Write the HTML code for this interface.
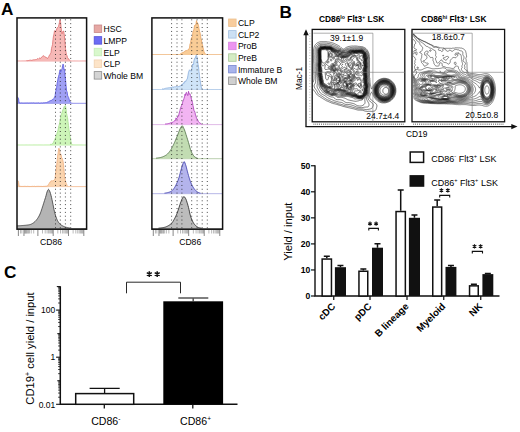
<!DOCTYPE html>
<html><head><meta charset="utf-8"><style>
html,body{margin:0;padding:0;background:#fff;width:520px;height:432px;overflow:hidden}
svg{display:block}
text{font-family:"Liberation Sans", sans-serif;fill:#000}
</style></head><body>
<svg width="520" height="432" viewBox="0 0 520 432">
<rect width="520" height="432" fill="#fff"/>
<defs><clipPath id="cb1"><rect x="312.9" y="30.1" width="91.3" height="91.1"/></clipPath></defs>
<path d="M324.3 63.0l-.8 .1 -.5-.2 -.4-.4 -.3-.5 -.3-.4 -.2-.5 -.2-.6 -.2-.5 -.1-.8 -.1-.5 0-.7 0-.8 0-.7 0-.8 -.1-.7 0-.8 0-.7 0-.8 0-.7 0-.8 .2-.5 .2-.5 .5-.5 .5 0 .8 0 .7 0 .8-.1 .7 .1 .5 .2 .5 .2 .5 .2 .4 .4 .3 .5 .1 .5 .1 .8 0 .7 .1 .8 0 .7 0 .8 -.1 .7 .1 .8 0 .7 0 .5 0 .5 -.2 .5 -.3 .5 -.3 .5 -.4 .5 -.3 .4 -.3 .4 -.4 .4 -.4 .3 -.4 .3 -.5 .4 -.2 .1z M361.0 73.6l.3-.1 -.3 .1z M385.8 94.2l-.5 0 -.6-.2 -.4-.3 -.5-.4 -.3-.3 -.3-.5 -.2-.5 -.2-.8 0-.7 .2-.8 .2-.5 .3-.5 .3-.4 .4-.3 .5-.3 .6-.2 .7 0 .8 .2 .5 .3 .3 .2 .4 .5 .3 .5 .2 .5 .1 .5 0 .8 0 .7 -.2 .5 -.2 .5 -.4 .5 -.3 .3 -.5 .4 -.5 .2 -.7 .1z M323.3 66.0l-.5 0 -.5-.4 -.3-.4 -.2-.6 -.1-.6 0-.8 0-.7 -.2-.7 -.2-.6 -.1-.5 -.2-.7 -.1-.5 -.1-.8 0-.7 0-.5 0-.8 0-.7 -.1-.8 0-.7 0-.8 0-.7 0-.8 .1-.7 0-.5 .2-.7 .3-.5 .3-.3 .7-.2 .5-.1 .5 0 .5 0 .7-.1 .8-.1 .5 .2 .7 .3 .5 .2 .5 .3 .5 .2 .3 0 .5-.2 .6-.3 .6 0 .5 .2 .3 .6 -.3 .7 -.5 .2 -.7 0 -.5 .2 -.3 .6 0 .5 0 .8 0 .7 0 .8 0 .7 0 .8 0 .7 .1 .5 .1 .8 -.2 .5 -.2 .6 -.3 .4 -.2 .5 -.3 .5 -.4 .5 -.3 .5 -.3 .3 -.3 .4 -.4 .5 -.3 .3 -.5 .5 -.2 .2 -.5 .5 -.3 .5 -.2 .3 -.5 .5z M362.3 60.8l-.8 0 -.1-.6 0-.7 -.4-.5 -.5-.1 -.7-.1 -.5-.3 -.1-.5 .3-.4 .5-.4 .3-.2 .5-.5 .3-.3 .3-.5 .3-.5 .2-.5 .4 .1 .1 .7 0 .7 0 .8 .1 .7 .1 .5 .3 .5 .2 .5 -.1 .8 -.2 .4 -.4 .3 -.1 .1z M331.5 60.8l-.7 0 -.5-.3 -.2-.5 .2-.7 .5-.1 .5 .2 .4 .3 .3 .5 0 .3 -.5 .3z M363.0 66.1l-.6-.1 0-.8 .4-.4 .3 .4 0 .8 -.1 .1z M361.8 75.8l-.5-.2 -.5-.2 -.5-.2 -.8-.1 -.7 .1 -.8 0 -.7-.1 -.8-.1 -.2-.3 .2-.5 .4-.2 .6-.1 .8-.1 .5-.1 .5-.3 .3-.4 .4-.4 .4-.4 .4-.2 .7-.3 .7 .3 .3 .4 .2 .6 0 .7 -.2 .8 -.1 .5 -.2 .5 -.4 .3z M338.0 81.2l-.2-.5 .2-.6 .4 .4 -.1 .7 -.3 0z M329.5 85.0l-.5-.2 -.3-.3 -.4-.5 -.3-.5 .3-.5 .7 0 .4 .2 .4 .5 .1 .5 -.1 .7 -.3 .1z M385.5 95.2l-.7 .1 -.8-.1 -.5 0 -.6-.2 -.5-.3 -.4-.2 -.5-.4 -.4-.4 -.3-.4 -.3-.4 -.2-.6 -.2-.6 -.1-.5 -.1-.7 .1-.8 .1-.5 .2-.5 .2-.6 .3-.4 .4-.5 .3-.3 .5-.4 .5-.3 .5-.2 .5-.2 .8 0 .7 0 .8 .2 .5 .2 .5 .2 .4 .3 .4 .3 .4 .4 .3 .3 .3 .5 .3 .5 .2 .5 .2 .8 0 .5 0 .7 -.1 .5 -.2 .8 -.2 .5 -.3 .5 -.2 .3 -.4 .4 -.4 .3 -.5 .3 -.5 .2 -.7 .2 -.3 0z M356.5 87.0l-.2-.3 .2 .2 0 .1z M362.8 90.7l-.6-.2 -.3-.5 .1-.7 .5-.2 .5 .4 .1 .5 -.1 .5 -.2 .2z M360.8 95.3l-.8 .1 -.7 0 -.8-.2 -.2-.3 -.3-.4 -.2-.8 .2-.7 .4-.3 .6-.1 .8 .1 .5 .1 .7 .1 .8 0 .4 .3 .2 .5 -.1 .8 -.3 .2 -.5 .4 -.6 .1 -.1 .1z M329.5 86.5l-.6 0 -.6-.3 -.4-.2 -.4-.3 -.4-.5 -.3-.2 -.5-.4 -.5-.2 -.5-.3 -.5-.2 -.5-.4 -.3-.3 -.4-.5 -.1-.5 -.2-.7 0-.5 -.1-.8 -.2-.5 -.2-.7 -.1-.5 0-.8 -.2-.7 .1-.8 -.2-.5 -.3-.5 0-.7 -.1-.6 -.2-.7 .1-.7 .1-.8 0-.6 0-.5 -.1-.6 -.1-.8 0-.7 -.1-.5 -.2-.7 -.2-.6 -.2-.5 -.1-.5 -.1-.7 -.1-.8 0-.7 .2-.8 .1-.5 -.1-.6 -.1-.6 -.1-.8 -.1-.5 -.1-.7 -.1-.5 0-.8 0-.7 0-.8 -.1-.7 0-.8 0-.7 0-.8 0-.7 .1-.8 0-.7 .1-.5 .2-.5 .3-.5 .4-.4 .5-.1 .8-.2 .7 .1 .8-.1 .5-.2 .7 .1 .5 .2 .5 .1 .6 .2 .6 .3 .5 0 .6-.3 .6 0 .6 0 .5 .2 .5 .3 .2 .5 .2 .5 0 .8 -.1 .7 -.3 .3 -.7 .2 -.5 .1 -.5 .2 -.3 .7 0 .5 0 .8 -.1 .7 .1 .8 .1 .5 .4 .4 .8-.2 .5 0 .5 .1 .5 .4 .2 .5 .3 .4 .5 .4 .5 .1 .7 0 .4-.4 0-.7 0-.8 .3-.5 .6-.2 .7 .1 .5 .2 .7 .2 .6 0 .7 .1 .5 .4 .1 .5 -.5 .2 -.6 .2 -.5 .2 -.5 .1 -.7 .3 -.5 .1 -.5 .3 -.1 .6 0 .7 -.1 .8 -.3 .5 -.3 .5 -.2 .3 -.4 .4 -.6 .2 -.5 .1 -.8 .1 -.5 .2 -.3 .4 -.2 .7 -.2 .6 -.3 .4 -.4 .3 -.6 .1 -.6-.1 -.6-.2 -.4-.3 -.4-.3 -.3-.4 -.4-.5 -.5-.1 -.5 .3 -.3 .3 -.2 .5 -.2 .7 -.1 .7 -.1 .6 -.1 .5 0 .7 .2 .5 .5 .3 .5 0 .5 0 .8-.2 .5-.1 .7-.1 .8 .1 .5 .2 .4 .3 .3 .4 .3 .6 0 .3 -.4 .5 -.4 .2 -.7 .2 -.6-.2 -.7-.1 -.7 .1 -.5 .2 -.5 .2 -.5 .2 -.5 .4 -.1 .5 .1 .6 0 .7 .1 .7 .1 .8 0 .5 .1 .7 0 .8 .2 .7 .2 .5 .3 .3 .5 .4 .7 0 .4-.4 .3-.5 .1-.5 .1-.8 .1-.7 .3-.3 .7-.2 .5-.2 .5-.2 .4 .4 .1 .7 .1 .5 .2 .7 .2 .6 0 .7 -.2 .8 -.2 .5 -.2 .5 -.2 .5 -.1 .7 .2 .6 .2 .7 .2 .5 0 .7 -.2 .5 -.5 .5 -.5 .2 -.5 .1z M362.5 80.4l-.7-.1 -.5-.3 -.5-.3 -.3-.3 -.2-.7 -.1-.5 -.2-.7 -.2-.3 -.8-.1 -.7 .1 -.5 .1 -.6 .2 -.7 .1 -.5-.3 -.3-.3 -.4-.5 -.3-.3 -.3-.5 -.1-.7 .2-.5 .4-.5 .3-.4 .5-.4 .5-.2 .5-.1 .8-.1 .5-.1 .5-.5 .1-.5 -.4-.4 -.3-.3 -.4-.5 -.2-.5 -.1-.5 -.7-.2 -.8 0 -.5-.1 -.5-.5 -.3-.2 -.7-.2 -.6-.1 -.4-.5 .1-.7 .2-.5 .1-.8 .1-.7 .3-.4 .5 .1 .3 .5 .2 .5 .5 .5 .7-.2 .5-.2 .5-.1 .5 0 .6 .3 .3 .5 -.1 .7 -.2 .5 -.2 .5 .1 .7 .5 .2 .8 .1 .5 .1 .5 .2 .5 0 .3-.5 .2-.5 .1-.8 0-.7 -.2-.5 -.1-.8 0-.7 0-.8 0-.7 -.1-.5 -.3-.5 -.4-.5 -.3-.3 -.5-.3 -.4-.4 -.3-.3 -.3-.5 -.3-.5 -.2-.5 -.2-.7 0-.5 0-.5 .5-.5 .5-.2 .5-.2 .5-.4 .2-.4 0-.3 -.4-.5 -.6-.2 -.5 .2 -.5 .5 -.3 .2 -.6 .3 -.3-.1 -.6-.2 -.5-.2 -.5-.3 -.5-.2 -.4-.3 -.5-.5 .2-.5 .5-.4 .8 0 .7 .1 .5 .1 .5 .2 .7 .3 .6 .1 .7-.1 .5-.2 .5-.2 .7-.1 .4 0 .7 0 .7 .2 .4 .3 .3 .5 .1 .5 -.1 .5 0 .7 0 .8 .1 .6 .2 .6 .3 .5 .1 .5 0 .8 -.1 .5 -.3 .6 -.2 .4 -.3 .7 0 .4 .2 .6 .2 .5 .3 .5 .2 .5 .1 .8 0 .5 -.1 .5 -.2 .5 -.3 .5 -.2 .5 -.2 .5 -.2 .7 -.1 .5 -.1 .8 .2 .5 .2 .5 .3 .7 .1 .5 .1 .8 -.1 .7 0 .8 .1 .7 .1 .5 0 .8 -.1 .6 -.2 .6 -.1 .5 -.2 .8 -.1 .5 -.4 .4z M341.8 59.3l-.5-.2 0-.5 .7 0 0 .6 -.2 .1z M328.2 63.0l.5-.3 .3-.4 0-.6 -.2-.5 -.5 0 -.3 .3 -.3 .5 -.2 .5 0 .6 .7-.1z M335.0 74.0l-.5-.3 .1-.2 .4 0 0 .5z M338.5 82.3l-.7 .1 -.8-.1 -.5-.2 -.1-.6 .1-.6 .2-.7 .1-.5 .2-.7 .1-.5 .3-.5 .6-.1 .5 .1 .5 .3 .3 .4 .1 .8 0 .7 -.1 .8 -.1 .5 -.2 .5 -.5 .3z M360.0 96.0l-.7 0 -.5-.1 -.6-.2 -.4-.4 -.3-.3 -.4-.5 -.3-.3 -.5-.3 -.5-.4 -.5-.3 -.3-.2 -.5-.5 -.2-.3 -.2-.7 .4-.4 .6-.1 .7-.1 .7 0 .8-.1 .5-.2 .5-.2 0-.4 -.3-.5 -.5-.4 -.5-.3 -.5-.1 -.6 0 -.6 .2 -.8 0 -.4-.4 -.3-.5 0-.5 0-.5 .2-.5 .3-.5 .3-.5 .3-.5 .4-.3 .7 0 .5 .1 .5 .3 .4 .4 .4 .5 .2 .2 .5 .4 .5 .4 .4 .2 .4 .5 .2 .3 .5 .4 .7-.2 .3-.2 .3-.5 .1-.8 -.1-.5 -.1-.7 -.2-.5 -.2-.8 -.2-.5 .1-.7 .3-.3 .5-.4 .5-.3 .4 0 .4 .2 .4 .5 .3 .5 0 .5 0 .5 -.2 .7 -.3 .5 -.2 .5 -.2 .6 .2 .5 .2 .6 .2 .6 .1 .5 .2 .8 .1 .5 -.1 .6 -.2 .6 -.2 .5 -.2 .5 -.1 .8 0 .5 -.2 .7 -.2 .5 -.4 .4 -.4 .4 -.6 .2 -.5 .1 -.7 .1 -.3 .1z M334.8 84.3l-.8 0 -.2-.3 0-.5 .3-.5 .3-.5 .4-.3 .5 .2 .1 .6 -.1 .7 -.3 .3 -.2 .3z M345.5 86.1l-.7-.1 -.4-.3 -.4-.4 -.2-.3 -.3-.5 -.1-.8 .3-.5 .5-.2 .6-.1 .5 .1 .4 .5 .2 .5 .2 .5 .1 .7 -.2 .5 -.5 .4z M385.3 96.5l-.8 .1 -.7-.1 -.5-.1 -.8-.2 -.5-.2 -.5-.3 -.4-.2 -.3-.3 -.5-.5 -.3-.3 -.3-.4 -.3-.5 -.2-.5 -.2-.5 -.2-.8 -.1-.5 0-.7 0-.8 .1-.5 .2-.7 .2-.5 .3-.5 .3-.5 .2-.4 .4-.4 .4-.4 .4-.3 .4-.3 .5-.2 .6-.3 .6-.1 .5-.1 .7-.1 .5 .1 .8 .1 .5 .2 .5 .2 .5 .3 .5 .3 .4 .4 .3 .3 .4 .4 .3 .5 .3 .5 .2 .5 .2 .5 .1 .8 .1 .5 0 .7 0 .8 -.1 .5 -.2 .6 -.3 .6 -.2 .5 -.3 .4 -.3 .4 -.4 .5 -.3 .2 -.5 .4 -.5 .3 -.5 .2 -.5 .2 -.6 .2 -.1 0z M344.5 89.3l-.6-.1 -.5-.2 .4-.3 .7 0 .3 .3 -.3 .3z M360.9 91.7l.2-.5 -.3-.5 -.3-.3 -.5-.2 -.7 0 -.5 .1 0 .4 .3 .5 .4 .3 .5 .3 .8 0 .1-.1z M359.5 96.5l-.5-.1 -.7-.1 -.4-.3 -.4-.3 -.5-.5 -.3-.2 -.5-.3 -.5-.2 -.4-.3 -.5-.2 -.5-.3 -.5-.3 -.5-.3 -.5-.3 -.5-.3 -.5-.3 -.5-.2 -.5-.2 -.5-.3 -.3-.3 .3-.3 .5-.2 .5-.2 .5-.3 .4-.5 .2-.5 -.2-.5 -.3-.5 -.2-.5 .2-.5 .4-.4 .4-.3 .3-.4 .3-.5 .1-.6 .1-.8 -.1-.7 -.3-.5 -.6-.3 -.7 .1 -.8-.1 -.5-.2 -.2-.5 .5-.5 .5-.1 .6 .1 .6 .2 .5 .1 .5-.1 .5-.3 .5-.4 .3-.4 .2-.4 .2-.7 -.1-.8 -.1-.5 -.2-.7 -.3-.5 -.2-.4 -.3-.4 -.2-.5 -.3-.6 -.1-.6 .1-.5 .3-.5 .3-.5 -.1-.5 -.2-.5 -.3-.5 -.3-.5 -.4-.5 -.3-.3 -.2-.5 -.2-.7 -.1-.5 -.2-.7 -.2-.6 .2-.5 .3-.5 .2-.5 .1-.7 -.1-.8 .2-.7 .5-.1 .8 0 .7 .1 .5 .1 .5 .4 .3 .3 .5 .4 .5 .1 .7 .1 .5 .1 .8 .2 .5 .1 .5-.1 .3-.5 .1-.7 -.2-.7 -.2-.4 -.5-.4 -.5-.3 -.4-.2 -.4-.3 -.4-.5 -.3-.4 -.3-.4 -.2-.7 -.1-.5 -.2-.7 -.2-.5 -.3-.4 -.2-.4 -.3-.5 -.5-.5 -.3-.2 -.7-.2 -.7 0 -.5 .3 -.5 .3 -.5 .3 -.5 .3 -.3 .3 -.2 .4 -.3 .7 -.1 .6 -.1 .5 -.3 .6 -.2 .4 -.5 .4 -.5 .1 -.5-.1 -.4-.4 -.3-.5 -.3-.5 -.4-.3 -.6-.1 -.5 .2 -.5 .4 -.3 .4 -.3 .4 -.4 .3 -.6 .2 -.7 .2 -.5 .2 -.5 .2 -.5 .1 -.5 0 -.5-.4 -.2-.5 -.3-.5 -.3-.3 -.7-.2 -.6 .2 -.4 .3 -.5 .4 -.5 .3 -.3 .2 -.3 .5 -.2 .5 -.1 .8 -.1 .5 -.2 .7 -.3 .4 -.4 .4 -.6 0 -.5-.1 -.7-.1 -.5 .2 -.5 .4 -.3 .3 -.4 .5 -.3 .5 -.3 .3 -.3 .5 -.2 .5 .1 .5 .3 .5 .3 .5 .3 .4 .4 .3 .4 .4 .5 .3 .5 .3 .5 .2 .5 .2 .7 0 .5-.3 .3-.3 .4-.5 .3-.4 .5-.4 .5-.1 .8-.1 .7 .1 .5 .3 .3 .5 .2 .6 .3 .4 .4 .3 .3 .3 .5 .3 .4 .4 0 .8 -.4 .3 -.7 .1 -.5-.2 -.5-.4 -.5-.3 -.5-.2 -.7 .2 -.3 .3 -.3 .4 -.4 .5 -.3 .5 -.2 .5 .2 .7 .3 .3 .4 .4 .5 .2 .5 .2 .5 .2 .5 .3 .5 .5 .2 .5 .1 .5 -.1 .5 -.2 .5 -.1 .7 -.1 .8 -.1 .5 -.2 .5 -.5 .4 -.6 .1 -.6 .1 -.7 .1 -.5 .3 -.3 .4 -.3 .4 -.3 .4 -.4 .4 -.5 .3 -.5 .2 -.3 .4 .3 .5 .5 .2 .5 .1 .7 .1 .5 .1 .8 .1 .5 .1 .7 .1 .5-.2 .5-.3 .4-.3 .3-.5 -.3-.5 -.2-.5 0-.8 .3-.5 .4-.2 .6-.2 .5-.2 .5-.2 .5-.3 .4-.4 .6-.2 .8 0 .5 0 .7-.1 .5 .1 .5 .5 .1 .5 0 .7 .2 .8 0 .5 0 .5 -.3 .7 -.2 .5 -.2 .5 .1 .8 .3 .5 .3 .4 .2 .4 .3 .4 .5 .5 .2 .3 .3 .3 -.8-.1 -.5 0 -.7-.1 -.8-.1 -.5-.1 -.7-.1 -.8-.1 -.5-.1 -.7-.1 -.5-.3 -.5-.2 -.3-.3 -.5-.3 -.5-.2 -.5-.2 -.7-.2 -.8 0 -.7 0 -.5 .2 -.5 .3 -.5 .2 -.8 .2 -.5 .1 -.5-.1 -.5-.4 -.4-.3 -.3-.3 -.5-.3 -.5-.3 -.5-.2 -.8-.2 -.7 .1 -.8 0 -.5-.1 -.5-.2 -.5-.3 -.5-.3 -.5-.3 -.5-.3 -.4-.3 -.4-.3 -.4-.2 -.5-.4 -.5-.4 -.3-.3 -.3-.4 -.3-.5 -.1-.5 -.2-.8 -.1-.5 -.1-.7 -.2-.5 -.2-.8 -.1-.5 0-.7 -.2-.5 0-.8 -.2-.7 -.2-.5 0-.8 0-.7 -.1-.5 0-.8 0-.7 .1-.5 0-.8 -.1-.5 -.1-.7 -.1-.5 -.1-.8 -.1-.6 -.2-.6 -.1-.5 -.1-.8 0-.7 -.1-.8 .1-.7 .1-.7 .2-.6 -.1-.7 0-.8 -.1-.5 -.1-.7 -.1-.8 -.1-.5 0-.7 0-.8 0-.7 0-.8 0-.7 -.1-.8 0-.7 .1-.8 0-.7 0-.8 .2-.5 .1-.5 .4-.5 .4-.3 .5-.2 .7-.1 .8-.1 .7 0 .5-.2 .8 0 .5 .2 .7 .2 .5 .1 .8 .2 .5 0 .5-.2 .7 0 .8 .2 .5 .1 .4 .4 .3 .4 .3 .3 .2 .8 .3 .5 .2 .4 .4 .3 .4 .3 .5 .3 .4 .4 .2 .5 .2 .5 .3 .5 .4 .3 .5 .3 .5 .2 .5 .3 .7 .2 .5 0 .5 0 .6 0 .4 .2 .5 .5 .4 .3 .5 .2 .6 .2 .5 .1 .8 .1 .6 .1 .6 .2 .8 0 .7 0 .8 0 .5-.2 .5-.3 .5-.4 .3-.3 .4-.4 .5-.3 .3-.3 .5-.4 .3-.3 .4-.4 .5-.2 .5-.2 .5-.3 .5-.2 .5-.5 .5-.1 .5-.3 .8-.1 .7 .1 .8 0 .7 .1 .8 0 .7-.2 .5-.1 .8 0 .7 0 .7 .1 .6 .2 .5 .2 .5 .1 .5 .5 .2 .3 .2 .7 0 .8 0 .7 0 .8 .1 .5 .2 .6 .3 .6 .1 .5 0 .8 -.1 .6 -.2 .6 -.2 .5 -.1 .8 .1 .7 .2 .5 .2 .6 .1 .7 .1 .7 0 .5 0 .5 -.2 .7 -.2 .6 -.2 .5 -.1 .7 -.1 .5 -.1 .8 .1 .7 .1 .5 .2 .8 0 .6 0 .6 0 .5 0 .7 .1 .6 .2 .6 .1 .6 -.1 .8 -.1 .5 -.2 .5 -.1 .7 .1 .8 0 .7 0 .5 .2 .8 .2 .5 .2 .5 .1 .7 0 .8 -.1 .7 0 .8 .2 .6 0 .6 -.1 .5 -.2 .8 .1 .7 .1 .8 -.1 .7 -.2 .5 -.1 .6 -.2 .7 -.1 .5 -.2 .7 -.2 .5 -.2 .5 -.3 .5 -.3 .3 -.5 .4 -.5 .2 -.7 .1 -.6 .2 -.7 .1 -.3 0z M332.5 55.7l.5-.2 .1-.8 -.4-.2 -.7-.1 -.7 .1 -.4 .2 .1 .7 .5 .3 .5 .1 .5-.1z M350.0 66.0l-.5-.2 -.3-.3 -.3-.5 -.1-.8 .1-.7 .3-.5 .5-.3 .6-.1 .6 .1 .4 .3 0 .7 -.3 .5 -.2 .5 -.1 .5 -.2 .5 -.5 .3z M345.0 73.1l-.7 0 -.4-.4 0-.7 .4-.5 .5-.3 .3 0 .3 .5 0 .8 -.3 .5 -.1 .1z M351.3 72.7l-.5 0 -.4-.5 .1-.7 .5-.3 .5 .5 .1 .5 -.3 .5z M343.5 78.0l-.5-.3 -.1-.5 .1-.5 .4-.5 .4-.2 .7-.3 .5-.1 .8-.1 .5-.2 .4-.3 .5-.3 .6 0 .4 .3 .3 .5 .2 .5 -.1 .7 -.3 .5 -.5 .3 -.5 .1 -.8 0 -.5-.1 -.7 0 -.5 .1 -.5 .2 -.7 .2 -.1 0z M335.5 80.0l.3-.3 .2-.7 -.2-.7 -.5-.3 -.5-.2 -.5-.2 -.5-.3 -.3-.3 -.5-.5 -.3 0 -.3 .5 0 .7 .2 .5 .2 .5 .2 .6 .5 .4 .5 .2 .5 .1 .8 .1 .2-.1z M357.8 80.2l.7-.2 .2-.5 -.3-.5 -.4 0 -.5 .2 -.5 .5 0 .4 .5 .2 .3-.1z M332.4 83.0l.3-.5 -.4-.3 -.3 .3 .1 .5 .3 0z M360.0 86.2l.3-.2 .2-.8 -.2-.7 -.3-.4 -.3-.4 -.4-.3 -.7 .1 -.2 .5 -.1 .7 .2 .7 .3 .3 .5 .4 .5 .1 .2 0z M384.8 97.5l-.8 0 -.5-.1 -.7-.1 -.5-.2 -.5-.2 -.5-.2 -.5-.4 -.5-.3 -.3-.3 -.5-.5 -.2-.3 -.3-.4 -.3-.5 -.3-.5 -.2-.5 -.2-.8 -.1-.5 -.1-.7 0-.8 .1-.7 .1-.7 .2-.6 .2-.5 .2-.5 .3-.5 .3-.5 .3-.4 .3-.3 .5-.4 .4-.4 .4-.2 .4-.3 .5-.2 .8-.3 .5-.1 .7-.1 .8 0 .7 .1 .5 .1 .8 .3 .5 .2 .4 .3 .4 .2 .4 .4 .5 .4 .3 .3 .3 .4 .3 .5 .3 .5 .2 .5 .2 .5 .2 .6 .1 .7 .1 .7 0 .8 -.1 .7 -.1 .5 -.2 .8 -.2 .5 -.3 .5 -.3 .5 -.3 .4 -.3 .3 -.4 .5 -.3 .3 -.5 .3 -.5 .4 -.5 .2 -.5 .2 -.5 .2 -.7 .1 -.5 .1z M343.3 87.0l.1-.8 -.3-.5 -.3-.4 -.5-.3 -.4 0 -.5 .2 -.4 .3 -.3 .5 .3 .3 .5 .4 .5 .3 .5 .1 .8-.1z M361.0 96.7l-.7 .1 -.8 .1 -.7-.2 -.5 0 -.5-.3 -.5-.3 -.4-.4 -.4-.2 -.5-.3 -.6-.2 -.6-.2 -.5-.3 -.5-.1 -.6-.2 -.4-.3 -.5-.4 -.5-.2 -.5-.3 -.5-.1 -.7-.2 -.6-.1 -.7-.1 -.5-.2 -.6-.1 -.7-.2 -.5-.3 -.5-.2 -.5-.2 -.5-.1 -.6-.2 -.6 0 -.8-.2 -.5-.1 -.5-.2 -.6-.3 -.4-.2 -.5-.3 -.6-.2 -.6-.2 -.8 0 -.7 0 -.8 .2 -.5 .1 -.5 .2 -.5 .2 -.7 .1 -.5 .2 -.7-.1 -.5-.2 -.4-.3 -.4-.5 -.3-.2 -.5-.5 -.5-.2 -.5-.2 -.5-.1 -.7-.1 -.8 0 -.5-.2 -.5-.2 -.5-.3 -.5-.3 -.5-.4 -.5-.2 -.4-.3 -.4-.3 -.5-.2 -.4-.5 -.4-.3 -.4-.5 -.2-.3 -.3-.4 -.3-.5 -.1-.8 -.1-.7 -.2-.5 0-.6 -.2-.7 -.2-.5 0-.7 -.1-.8 -.1-.5 -.1-.7 -.2-.5 -.1-.8 0-.7 0-.7 -.2-.6 .1-.7 0-.8 .1-.5 0-.5 -.3-.7 0-.5 -.1-.8 -.1-.7 -.1-.5 -.1-.8 -.1-.7 0-.5 -.1-.8 0-.7 .1-.8 .2-.5 .1-.5 0-.6 0-.6 0-.3 -.1-.7 -.1-.8 -.1-.6 0-.6 0-.8 0-.7 -.1-.8 0-.7 0-.8 0-.7 0-.8 0-.7 0-.8 0-.7 .2-.5 .2-.5 .3-.5 .4-.4 .5-.1 .8-.2 .6-.1 .6 0 .3 0 .7-.2 .8 0 .6 .2 .6 .1 .8 .2 .5 0 .7 0 .5-.1 .5 .1 .8 0 .5 .2 .5 .4 .4 .4 .3 .3 .3 .5 .2 .5 .4 .4 .4 .4 .5 .2 .5 .2 .5 .4 .3 .3 .3 .5 .3 .5 .3 .5 .5 .3 .4 .2 .5 .3 .6 .1 .8 0 .7-.1 .5 .3 .4 .4 .4 .5 .3 .3 .4 .3 .8 .1 .7 .1 .5 0 .8 .1 .7-.1 .3 0 .5 0 .7-.2 .5-.2 .5-.3 .4-.3 .4-.3 .5-.4 .3-.3 .4-.5 .3-.3 .5-.4 .5-.1 .5-.2 .5-.4 .5-.2 .5-.4 .7 0 .5-.2 .8 0 .7 0 .8 0 .7 0 .8-.1 .5-.1 .7-.1 .8 0 .7 .1 .8 0 .5 .3 .5 .2 .5 .2 .5 .3 .4 .4 .3 .5 .1 .5 0 .7 0 .8 0 .7 .1 .8 .2 .5 .3 .5 .1 .5 0 .7 0 .5 -.1 .8 -.2 .6 -.1 .6 .1 .8 .1 .5 .1 .7 .1 .5 .1 .8 .1 .7 0 .8 -.2 .6 -.2 .6 -.2 .5 -.1 .8 -.1 .5 0 .7 .1 .7 .1 .6 .1 .7 0 .5 0 .8 0 .5 .1 .5 .1 .7 .2 .5 .1 .8 -.2 .7 -.2 .5 -.1 .5 .1 .5 0 .8 0 .7 .1 .8 .1 .5 .2 .7 .1 .5 .2 .8 0 .5 .1 .7 0 .8 .2 .5 -.1 .7 -.1 .5 -.2 .5 -.1 .8 0 .7 .1 .8 -.2 .6 -.1 .6 -.2 .5 -.2 .8 -.1 .5 -.1 .5 -.3 .5 -.3 .5 -.4 .5 -.3 .3 -.5 .4 -.5 .2 -.5 .1 -.5 .2z M348.5 72.7l.3-.2 .2-.6 .2-.7 0-.7 .2-.5 .4-.3 .5-.2 .5-.4 -.1-.4 -.4-.3 -.5-.4 -.3-.4 -.2-.4 -.5-.5 -.3-.2 -.5-.5 -.1-.5 -.1-.7 -.1-.6 -.2-.5 -.4-.5 -.6-.2 -.4 0 -.4 .2 -.3 .5 0 .8 .1 .5 .3 .5 .5 .4 .3 .3 .3 .5 -.1 .8 -.2 .5 -.3 .5 -.5-.4 -.5-.4 -.3-.2 -.5-.3 -.5 0 -.4 .5 -.3 .5 -.4 .3 -.6 .2 -.5 .2 -.5 .3 -.3 .5 .2 .8 .3 .4 .5 .2 .5-.2 .5-.4 .3-.3 .5-.5 .5-.2 .5-.2 .5-.1 .5-.3 .5-.4 .7 .2 .5 .2 .5 .1 .5 .3 .4 .4 -.2 .5 -.4 .5 -.3 .3 -.4 .5 -.3 .4 -.1 .6 .3 .2 .8 .1 .2-.1z M342.8 64.5l-.1-.5 -.4 0 .2 .5 .3 0z M335.1 70.5l.4-.3 .4-.5 .3-.5 .3-.4 .4-.3 .4-.3 .5-.2 .5-.5 0-.5 0-.5 -.2-.8 -.2-.5 -.4-.4 -.5 .3 -.5 .3 -.3 .3 -.4 .4 -.5 .1 -.5-.1 -.5-.2 -.7-.2 -.3 .1 -.5 .2 -.4 .5 -.4 .5 -.2 .5 -.1 .5 .1 .6 .2 .6 .3 .3 .5 .5 .4 .2 .5 .3 .6 .2 .7-.1 .1-.1z M349.2 81.2l.6-.2 .5-.2 .5-.1 .7-.1 .7-.1 .5-.3 .3-.4 .2-.6 .2-.5 .1-.6 0-.4 -.2-.7 -.3-.5 -.2-.4 -.3-.4 -.3-.5 -.2-.5 -.5-.5 -.4-.2 -.6-.2 -.5-.1 -.5 0 -.4 .5 .1 .8 .1 .5 .2 .7 -.1 .8 -.3 .5 -.3 .4 -.5 .3 -.5 .3 -.5 .1 -.8 0 -.7-.1 -.8 .1 -.5 .1 -.5 .3 -.3 .5 0 .7 .2 .5 .4 .4 .5 .1 .5 0 .7-.1 .8 0 .5 .2 .7 .2 .8-.1 .4-.2z M341.5 77.2l.2-.7 -.1-.8 -.3-.3 -.5-.4 -.5-.3 -.5-.2 -.5-.2 -.8 .1 -.4 .3 -.2 .5 .1 .5 .5 .4 .5 .3 .5 .2 .5 .2 .5 .3 .5 .3 .5-.2z M341.4 81.7l.3-.5 -.1-.7 -.3-.3 -.5 .2 -.2 .6 .2 .7 .5 .1 .1-.1z M384.8 98.2l-.8 0 -.5 0 -.7-.1 -.5-.2 -.5-.2 -.6-.2 -.4-.3 -.5-.3 -.5-.4 -.3-.3 -.5-.5 -.2-.3 -.4-.4 -.3-.5 -.2-.5 -.2-.5 -.2-.5 -.2-.8 -.1-.5 -.1-.7 0-.8 .1-.7 .1-.6 .1-.7 .2-.5 .2-.5 .2-.5 .3-.5 .4-.5 .3-.4 .3-.3 .5-.5 .3-.3 .4-.3 .5-.3 .5-.2 .5-.2 .7-.2 .6-.2 .7 0 .8 0 .7 0 .6 .2 .7 .2 .5 .2 .5 .2 .5 .3 .4 .3 .3 .3 .5 .5 .3 .3 .3 .4 .4 .5 .3 .5 .2 .5 .2 .5 .2 .5 .1 .7 .1 .6 .1 .7 0 .8 -.1 .7 -.1 .5 -.2 .8 -.2 .5 -.2 .5 -.2 .5 -.4 .5 -.3 .4 -.2 .3 -.5 .5 -.3 .3 -.5 .4 -.5 .3 -.4 .3 -.6 .2 -.5 .2 -.5 .2 -.7 .1 -.5 0z M350.4 89.5l.4-.3 0-.7 0-.5 0-.5 .2-.6 .4-.4 .4-.3 .4-.5 .2-.5 -.1-.7 -.3-.5 -.5-.3 -.5-.1 -.5-.1 -.7-.2 -.5-.1 -.8-.1 -.7 .1 -.3 .3 -.1 .7 0 .8 -.1 .7 -.1 .5 -.1 .8 .1 .7 .3 .5 .3 .3 .5 .4 .5 .3 .5 .2 .5 .1 .6 0z M337.8 85.2l.5-.4 .1-.6 -.4-.2 -.5 .1 -.4 .4 .2 .6 .5 .1z M361.3 97.1l-.8 0 -.7 0 -.8 .1 -.5-.3 -.7 0 -.5-.4 -.5-.3 -.4-.2 -.5-.3 -.6-.2 -.5-.2 -.5-.1 -.8-.1 -.6-.1 -.5-.3 -.4-.3 -.5-.2 -.5-.3 -.5-.2 -.7-.2 -.5-.1 -.8-.1 -.5-.2 -.7-.1 -.5-.1 -.5-.3 -.5-.2 -.5-.4 -.5-.1 -.5-.2 -.7 0 -.3 0 -.8-.1 -.5-.3 -.5-.3 -.5-.3 -.3-.2 -.5-.3 -.7-.2 -.5-.1 -.7 .1 -.5 0 -.8 .2 -.5 .2 -.5 .2 -.5 .2 -.5 .2 -.7 .2 -.5 .3 -.5 0 -.3-.3 -.5-.3 -.3-.4 -.4-.4 -.4-.4 -.4-.3 -.5-.3 -.5-.2 -.7 0 -.7 .1 -.2 .5 -.5 0 -.1-.6 -.3-.4 -.5-.4 -.3-.4 -.4-.2 -.5-.4 -.5-.2 -.5-.3 -.5-.4 -.5-.2 -.3-.3 -.4-.5 -.3-.4 -.3-.4 -.3-.4 -.2-.5 -.3-.5 -.2-.5 .1-.5 -.1-.5 -.1-.8 -.3-.5 -.1-.7 -.1-.5 .1-.8 -.3-.5 0-.7 -.1-.8 -.2-.5 0-.7 0-.8 -.2-.5 0-.7 0-.8 .1-.7 0-.5 -.3-.5 0-.5 0-.8 -.1-.7 -.1-.8 0-.5 -.1-.7 0-.8 0-.7 -.1-.8 .1-.7 .1-.7 .1-.6 0-.7 0-.8 0-.7 -.1-.8 0-.5 -.1-.7 0-.8 0-.7 0-.8 0-.7 -.1-.8 0-.7 0-.8 0-.7 0-.8 0-.7 .2-.5 .2-.7 .3-.4 .3-.4 .6-.3 .6-.1 .7-.1 .5-.1 .8 .1 .7-.3 .8 0 .7 .3 .5 0 .8 .1 .7 0 .8 0 .6 .1 .6 .1 .5 .2 .7 .2 .4 .3 .5 .2 .4 .5 .3 .5 .2 .4 .5 .4 .4 .2 .6 .3 .5 .2 .5 .3 .3 .3 .3 .4 .4 .5 .5 .3 .3-.1 .5 .2 .5 .2 .5 .3 .5 .1 .7 .3 .5 .2 .3 .3 .6 .2 .1 .5 .5 .4 .5 .2 .8 .1 .7 .1 .3 0 .7-.2 .8 0 .5-.2 .5-.2 .5-.3 .5-.4 .2-.3 .5-.4 .3-.5 .3-.3 .4-.3 .5-.2 .7-.2 .6-.3 .3-.2 .6-.3 .3-.2 .7 0 .3-.1 .8 0 .7 0 .8-.1 .7 0 .8 0 .5-.1 .7-.1 .8-.1 .7 .1 .8 0 .7 .1 .5 .3 .5 .2 .5 .3 .5 .2 .3 .3 .4 .5 .3 .5 0 .6 0 .6 0 .5 0 .5 .1 .8 .2 .7 .2 .3 .2 .7 0 .8 0 .7 -.1 .8 -.1 .5 0 .7 0 .8 0 .5 .1 .7 .1 .8 .1 .5 .1 .7 0 .8 -.1 .6 -.3 .6 -.1 .5 -.1 .5 -.1 .8 0 .7 .1 .7 .1 .6 .1 .7 0 .8 0 .7 0 .6 .1 .7 .2 .5 .1 .7 0 .8 -.2 .5 -.2 .5 0 .5 .1 .7 0 .8 .1 .7 .1 .6 .1 .7 .1 .6 .2 .6 .1 .5 .1 .8 0 .7 .2 .5 0 .8 -.1 .5 -.2 .7 -.1 .5 -.1 .8 0 .7 0 .8 -.2 .5 0 .7 -.2 .5 -.2 .5 -.2 .8 -.3 .4 -.2 .4 -.3 .4 -.4 .5 -.3 .4 -.5 .3 -.5 .2 -.5 .3 -.5 .2z M334.8 69.7l.5-.4 .2-.5 0-.6 -.2-.4 -.4-.3 -.4-.4 -.5-.3 -.5-.1 -.5 .3 -.2 .4 -.2 .6 .1 .7 .3 .5 .4 .3 .5 .2 .6 .1 .3-.1z M351.6 79.7l.4-.4 .2-.6 0-.7 -.2-.7 -.2-.4 -.4-.4 -.4-.4 -.4 .4 -.2 .5 -.3 .5 -.3 .4 -.3 .4 -.3 .4 -.1 .8 .4 .3 .8 .2 .7-.1 .6-.2z M385.5 98.8l-.7 0 -.8 0 -.7 0 -.5-.1 -.7-.2 -.6-.2 -.5-.3 -.5-.2 -.4-.3 -.3-.3 -.5-.4 -.4-.3 -.4-.5 -.2-.3 -.4-.5 -.3-.5 -.2-.5 -.2-.5 -.2-.5 -.2-.7 -.1-.5 -.1-.8 -.1-.7 .1-.8 .1-.7 .1-.5 .2-.8 .2-.5 .2-.5 .3-.5 .3-.5 .3-.4 .2-.3 .5-.5 .3-.3 .5-.4 .4-.3 .4-.3 .4-.2 .6-.3 .7-.2 .5-.2 .6-.1 .6 0 .8 0 .6 0 .6 .1 .5 .2 .7 .2 .6 .3 .4 .2 .4 .3 .4 .3 .5 .4 .3 .3 .5 .5 .2 .3 .3 .4 .3 .5 .3 .5 .2 .5 .2 .5 .2 .8 .1 .5 .1 .7 0 .8 0 .7 -.1 .8 -.1 .5 -.2 .7 -.2 .5 -.2 .5 -.2 .5 -.3 .5 -.4 .5 -.2 .3 -.4 .5 -.4 .3 -.5 .4 -.3 .3 -.4 .3 -.5 .2 -.5 .3 -.6 .2 -.7 .2 -.5 .1z M349.6 88.0l.3-.5 .2-.5 .4-.5 .3-.4 .3-.4 .3-.5 -.2-.5 -.4-.3 -.5-.2 -.8-.1 -.7 0 -.5 .2 -.3 .6 -.1 .6 -.1 .7 .1 .8 .2 .5 .4 .3 .5 .3 .6-.1z M359.0 97.5l-.5-.2 -.5-.1 -.5-.2 -.5-.3 -.5-.3 -.7-.1 -.5-.2 -.5-.3 -.6-.1 -.7 0 -.5-.3 -.5-.2 -.7-.2 -.5-.1 -.5-.3 -.5-.3 -.6-.1 -.7-.1 -.5-.2 -.5-.2 -.7 0 -.3-.1 -.7 0 -.5-.3 -.6-.1 -.4-.3 -.7-.2 -.5 0 -.5 .3 -.5 0 -.6 0 -.5-.3 -.2-.5 -.5-.4 -.3-.5 -.5-.3 -.5-.1 -.5-.2 -.7 0 -.5 .2 -.5 .1 -.5 .4 -.5 .3 -.4 .3 -.5 .2 -.6 .3 -.5 0 -.6 .2 -.7 .2 -.7-.1 -.5-.3 -.1-.5 -.2-.6 -.5-.4 -.2-.3 -.5 .2 -.5 .1 -.7 .2 -.6 .1 -.7-.1 -.5-.2 -.3-.3 -.2-.7 -.1-.5 .1-.5 -.4-.3 -.4-.5 -.3-.2 -.4-.3 -.5-.2 -.5-.4 -.4-.4 -.4-.3 -.4-.4 -.3-.5 -.3-.5 -.3-.3 -.3-.5 -.2-.5 -.3-.5 -.1-.7 0-.3 0-.5 -.2-.7 -.3-.5 0-.8 -.2-.5 0-.7 -.2-.5 0-.8 0-.7 -.3-.5 0-.8 0-.7 -.3-.5 0-.8 .1-.7 0-.8 0-.7 -.3-.5 0-.8 0-.7 0-.8 -.1-.7 0-.8 0-.5 -.1-.7 0-.8 0-.7 .1-.8 .1-.5 -.1-.6 0-.6 .1-.5 0-.8 -.1-.7 0-.5 0-.8 0-.7 0-.8 -.1-.7 0-.8 0-.7 0-.8 -.1-.7 0-.8 0-.7 0-.8 .2-.7 .1-.5 .3-.5 .1-.6 .5-.4 .5-.1 .8-.1 .7-.1 .5 0 .7 0 .4 0 .7-.2 .7 0 .5 .3 .8 0 .7 0 .7 .2 .4 0 .7-.1 .5 .1 .7 .1 .5 .2 .5 .3 .5 .4 .5 .2 .4 .3 .4 .5 .3 .2 .4 .4 .5 .2 .5 .2 .5 .3 .5 .2 .5 .2 .5 .4 .5 .4 .3 0 .5 .2 .3 .3 .4 .3 .5 .3 .5 .2 .6 .2 .7 .2 .5 .3 .2 .4 .3 .3 .6 .3 .6 .2 .5 .1 .5-.2 .8 0 .5-.3 .5-.1 .5-.4 .4-.3 .3-.5 .4-.3 .4-.3 .5-.3 .4-.4 .5-.2 .6-.1 .5-.2 .5-.3 .7-.1 .5-.2 .8 0 .5-.2 .7 .1 .5 0 .5-.2 .8 .1 .7 0 .8-.1 .5-.1 .7 0 .8 0 .7 0 .8 0 .5 0 .5 .3 .5 .3 .5 .3 .5 .3 .5 .3 .2 .5 .3 .5 0 .5 .2 .3 -.1 .7 .2 .5 0 .8 .1 .7 .3 .5 .1 .5 0 .8 0 .7 -.1 .8 0 .5 0 .7 0 .8 0 .6 0 .6 0 .8 .1 .7 .1 .8 0 .7 0 .8 -.2 .7 -.2 .5 -.1 .5 -.1 .8 .1 .7 .1 .8 .1 .5 0 .7 .1 .8 0 .7 0 .8 .1 .5 .1 .7 0 .8 0 .7 -.2 .7 0 .3 .1 .8 0 .7 0 .8 .1 .7 .1 .5 .1 .8 .1 .7 0 .5 .2 .8 0 .7 .2 .5 -.1 .8 -.1 .5 0 .7 -.1 .8 -.1 .7 .1 .8 0 .7 -.3 .5 .1 .8 -.3 .5 -.2 .5 -.2 .5 -.3 .5 -.4 .4 -.2 .3 -.5 .5 -.3 .4 -.4 .4 -.3 .3 -.5 .3 -.6 .1 -.7 .2 -.7 0 -.8 .1 -.5 0z M385.8 99.3l-.8 .1 -.7 0 -.8-.1 -.7-.1 -.5-.1 -.5-.2 -.6-.2 -.5-.2 -.4-.3 -.5-.3 -.5-.4 -.4-.3 -.4-.4 -.3-.3 -.4-.5 -.3-.4 -.2-.5 -.3-.4 -.2-.6 -.3-.6 -.1-.5 -.2-.5 -.1-.8 -.1-.7 0-.8 .1-.7 .1-.8 .1-.5 .2-.7 .2-.5 .2-.5 .3-.5 .3-.5 .3-.4 .3-.4 .4-.5 .3-.3 .5-.4 .3-.3 .4-.3 .5-.3 .5-.2 .5-.2 .6-.2 .7-.2 .5-.1 .7-.1 .8 0 .7 .1 .5 .1 .7 .2 .6 .2 .5 .2 .5 .2 .5 .3 .4 .3 .3 .3 .5 .4 .3 .3 .4 .5 .3 .4 .3 .4 .3 .5 .2 .5 .3 .5 .2 .5 .2 .7 .1 .5 .1 .8 .1 .7 -.1 .8 0 .7 -.2 .8 -.1 .5 -.1 .5 -.3 .6 -.2 .6 -.3 .4 -.2 .4 -.3 .5 -.4 .5 -.3 .3 -.4 .4 -.4 .3 -.5 .4 -.5 .3 -.4 .3 -.6 .2 -.5 .2 -.5 .2 -.6 .1 -.1 .1z M362.3 97.7l-.8 .2 -.7 0 -.8 0 -.7 0 -.8-.1 -.5-.1 -.6-.2 -.6-.3 -.5-.2 -.5-.2 -.5-.3 -.5-.1 -.8-.2 -.5-.1 -.7-.1 -.5-.1 -.6-.2 -.6-.2 -.6-.3 -.5-.2 -.5-.1 -.5-.2 -.7-.2 -.5-.1 -.8 0 -.7 0 -.8-.1 -.7 0 -.8 0 -.7-.1 -.8 .2 -.7-.2 -.5-.1 -.5-.4 -.4-.2 -.4-.4 -.2-.4 -.8-.2 -.5 0 -.4 .2 -.3 .4 -.4 .4 -.5 .2 -.4 0 -.7-.1 -.8 0 -.7 0 -.8 .1 -.5 .2 -.7 0 -.8-.1 -.4-.3 -.4-.3 -.4-.4 -.5-.3 -.5-.2 -.5-.2 -.7-.1 -.6-.2 -.5-.1 -.5-.3 -.4-.4 -.2-.5 -.1-.7 -.1-.6 -.4-.5 -.3-.3 -.5-.2 -.5-.4 -.4-.3 -.3-.3 -.5-.5 -.3-.2 -.2-.6 -.4-.4 -.2-.5 -.3-.5 -.2-.5 -.2-.5 -.2-.8 .1-.7 -.2-.5 -.2-.8 0-.5 -.2-.6 0-.6 0-.5 -.2-.5 -.1-.8 0-.5 -.3-.5 0-.7 0-.8 -.2-.5 -.1-.7 0-.8 .1-.7 0-.5 -.1-.5 -.1-.8 0-.7 0-.5 -.1-.8 0-.7 -.1-.8 0-.7 -.1-.8 0-.5 0-.7 .1-.5 .1-.8 .1-.3 0-.7 0-.5 0-.7 0-.8 0-.7 0-.5 -.1-.8 0-.7 0-.8 0-.7 0-.8 -.1-.7 -.1-.8 0-.5 0-.7 0-.8 0-.7 .1-.5 .2-.5 .2-.6 .3-.6 .4-.3 .6-.3 .5-.2 .7 0 .8 0 .5-.1 .7 0 .8-.1 .7 0 .8 .2 .5 0 .7 0 .8 0 .7 0 .8 .1 .7 .1 .5 .2 .5 .3 .5 .3 .5 .2 .3 .3 .5 .4 .3 .3 .4 .3 .5 .3 .5 .2 .5 .3 .8 .2 .4 .2 .6 .2 .5 .2 .7 .1 .5 .2 .4 .3 .4 .4 .5 .4 .5 .1 .5 .3 .5 .1 .5 .3 .5 .3 .4 .4 .6 .2 .7-.2 .6 0 .7-.2 .5-.3 .5-.3 .2-.3 .5-.3 .5-.4 .5-.2 .4-.3 .6-.2 .5-.1 .5-.2 .6-.2 .7-.1 .5-.2 .6 0 .4-.1 .7 .1 .6 0 .4 0 .8-.2 .7 0 .8 0 .7 0 .7 0 .6 0 .7-.1 .8 0 .7 0 .5 .1 .6 .2 .4 .3 .5 .2 .5 .5 .3 .3 .3 .5 .3 .5 .2 .5 .2 .7 0 .6 .2 .7 0 .7 .1 .5 .3 .5 .1 .8 -.1 .7 -.1 .8 0 .5 0 .7 0 .8 0 .5 0 .7 0 .8 0 .7 .1 .8 .1 .6 .1 .6 -.1 .7 -.1 .6 -.2 .5 -.1 .7 0 .8 0 .7 .1 .8 0 .7 0 .8 0 .7 .1 .8 0 .5 .1 .7 .1 .8 0 .5 0 .5 -.2 .7 0 .3 .2 .7 -.1 .8 .1 .7 0 .8 0 .6 .1 .6 .2 .7 .1 .6 .1 .5 .1 .7 .2 .6 0 .7 -.1 .5 -.1 .7 -.1 .5 -.1 .8 -.1 .7 0 .8 .1 .7 -.2 .5 0 .8 -.1 .7 -.3 .5 -.2 .5 -.3 .5 -.3 .3 -.4 .5 -.3 .3 -.3 .4 -.5 .5 -.3 .3 -.4 .4 -.5 .3z M385.8 99.8l-.8 .1 -.7 0 -.8-.1 -.7-.1 -.5-.1 -.5-.1 -.6-.3 -.6-.2 -.4-.3 -.5-.2 -.4-.4 -.5-.4 -.3-.2 -.5-.5 -.2-.3 -.4-.5 -.3-.5 -.3-.5 -.3-.5 -.2-.5 -.2-.5 -.2-.5 -.1-.7 -.1-.5 -.1-.8 0-.7 0-.8 .1-.7 .1-.5 .2-.8 .1-.5 .2-.5 .2-.5 .3-.5 .3-.5 .3-.5 .4-.4 .3-.3 .4-.5 .3-.3 .5-.3 .5-.4 .5-.3 .4-.2 .6-.3 .5-.1 .5-.2 .7-.2 .5 0 .8-.1 .7 .1 .6 0 .7 .1 .5 .2 .7 .2 .5 .3 .5 .2 .5 .3 .3 .2 .5 .4 .4 .4 .3 .3 .5 .4 .3 .4 .2 .4 .3 .5 .3 .5 .3 .5 .2 .5 .2 .6 .2 .6 .1 .5 .1 .8 0 .7 0 .8 -.1 .7 -.1 .7 -.1 .6 -.1 .5 -.3 .6 -.2 .6 -.3 .5 -.2 .4 -.3 .4 -.3 .5 -.4 .5 -.3 .2 -.5 .5 -.3 .3 -.4 .3 -.5 .3 -.5 .3 -.5 .3 -.5 .2 -.5 .1 -.8 .2 -.2 .1z M362.0 98.5l-.7 .1 -.8-.1 -.7 0 -.8 0 -.5 0 -.7-.2 -.5-.1 -.8-.2 -.5-.2 -.5-.1 -.5-.2 -.6-.3 -.6-.2 -.5-.1 -.8-.1 -.5-.1 -.7-.2 -.5-.1 -.5-.2 -.6-.2 -.7-.3 -.5-.1 -.5-.1 -.7-.1 -.8 0 -.5 .1 -.7 .1 -.8 0 -.7 0 -.8 0 -.7 0 -.8-.1 -.5 0 -.7-.2 -.5-.1 -.8-.2 -.7 .1 -.8 0 -.7-.1 -.5-.2 -.5-.2 -.8-.1 -.5-.1 -.7 0 -.5 .2 -.8 .1 -.7 0 -.6-.2 -.6-.3 -.4-.2 -.5-.3 -.5-.2 -.4-.3 -.5-.3 -.5-.2 -.8-.2 -.5-.2 -.5-.2 -.5-.3 -.4-.3 -.3-.5 -.1-.5 -.3-.5 -.4-.4 -.4-.4 -.3-.4 -.3-.3 -.4-.5 -.3-.4 -.4-.4 -.2-.5 -.3-.5 -.2-.5 -.2-.5 -.2-.5 -.3-.7 -.1-.5 -.1-.8 0-.7 -.1-.5 -.1-.8 -.1-.5 -.2-.7 0-.8 -.2-.5 -.1-.7 0-.5 -.3-.5 0-.8 -.1-.7 -.2-.5 -.1-.8 .1-.7 .1-.8 0-.7 -.2-.8 0-.7 0-.8 0-.5 -.1-.7 0-.8 0-.7 -.1-.8 0-.7 -.1-.8 .1-.7 .2-.6 0-.5 0-.5 .1-.7 0-.7 0-.8 -.1-.7 0-.8 0-.5 -.1-.7 0-.8 0-.7 0-.8 0-.7 -.1-.8 0-.7 0-.8 -.1-.7 0-.8 .3-.7 .1-.5 .3-.5 .2-.5 .4-.4 .5-.4 .5-.2 .7 .1 .8 0 .7 0 .8-.1 .5-.1 .7 0 .8 0 .5 .1 .7 .1 .8 0 .7 0 .8 0 .6 .1 .6 .1 .5 .2 .6 .2 .4 .3 .5 .3 .5 .3 .5 .3 .5 .2 .5 .3 .5 .3 .5 .3 .5 .2 .5 .2 .5 .2 .5 .2 .8 .2 .3 0 .4 0 .8 .2 .4 .3 .3 .2 .5 .5 .4 .3 .6 .2 .5 .2 .5 .1 .5-.1 .8 .1 .5 0 .7 .1 .5-.1 .5-.3 .5-.2 .5-.4 .5-.2 .5-.3 .5-.2 .7-.2 .6-.2 .5-.2 .7 .1 .5-.2 .5 0 .5 0 .8 0 .5 0 .5 0 .7-.2 .8 0 .7 .1 .8 0 .7 0 .8 0 .7-.1 .8 0 .5-.1 .7 0 .5 .3 .5 .2 .5 .3 .5 .3 .3 .2 .5 .5 .2 .4 .3 .6 .2 .5 .2 .5 .1 .8 .2 .5 0 .5 .1 .7 .2 .5 .2 .8 -.1 .7 -.1 .8 -.1 .5 0 .7 0 .8 .1 .7 0 .5 0 .8 0 .7 0 .8 .1 .7 .1 .8 0 .7 -.2 .8 -.1 .5 -.2 .7 0 .5 0 .8 0 .5 .1 .7 .1 .8 0 .7 0 .8 0 .7 .1 .8 0 .5 .1 .7 0 .8 -.1 .7 .1 .8 0 .7 -.1 .8 .1 .7 .1 .8 0 .5 .2 .7 .1 .5 .2 .8 .1 .5 .1 .7 0 .8 -.1 .7 -.1 .5 -.1 .8 -.1 .7 0 .5 0 .5 0 .8 0 .5 -.1 .7 0 .8 -.2 .7 -.2 .4 -.3 .5 -.2 .4 -.5 .5 -.3 .2 -.4 .5 -.3 .4 -.3 .4 -.5 .4 -.2 .4 -.5 .4 -.5 .3 -.3 0z M385.8 100.2l-.8 .1 -.7 .1 -.8-.1 -.6-.1 -.6-.1 -.5-.1 -.7-.3 -.5-.2 -.5-.3 -.4-.2 -.4-.3 -.5-.4 -.4-.3 -.4-.3 -.4-.5 -.3-.4 -.3-.3 -.3-.5 -.3-.5 -.3-.5 -.2-.5 -.2-.5 -.2-.6 -.1-.7 -.1-.5 -.1-.7 -.1-.8 0-.7 .1-.8 .1-.5 .1-.7 .2-.5 .2-.6 .2-.6 .3-.6 .2-.4 .3-.4 .3-.4 .4-.5 .3-.4 .4-.4 .3-.3 .5-.4 .4-.3 .4-.2 .5-.3 .5-.3 .5-.2 .7-.2 .5-.1 .8-.2 .5 0 .7 0 .8 0 .5 .1 .7 .1 .5 .2 .5 .1 .6 .3 .5 .2 .4 .3 .5 .3 .5 .4 .4 .3 .4 .4 .3 .3 .4 .5 .3 .4 .3 .4 .3 .5 .2 .5 .3 .5 .1 .5 .3 .7 .1 .5 .1 .6 .1 .7 .1 .7 0 .8 -.1 .7 -.1 .5 -.1 .8 -.2 .5 -.2 .6 -.2 .6 -.3 .5 -.2 .5 -.3 .4 -.2 .4 -.4 .5 -.4 .4 -.3 .3 -.4 .4 -.5 .4 -.3 .2 -.5 .3 -.5 .3 -.5 .3 -.5 .2 -.6 .2 -.6 .1 -.5 .1z M356.5 101.2l-.7 .1 -.8 0 -.5-.1 -.7-.1 -.5-.1 -.8-.2 -.5-.1 -.7-.1 -.5-.1 -.8-.2 -.5-.1 -.7-.2 -.5-.1 -.6-.2 -.5-.2 -.5-.3 -.4-.3 -.5-.2 -.5-.3 -.5-.2 -.8-.2 -.5-.2 -.5-.1 -.6-.2 -.6-.2 -.8 0 -.7 0 -.8 .1 -.7 0 -.5 .1 -.5-.1 -.7-.2 -.4-.2 -.4-.4 -.4-.4 -.4-.3 -.5-.2 -.7-.2 -.5-.1 -.8 .1 -.5 0 -.5-.1 -.7 0 -.5-.2 -.8-.2 -.5-.2 -.5-.2 -.5-.3 -.5-.3 -.5-.2 -.5-.2 -.5-.2 -.5-.2 -.5-.3 -.5-.3 -.5-.4 -.2-.2 -.4-.5 -.4-.5 -.2-.3 -.4-.5 -.3-.5 -.3-.4 -.3-.3 -.4-.5 -.3-.4 -.3-.4 -.3-.5 -.2-.5 -.2-.6 -.2-.6 -.1-.5 -.2-.8 0-.7 0-.5 0-.5 -.1-.5 -.1-.8 -.1-.5 -.2-.7 0-.5 -.1-.8 -.2-.5 -.1-.7 -.1-.6 -.3-.7 0-.5 -.1-.7 -.2-.5 0-.8 .1-.5 .1-.7 0-.8 -.1-.5 -.1-.7 0-.8 0-.7 0-.8 0-.7 0-.8 -.1-.7 0-.8 -.1-.7 .1-.8 .1-.7 0-.8 .1-.6 0-.6 0-.8 0-.7 0-.5 -.1-.8 -.1-.7 0-.8 0-.7 0-.8 0-.7 0-.8 0-.7 -.1-.8 0-.7 0-.5 0-.8 .1-.5 .2-.7 .2-.5 .2-.5 .3-.5 .3-.3 .5-.5 .5-.2 .5-.2 .7 .1 .5 .1 .8 .1 .7-.1 .7 0 .6-.1 .7 0 .8 0 .5 .1 .7 0 .8 0 .7 .1 .8 0 .5 .2 .7 .2 .5 .2 .5 .3 .5 .2 .5 .3 .5 .2 .5 .2 .5 .2 .5 .3 .5 .2 .5 .2 .5 .3 .5 .1 .6 .3 .7 .2 .5 .1 .7 .1 .5 .2 .5 .3 .5 .3 .3 .3 .5 .4 .5 .1 .7 .2 .8-.2 .7 0 .8 0 .5-.1 .5-.2 .5-.3 .5-.3 .6-.1 .6-.2 .5-.2 .6-.1 .7-.2 .5-.1 .7 0 .8 0 .5 0 .5-.1 .7 .1 .8-.1 .5-.1 .6 0 .6 0 .8 .1 .7 0 .8 0 .7 0 .8-.1 .5 0 .7-.1 .8 0 .5 .2 .5 .3 .5 .3 .5 .2 .3 .3 .4 .5 .3 .3 .2 .5 .3 .6 .2 .6 .2 .5 .1 .6 .2 .4 .2 .8 .1 .7 .2 .5 0 .5 0 .5 -.1 .8 -.1 .5 -.1 .7 0 .8 0 .7 .1 .6 0 .7 0 .7 0 .8 .1 .7 0 .8 .1 .7 -.1 .8 -.1 .7 -.1 .5 -.1 .8 -.1 .7 .1 .8 0 .7 0 .8 .1 .7 0 .8 0 .7 0 .8 .1 .6 0 .6 0 .8 .1 .7 0 .8 -.1 .7 0 .8 0 .7 .1 .8 .1 .5 .2 .7 .2 .5 .1 .8 .1 .5 .1 .7 0 .8 -.2 .7 -.1 .5 -.1 .8 0 .7 0 .5 0 .8 0 .5 0 .5 -.1 .7 0 .8 -.1 .7 -.2 .5 -.3 .5 -.3 .5 -.3 .3 -.5 .5 -.2 .3 -.4 .4 -.3 .5 -.3 .4 -.3 .4 -.3 .5 -.4 .5 -.3 .3 -.5 .3 -.5 .3 -.5 .2 -.6 .1 -.6 .1 -.8 .1 -.5 .2 -.5 .2 -.7 .1 -.5 .2 -.7 .1 -.1 0z M385.5 100.7l-.7 .1 -.8 0 -.7-.1 -.5 0 -.8-.2 -.5-.1 -.5-.2 -.5-.2 -.5-.3 -.5-.3 -.5-.3 -.5-.4 -.3-.2 -.4-.4 -.3-.4 -.5-.5 -.2-.3 -.3-.4 -.3-.5 -.3-.5 -.3-.5 -.2-.5 -.2-.5 -.2-.8 -.1-.5 -.1-.7 -.1-.5 0-.8 0-.7 0-.8 .1-.5 .2-.7 .1-.5 .2-.6 .2-.6 .3-.5 .2-.5 .3-.4 .2-.4 .4-.5 .4-.5 .2-.3 .5-.5 .3-.2 .5-.4 .5-.3 .4-.3 .5-.3 .5-.2 .6-.2 .5-.2 .5-.1 .7-.2 .8-.1 .5 0 .5 0 .7 .1 .8 .1 .5 .1 .6 .2 .6 .3 .5 .2 .5 .3 .5 .2 .3 .3 .5 .3 .4 .4 .3 .3 .5 .5 .3 .3 .3 .4 .3 .5 .3 .5 .3 .5 .2 .5 .2 .5 .2 .5 .2 .7 .1 .6 .1 .7 .1 .5 0 .8 0 .7 -.1 .5 -.1 .8 -.1 .6 -.2 .6 -.2 .5 -.2 .5 -.2 .5 -.3 .5 -.3 .5 -.3 .5 -.3 .5 -.3 .3 -.4 .5 -.3 .2 -.5 .5 -.4 .3 -.4 .2 -.5 .3 -.5 .3 -.5 .2 -.5 .2 -.7 .3 -.5 .1 -.7 .1 -.1 0z M360.8 106.0l-.8 0 -.5 0 -.7-.1 -.8-.1 -.5-.1 -.6-.2 -.4-.3 -.5-.3 -.5-.3 -.5-.4 -.4-.2 -.6-.2 -.5-.2 -.5-.1 -.7-.2 -.5-.1 -.8-.2 -.5-.1 -.7-.1 -.5-.1 -.8-.1 -.7 .1 -.8 0 -.7-.1 -.5-.2 -.5-.2 -.5-.3 -.5-.4 -.4-.3 -.4-.3 -.5-.3 -.5-.2 -.5-.3 -.5-.1 -.7-.2 -.5-.1 -.8-.1 -.7 .1 -.8 0 -.7 0 -.8-.2 -.5-.1 -.5-.3 -.4-.4 -.3-.3 -.4-.4 -.4-.3 -.5-.4 -.5-.2 -.7-.1 -.5 0 -.8-.1 -.6-.2 -.6-.2 -.5-.2 -.5-.3 -.5-.3 -.5-.2 -.4-.3 -.5-.2 -.5-.3 -.5-.2 -.4-.3 -.5-.3 -.5-.3 -.5-.3 -.4-.3 -.3-.3 -.5-.5 -.3-.3 -.4-.4 -.3-.5 -.3-.4 -.2-.4 -.4-.5 -.4-.4 -.2-.3 -.3-.5 -.3-.5 -.2-.5 -.2-.6 -.2-.7 -.1-.5 -.1-.7 -.1-.8 .1-.7 0-.8 -.1-.7 0-.6 -.1-.7 -.2-.7 0-.5 -.1-.8 -.2-.5 -.1-.7 -.1-.5 -.2-.8 -.1-.5 -.1-.7 -.1-.5 0-.8 .1-.5 .1-.7 0-.8 -.2-.6 -.1-.6 0-.8 0-.7 0-.8 0-.7 .1-.8 0-.7 -.1-.8 0-.7 0-.8 .1-.7 -.1-.8 .1-.7 0-.5 0-.8 0-.5 -.1-.7 0-.8 -.1-.7 0-.8 0-.7 .1-.8 0-.7 0-.8 0-.7 0-.8 -.1-.7 0-.8 0-.7 .2-.8 .1-.5 .2-.5 .2-.6 .3-.5 .3-.4 .4-.4 .5-.3 .5-.2 .5-.2 .8 0 .7 0 .8 .1 .7 0 .8 0 .7-.1 .8 0 .7 .1 .5 .1 .8 0 .7 .1 .5 .1 .8 0 .7 .2 .5 .1 .5 .2 .5 .2 .5 .3 .6 .2 .5 .3 .7 .2 .5 .2 .5 .2 .5 .2 .5 .2 .5 .2 .7 .2 .5 .2 .5 .3 .5 .2 .5 .1 .7 .3 .4 .2 .4 .3 .5 .5 .4 .2 .6 .3 .5 0 .5-.1 .8-.1 .7-.1 .5-.2 .5-.2 .5-.3 .5-.2 .5-.2 .8-.1 .5-.1 .7-.1 .5-.1 .8-.2 .7 0 .8 0 .7 0 .5 0 .7 0 .3-.1 .8-.2 .7 .1 .8 .1 .7 0 .8 .1 .7 0 .8-.1 .7 0 .8-.1 .7 0 .6 .2 .7 .2 .5 .3 .5 .2 .4 .3 .3 .3 .4 .4 .4 .5 .2 .5 .3 .5 .2 .5 .1 .5 .2 .5 .2 .6 .2 .7 .1 .5 .1 .7 .1 .5 0 .8 0 .5 -.2 .7 0 .5 -.1 .8 0 .7 .1 .5 .1 .8 0 .7 0 .8 0 .7 0 .8 .1 .7 0 .8 -.1 .7 -.1 .8 -.1 .5 0 .7 0 .8 0 .7 0 .8 0 .7 0 .8 0 .7 0 .8 .1 .7 0 .5 0 .8 0 .7 .2 .8 -.1 .7 0 .8 0 .7 0 .8 .1 .5 .2 .7 .1 .5 .2 .8 .1 .5 0 .7 .1 .8 -.1 .7 -.1 .5 -.1 .8 0 .7 0 .8 -.1 .7 .1 .8 -.1 .7 -.1 .5 .1 .5 0 .5 -.2 .8 -.2 .5 -.3 .5 -.2 .5 -.4 .4 -.3 .3 -.3 .5 -.3 .5 -.3 .5 -.2 .5 -.2 .5 -.1 .8 0 .7 .1 .8 .1 .7 0 .8 -.1 .7 -.2 .5 -.4 .5 -.3 .3 -.5 .4 -.5 .3 -.5 .3 -.5 .2 -.5 .2 -.7 .1z M385.0 101.2l-.7 .1 -.8-.1 -.5 0 -.7-.1 -.5-.2 -.7-.2 -.6-.2 -.5-.3 -.5-.2 -.4-.3 -.3-.2 -.5-.4 -.5-.4 -.3-.3 -.4-.4 -.3-.4 -.3-.4 -.4-.5 -.3-.5 -.3-.4 -.2-.5 -.3-.6 -.2-.5 -.1-.5 -.2-.6 -.1-.6 -.1-.8 -.1-.5 0-.7 0-.8 .1-.5 .1-.7 .1-.6 .2-.7 .2-.5 .2-.5 .2-.5 .2-.5 .3-.5 .4-.5 .3-.5 .3-.3 .4-.4 .3-.4 .4-.4 .4-.3 .5-.3 .5-.4 .4-.2 .5-.3 .6-.2 .5-.2 .5-.2 .6-.1 .6-.1 .8-.1 .7 0 .8 0 .7 .1 .5 .1 .8 .2 .5 .2 .5 .2 .5 .2 .5 .3 .5 .3 .4 .3 .3 .3 .5 .4 .4 .3 .4 .5 .2 .3 .4 .5 .4 .5 .2 .4 .3 .5 .2 .5 .3 .6 .1 .5 .2 .5 .2 .7 .1 .5 .1 .8 0 .7 0 .8 -.1 .7 -.1 .8 -.1 .5 -.2 .7 -.1 .5 -.2 .5 -.2 .5 -.3 .5 -.2 .5 -.4 .5 -.3 .5 -.3 .3 -.3 .5 -.4 .4 -.4 .3 -.4 .3 -.5 .4 -.4 .3 -.4 .3 -.5 .2 -.6 .3 -.6 .2 -.5 .2 -.5 .1 -.7 .2 -.6 0 -.2 0z M363.0 107.5l-.7 .1 -.8 .1 -.7-.1 -.8 0 -.7-.1 -.5-.1 -.8-.1 -.6-.1 -.6-.2 -.5-.1 -.5-.2 -.5-.3 -.5-.2 -.6-.2 -.7-.3 -.5-.1 -.5-.2 -.6-.2 -.6-.2 -.5-.1 -.5-.2 -.8-.1 -.7-.1 -.8 .1 -.7 0 -.8-.1 -.5 0 -.7-.2 -.5-.1 -.5-.3 -.5-.2 -.5-.4 -.5-.3 -.5-.3 -.5-.2 -.5-.1 -.8-.1 -.7-.1 -.5 0 -.8-.2 -.5-.2 -.5-.1 -.6-.2 -.6-.2 -.5-.1 -.7-.2 -.6-.2 -.5-.2 -.5-.2 -.5-.2 -.5-.3 -.5-.2 -.6-.2 -.6-.2 -.5-.2 -.5-.2 -.5-.3 -.5-.2 -.5-.3 -.5-.3 -.5-.3 -.3-.3 -.5-.3 -.5-.4 -.4-.3 -.4-.2 -.4-.3 -.5-.3 -.5-.3 -.5-.2 -.5-.3 -.5-.3 -.5-.3 -.5-.3 -.3-.2 -.5-.4 -.3-.4 -.3-.5 -.3-.5 -.3-.5 -.2-.5 -.3-.5 -.3-.4 -.2-.5 -.3-.4 -.2-.4 -.3-.5 -.2-.6 -.2-.7 -.1-.5 0-.6 .1-.6 .2-.8 0-.5 .1-.7 0-.8 0-.7 0-.8 -.1-.7 0-.8 -.1-.5 0-.7 -.1-.8 -.2-.5 0-.7 -.1-.8 -.2-.5 0-.7 0-.8 .1-.7 -.1-.8 -.1-.5 0-.7 0-.8 -.1-.7 0-.8 0-.7 .1-.8 0-.7 0-.8 0-.7 0-.8 -.1-.7 -.1-.8 .1-.7 0-.8 0-.7 -.1-.8 0-.7 0-.5 0-.8 0-.7 0-.6 0-.7 0-.7 0-.8 0-.7 0-.8 0-.7 0-.8 0-.7 .1-.8 .2-.5 .2-.7 .1-.5 .3-.5 .3-.5 .3-.3 .4-.5 .3-.3 .5-.3 .5-.2 .5-.2 .8-.2 .7 0 .8 0 .5 0 .7 0 .5 0 .8 0 .7 0 .8 .1 .6 .1 .6 .1 .8 0 .7 .1 .5 .1 .8 .2 .5 .1 .7 .2 .5 .2 .5 .2 .5 .2 .5 .2 .5 .2 .6 .2 .6 .3 .6 .2 .5 .2 .5 .2 .5 .2 .5 .3 .5 .2 .5 .2 .5 .3 .5 .3 .5 .2 .5 .3 .5 .4 .3 .2 .4 .4 .5 .2 .8 0 .7-.1 .5-.1 .5-.2 .5-.2 .5-.3 .5-.2 .5-.3 .8-.2 .5-.1 .7-.1 .5-.1 .8-.2 .5 0 .7-.1 .8 0 .7-.1 .8 0 .5-.1 .7-.1 .8 0 .7 .1 .7 .1 .6 0 .7 0 .8 .1 .7 0 .8 0 .7-.1 .8 .1 .5 .2 .5 .2 .6 .2 .5 .3 .5 .2 .4 .3 .4 .5 .3 .4 .3 .3 .3 .5 .2 .5 .2 .5 .3 .8 .2 .5 .1 .5 .2 .6 .1 .6 0 .8 .1 .5 .1 .7 -.1 .7 0 .6 -.1 .7 0 .8 0 .7 .1 .8 0 .7 0 .8 0 .7 0 .5 .1 .8 0 .7 -.1 .8 0 .5 -.1 .7 0 .8 -.1 .7 0 .8 0 .7 0 .8 .1 .7 0 .8 0 .7 0 .8 0 .7 0 .8 0 .7 .1 .8 .1 .5 0 .7 0 .8 0 .7 0 .8 .2 .7 .1 .5 .1 .6 .2 .7 0 .7 .1 .8 0 .5 -.1 .5 -.1 .7 0 .8 0 .7 0 .8 0 .7 0 .8 -.1 .7 -.1 .5 0 .8 -.1 .7 -.1 .5 -.2 .5 -.2 .5 -.3 .6 -.2 .4 -.3 .5 -.3 .5 -.2 .8 0 .5 .1 .5 .2 .7 .2 .5 .3 .5 .2 .5 .3 .4 .2 .5 .3 .4 .2 .5 .3 .5 .2 .7 0 .8 -.1 .7 -.2 .5 -.4 .5 -.5 .2 -.5 .1 -.8 0 -.7 .1 -.8 0 -.7 .1 -.5 .1 -.6 .2 -.2 0z M384.8 101.7l-.8 0 -.5 0 -.7-.1 -.8-.1 -.5-.1 -.5-.2 -.6-.2 -.5-.3 -.5-.2 -.4-.3 -.5-.3 -.5-.3 -.4-.4 -.3-.3 -.4-.4 -.4-.4 -.3-.4 -.3-.5 -.4-.5 -.2-.4 -.3-.5 -.2-.5 -.3-.6 -.2-.5 -.1-.5 -.2-.6 -.1-.6 -.1-.8 -.1-.5 0-.7 0-.8 .1-.5 .1-.7 .1-.6 .2-.7 .2-.5 .1-.5 .3-.5 .2-.5 .3-.5 .3-.5 .3-.5 .4-.4 .2-.3 .5-.5 .3-.3 .5-.4 .3-.3 .4-.3 .5-.3 .5-.3 .5-.3 .5-.2 .5-.2 .6-.2 .7-.2 .5-.1 .7-.1 .8 0 .7 0 .8 .1 .5 .1 .7 .2 .5 .1 .5 .2 .6 .2 .5 .3 .4 .2 .5 .3 .5 .4 .4 .3 .4 .3 .4 .5 .3 .3 .4 .4 .4 .5 .2 .4 .3 .4 .3 .5 .2 .5 .2 .5 .3 .6 .2 .6 .1 .5 .2 .8 0 .5 .1 .7 0 .8 0 .7 -.1 .8 0 .5 -.2 .7 -.1 .5 -.2 .7 -.2 .6 -.3 .5 -.2 .5 -.3 .5 -.3 .4 -.2 .4 -.4 .4 -.4 .5 -.2 .3 -.5 .5 -.3 .2 -.5 .4 -.5 .4 -.4 .2 -.4 .3 -.5 .2 -.6 .3 -.6 .2 -.5 .2 -.5 .1 -.7 .1 -.8 .1 -.2 0z M367.3 109.5l-.8 .1 -.7-.1 -.6 0 -.7-.2 -.6-.1 -.6-.1 -.8-.1 -.7 0 -.5 0 -.8-.1 -.7 0 -.8-.1 -.7 0 -.5-.1 -.8-.2 -.5-.1 -.5-.2 -.7-.2 -.5-.2 -.5-.1 -.6-.2 -.7-.2 -.5-.1 -.7-.2 -.5-.2 -.5-.1 -.7-.2 -.6-.1 -.7-.1 -.5-.1 -.8-.1 -.7-.1 -.5-.1 -.8-.1 -.5-.1 -.7-.2 -.5-.2 -.5-.1 -.5-.3 -.5-.2 -.7-.2 -.6-.2 -.5-.1 -.7-.1 -.5-.1 -.8-.2 -.5-.2 -.5-.2 -.5-.2 -.5-.2 -.7-.3 -.5-.1 -.5-.1 -.8-.2 -.5-.1 -.7-.2 -.5-.1 -.5-.2 -.5-.2 -.5-.3 -.5-.2 -.5-.3 -.5-.2 -.6-.3 -.7-.2 -.5-.2 -.5-.3 -.5-.2 -.4-.3 -.4-.3 -.4-.3 -.5-.3 -.5-.3 -.4-.3 -.4-.3 -.5-.3 -.5-.4 -.5-.3 -.3-.2 -.4-.3 -.5-.3 -.5-.3 -.5-.3 -.5-.3 -.3-.3 -.5-.4 -.3-.3 -.3-.5 -.3-.5 -.2-.5 -.2-.5 -.3-.5 -.3-.5 -.3-.4 -.3-.4 -.4-.5 -.3-.4 -.3-.4 -.3-.4 -.2-.5 -.2-.5 -.2-.8 0-.7 .2-.5 .2-.5 .3-.5 .3-.5 .2-.5 .2-.7 .1-.6 0-.7 0-.8 .1-.7 0-.8 0-.7 -.1-.8 0-.7 0-.8 -.1-.5 -.1-.7 0-.8 0-.7 0-.8 -.1-.5 -.1-.7 0-.8 0-.7 0-.8 0-.7 0-.8 0-.7 0-.8 0-.7 0-.8 0-.7 -.2-.8 0-.5 0-.7 0-.8 0-.7 0-.8 -.1-.7 0-.8 0-.7 0-.8 0-.7 .1-.8 0-.7 0-.8 0-.7 0-.8 0-.7 0-.8 0-.5 .2-.7 .1-.5 .2-.8 .2-.5 .1-.5 .3-.5 .3-.5 .4-.4 .3-.3 .4-.4 .5-.4 .4-.2 .5-.3 .5-.2 .6-.2 .5-.1 .8 0 .7 0 .8-.1 .7 0 .8 0 .7 0 .8 .1 .7 0 .5 .1 .8 .1 .7 .1 .5 0 .8 .2 .5 .1 .7 .2 .5 .1 .5 .2 .7 .2 .5 .2 .6 .2 .5 .2 .5 .2 .5 .3 .5 .2 .5 .2 .5 .3 .5 .2 .5 .3 .5 .3 .5 .3 .5 .3 .4 .3 .3 .3 .5 .3 .5 .3 .5 .3 .3 .3 .5 .4 .5 .2 .7 0 .7-.1 .5-.3 .5-.2 .4-.3 .4-.2 .5-.3 .5-.2 .7-.3 .6-.1 .5-.1 .7-.2 .5-.1 .8-.2 .5 0 .7-.1 .8-.1 .7 0 .8 0 .5-.1 .7 0 .5 0 .8 .1 .7 .1 .8 0 .5 .1 .7 0 .8 .1 .7 0 .8 .1 .5 0 .7 .3 .5 .2 .5 .2 .5 .3 .5 .3 .4 .2 .4 .3 .4 .5 .3 .3 .3 .4 .3 .5 .3 .5 .2 .5 .2 .5 .2 .7 .2 .6 .1 .5 .2 .7 0 .8 0 .5 .2 .7 0 .8 0 .7 -.1 .8 0 .7 .1 .8 0 .7 0 .8 0 .7 0 .8 0 .7 .1 .8 0 .7 -.1 .8 0 .7 -.1 .8 0 .7 0 .8 0 .7 0 .8 0 .7 0 .8 .1 .7 0 .8 -.1 .7 0 .8 0 .7 0 .8 .2 .5 .1 .7 0 .8 0 .7 0 .8 .1 .7 0 .5 .2 .8 .1 .6 .1 .6 0 .8 .1 .7 0 .8 0 .7 0 .8 0 .7 0 .5 .1 .8 0 .7 0 .8 -.1 .5 -.2 .7 0 .6 -.2 .7 -.1 .5 -.2 .6 -.3 .6 -.1 .5 -.2 .5 -.2 .7 0 .6 .1 .5 .2 .5 .2 .5 .4 .5 .3 .5 .3 .3 .4 .4 .4 .4 .3 .4 .4 .3 .5 .3 .5 .4 .3 .2 .5 .5 .2 .4 .2 .6 0 .8 -.2 .5 -.2 .5 -.3 .5 -.2 .6 -.3 .4 -.4 .5 -.4 .2 -.7 .2 -.5 .1 -.7 .2 -.5 .1 -.8 .1 -.6 .1 -.1 0z M385.0 102.2l-.7 .1 -.8 0 -.5-.1 -.7-.1 -.7-.1 -.6-.2 -.5-.1 -.5-.3 -.5-.2 -.5-.3 -.5-.3 -.5-.3 -.4-.3 -.3-.3 -.5-.5 -.3-.3 -.4-.4 -.3-.4 -.3-.4 -.3-.5 -.3-.5 -.3-.5 -.3-.5 -.2-.5 -.2-.5 -.2-.5 -.2-.6 -.1-.6 -.1-.5 -.2-.8 0-.7 0-.8 0-.7 .1-.8 .1-.5 .2-.7 .2-.5 .1-.5 .2-.5 .3-.5 .2-.5 .3-.5 .3-.5 .4-.5 .3-.4 .3-.4 .4-.4 .3-.3 .5-.5 .4-.3 .3-.2 .5-.4 .5-.3 .5-.3 .5-.2 .5-.2 .5-.2 .6-.2 .7-.2 .5 0 .7-.1 .8-.1 .7 0 .8 .1 .5 .1 .7 .2 .5 .1 .5 .2 .6 .2 .5 .3 .5 .2 .4 .3 .5 .3 .5 .4 .4 .3 .4 .3 .3 .4 .4 .4 .3 .4 .4 .5 .3 .5 .3 .4 .2 .5 .3 .5 .2 .6 .2 .5 .2 .5 .1 .5 .2 .7 .1 .6 .1 .7 0 .7 0 .8 -.1 .7 0 .5 -.2 .8 -.1 .5 -.2 .7 -.1 .5 -.2 .5 -.3 .5 -.2 .5 -.3 .5 -.3 .5 -.4 .5 -.2 .4 -.4 .4 -.4 .4 -.3 .3 -.4 .4 -.5 .4 -.3 .2 -.5 .3 -.5 .3 -.5 .3 -.5 .2 -.5 .3 -.5 .1 -.7 .2 -.5 .2 -.8 .1 -.5 0z M313.0 82.4l.3-.5 .2-.7 .1-.5 .2-.5 .1-.7 .1-.8 0-.5 0-.5 0-.7 0-.7 .1-.6 -.1-.5 -.1-.7 0-.8 0-.7 0-.8 -.1-.7 -.1-.5 .1-.8 0-.7 0-.8 0-.7 0-.8 0-.7 0-.8 0-.7 0-.8 -.1-.7 -.1-.8 -.1-.5 0-.7 0-.8 0-.7 0-.8 0-.7 0-.8 0-.7 0-.8 0-.7 0-.8 0-.7 0-.8 0-.7 0-.8 0-.7 0-.8 0-.5 .1-.7 .2-.5 .2-.8 .1-.5 .2-.5 .2-.6 .3-.5 .2-.5 .3-.4 .5-.5 .2-.2 .5-.5 .3-.3 .5-.3 .5-.3 .5-.2 .5-.2 .5-.2 .7-.2 .7-.1 .6 0 .7 0 .8 0 .7 0 .8 0 .7 0 .8 0 .5 0 .7 .1 .8 .2 .6 0 .6 0 .8 .2 .5 .1 .7 .2 .5 .1 .6 .1 .7 .3 .5 .1 .5 .3 .5 .1 .5 .2 .5 .3 .5 .2 .5 .3 .5 .2 .5 .3 .5 .2 .5 .3 .5 .3 .5 .3 .5 .4 .3 .2 .4 .4 .4 .4 .4 .2 .5 .4 .4 .4 .3 .3 .5 .3 .8 0 .5-.3 .4-.3 .3-.3 .5-.3 .5-.3 .5-.3 .5-.2 .5-.2 .5-.2 .8-.2 .5-.1 .7-.1 .6-.1 .7-.1 .7 0 .8-.1 .7 .1 .8-.1 .5 0 .5 0 .7 0 .8 .1 .7 .1 .5 .1 .8 .1 .7 0 .5 .1 .8 .1 .7 0 .7 .1 .6 .2 .5 .2 .5 .2 .5 .2 .5 .3 .5 .3 .5 .4 .3 .2 .4 .5 .3 .3 .4 .5 .3 .4 .3 .4 .2 .6 .3 .5 .2 .5 .2 .6 .2 .5 .1 .6 .2 .6 .1 .7 0 .6 .1 .7 .1 .8 0 .7 0 .8 0 .7 0 .8 0 .7 0 .8 0 .7 0 .8 0 .7 0 .8 0 .5 0 .7 0 .5 0 .8 0 .7 -.1 .8 .1 .7 0 .8 0 .7 0 .8 0 .7 0 .8 0 .7 0 .8 0 .7 0 .8 0 .7 .1 .5 .2 .7 0 .6 0 .7 .1 .8 0 .7 .1 .8 0 .5 .1 .7 .1 .8 .1 .6 .2 .6 .1 .5 .2 .8 .1 .5 .1 .7 .1 .5 .2 .6 .5 .2 .2-.5 .2-.5 .2-.5 .2-.5 .3-.5 .2-.5 .3-.5 .3-.5 .3-.5 .3-.4 .2-.4 .4-.5 .4-.4 .2-.3 .5-.5 .3-.3 .5-.5 .3-.2 .4-.4 .5-.3 .5-.3 .4-.3 .5-.2 .6-.3 .5-.2 .5-.2 .5-.1 .8-.2 .5-.1 .7-.1 .8 0 .7 0 .8 .1 .5 .1 .7 .1 .5 .2 .6 .2 .7 .2 .5 .3 .5 .2 .4 .3 .4 .2 .4 .3 .5 .4 .4 .3 .4 .4 .3 .4 .4 .4 .3 .4 .3 .4 .4 .5 .3 .5 .2 .5 .3 .5 .2 .5 .2 .5 .1 .5 .2 .7 .2 .6 .1 .7 0 .5 .1 .8 0 .7 0 .8 -.1 .7 -.1 .5 -.1 .8 -.2 .5 -.1 .5 -.3 .7 -.2 .5 -.2 .5 -.3 .5 -.3 .5 -.2 .4 -.3 .4 -.4 .5 -.3 .4 -.4 .3 -.4 .4 -.3 .4 -.4 .3 -.5 .4 -.5 .3 -.4 .2 -.4 .3 -.5 .2 -.6 .3 -.6 .2 -.5 .2 -.5 .1 -.8 .2 -.5 .1 -.7 .1 -.8 0 -.7 0 -.8 0 -.7-.1 -.5-.1 -.8-.2 -.5-.2 -.5-.2 -.5-.2 -.5-.3 -.5-.2 -.5-.4 -.3-.3 -.4-.3 -.4-.4 -.4-.4 -.3-.4 -.4-.5 -.3-.3 -.3-.4 -.3-.5 -.3-.5 -.3-.5 -.2-.5 -.3-.5 -.2-.5 -.2-.5 -.3-.5 -.2-.5 -.2-.5 -.3-.5 -.4-.3 -.3 .3 -.3 .5 -.2 .5 -.2 .5 -.2 .6 -.2 .6 -.2 .5 -.2 .5 0 .8 0 .7 .2 .5 .2 .5 .4 .5 .3 .4 .4 .4 .3 .2 .5 .4 .5 .3 .5 .3 .3 .3 .5 .3 .4 .4 .3 .3 .5 .4 .4 .3 .4 .4 .4 .4 .3 .4 .3 .5 .1 .6 0 .7 -.1 .7 -.2 .6 -.1 .5 -.2 .6 -.2 .6 -.2 .5 -.3 .5 -.3 .3 -.5 .3 -.5 .3 -.6 .1 -.7 .1 -.7 .1 -.8 0 -.7-.1 -.8 0 -.7 0 -.8 0 -.7 .1 -.8 0 -.7-.1 -.6-.1 -.7-.1 -.5-.2 -.5-.2 -.7-.2 -.5-.2 -.6-.1 -.7 0 -.7-.1 -.8 0 -.7 0 -.8 0 -.7-.1 -.5-.1 -.8-.2 -.5-.1 -.5-.2 -.7-.2 -.5-.2 -.5-.1 -.7-.2 -.6-.1 -.5-.1 -.7-.2 -.5-.1 -.8-.2 -.5-.1 -.7-.2 -.5 0 -.8-.2 -.5-.1 -.6-.2 -.6-.1 -.5-.2 -.8-.2 -.5-.1 -.6-.1 -.6-.2 -.5-.2 -.5-.2 -.6-.2 -.7-.2 -.5-.1 -.6-.2 -.6-.1 -.5-.2 -.6-.2 -.7-.2 -.5-.2 -.5-.1 -.7-.2 -.5-.1 -.6-.2 -.7-.1 -.5-.2 -.6-.2 -.6-.2 -.5-.1 -.5-.3 -.5-.2 -.5-.2 -.5-.2 -.6-.3 -.6-.2 -.6-.3 -.5-.2 -.5-.2 -.5-.3 -.5-.3 -.4-.2 -.4-.3 -.5-.2 -.4-.3 -.5-.3 -.5-.3 -.5-.4 -.4-.2 -.4-.3 -.5-.3 -.5-.3 -.5-.4 -.4-.2 -.5-.3 -.4-.2 -.4-.3 -.5-.3 -.5-.4 -.3-.3 -.3-.5 -.4-.5 -.3-.4 -.2-.4 -.3-.4 -.4-.5 -.3-.5 -.3-.4 -.3-.4 -.4-.5 -.3-.4 -.3-.3 -.2-.3 M332.5 86.8l-.5-.1 -.7-.1 -.6 .1 -.7 .2 -.7 0 -.8-.1 -.5-.2 -.5-.3 -.4-.3 -.3-.3 -.5-.3 -.5-.3 -.5-.3 -.5-.3 -.4-.3 -.4-.3 -.4-.4 -.3-.5 -.2-.5 -.1-.5 -.1-.8 -.1-.5 -.2-.7 -.1-.5 -.2-.5 -.1-.8 -.1-.7 -.1-.8 0-.5 -.2-.5 -.1-.7 0-.8 -.2-.7 0-.5 0-.7 .1-.6 0-.7 -.1-.8 -.1-.5 0-.7 -.1-.7 -.1-.6 -.2-.5 -.2-.7 -.1-.5 -.1-.8 0-.7 0-.8 .1-.7 .1-.5 .1-.8 -.1-.5 -.1-.7 -.1-.8 -.1-.5 -.1-.7 -.1-.8 0-.7 0-.8 0-.7 0-.8 0-.7 0-.8 0-.7 0-.8 0-.7 .2-.7 .2-.6 .3-.4 .4-.3 .6-.2 .5-.1 .8 0 .7-.1 .7-.1 .6 0 .5 .2 .5 .1 .6 .2 .6 .1 .5 .2 .5-.2 .8-.1 .7 0 .6 .2 .4 .3 .4 .5 .2 .5 .2 .6 .1 .6 .2 .5 .3 .5 -.1 .7 -.5 .1 -.8 .1 -.7 0 -.5 .2 -.3 .4 -.1 .8 0 .7 .1 .6 .8 .1 .7 0 .5 .1 .8 .2 .2 .3 .2 .7 .3 .5 .4 0 .2-.5 0-.7 .2-.5 .5-.5 .5-.2 .7 .1 .5 .1 .5 .2 .8 .2 .7 0 .8 .1 .5 .2 .3 .3 .4 .3 .5 .2 .5 .2 .8 .2 .7 .1 .5 .2 .5 .2 .4 .3 .1 .3 -.2 .5 -.5 .4 -.5 .3 -.5 .2 -.8 0 -.5-.3 -.4-.4 -.3-.3 -.5-.3 -.8-.1 -.7 .1 -.5 .2 -.5 .3 -.6 .1 -.5 .3 -.3 .5 -.1 .7 -.2 .5 -.2 .5 -.1 .7 -.1 .6 -.2 .6 -.5 .2 -.7 0 -.8 0 -.5 .2 -.5 .4 -.2 .3 -.4 .5 -.3 .5 -.3 .3 -.5 .4 -.5 .2 -.8 .1 -.2 0 -.5 0 -.4 .5 .4 .3 .5 .2 .6 .3 .4 .2 .5 .4 .3 .4 .4 .4 .3 .4 .3 .4 .3 .5 -.2 .5 -.5 .3 -.4 .3 -.5 .4 -.3 .3 -.7 .2 -.7-.2 -.6-.2 -.5-.1 -.5 .1 -.5 .3 -.2 .5 0 .6 .1 .5 .4 .5 .5 .3 .5 .1 .7 0 .6-.1 .4-.3 .4-.5 .4-.3 .7 .1 .3 .3 .3 .4 .2 .5 0 .5 -.2 .8 .1 .7 .2 .5 .2 .5 .1 .8 .1 .7 -.2 .8 -.3 .3 -.3 .4 -.2 .5 -.1 .8 .2 .5 .2 .5 .3 .5 .2 .5 .2 .7 .2 .5 .1 .5 -.1 .1z M359.8 96.3l-.7-.1 -.6-.1 -.5-.2 -.4-.4 -.3-.3 -.5-.5 -.4-.2 -.4-.3 -.5-.3 -.5-.2 -.5-.4 -.5-.3 -.3-.3 -.4-.3 -.5-.3 -.5-.4 -.3-.5 .4-.5 .4-.2 .5-.3 .4-.5 -.2-.5 -.2-.5 -.3-.5 -.2-.7 .3-.5 .3-.5 .3-.5 .2-.5 .1-.5 .2-.8 .1-.5 .2-.5 .5-.3 .7 .1 .5 .2 .5 .3 .3 .2 .4 .5 .2 .5 .2 .5 .3 .5 .4 .4 .5 .4 .5 .2 .4 .3 .6 .2 .4-.5 .1-.5 .1-.7 -.1-.5 -.2-.6 -.3-.6 -.2-.6 0-.5 .2-.4 .4-.3 .4-.5 -.3-.6 -.5-.3 -.4-.4 -.2-.5 -.2-.5 -.2-.7 -.2-.3 -.7-.2 -.3 0 -.8 .2 -.5 .2 -.5 .1 -.5-.1 -.4-.4 -.2-.5 -.3-.5 -.3-.5 -.3-.3 -.2-.5 -.2-.7 .2-.8 .2-.3 .4-.4 .4-.5 .2-.5 0-.3 -.5-.4 -.4-.3 -.3-.5 -.2-.5 -.2-.5 -.4-.4 -.5-.3 -.2-.3 -.3-.5 -.2-.8 .1-.7 .2-.5 .2-.5 .1-.8 .1-.7 .3-.4 .5-.2 .5 .1 .5 .3 .4 .4 .3 .4 .5 .2 .8 0 .7 0 .6 .2 .5 .2 .4 .5 .1 .5 -.2 .5 -.1 .8 .5 .5 .5 0 .5-.1 .3-.4 .2-.5 -.1-.5 -.1-.8 0-.7 .1-.8 0-.7 -.2-.8 -.2-.5 -.3-.3 -.5-.4 -.4-.3 -.3-.2 -.5-.5 -.3-.3 -.2-.5 -.3-.5 -.2-.7 -.1-.5 -.2-.8 -.1-.5 -.4-.4 -.3-.3 -.4-.3 -.5-.4 -.5-.3 -.5-.2 -.5-.1 -.8-.1 -.5 .3 -.3 .3 -.4 .4 -.5 .3 -.5 .3 -.3 .4 -.2 .5 -.3 .6 -.2 .5 -.3 .5 -.2 .4 -.5 .2 -.5-.3 -.3-.3 -.2-.5 0-.7 .2-.5 .3-.3 .4-.5 .3-.2 .5-.4 .5-.4 .3-.2 .5-.4 .5-.2 .5-.2 .7-.2 .3-.3 .4-.5 .4-.2 .4-.3 .8-.2 .7 0 .8 .1 .6 .1 .6 .1 .8 0 .5-.1 .7-.2 .8 0 .7 0 .8 .2 .5 .1 .5 .2 .4 .5 .3 .5 0 .5 0 .5 0 .7 0 .8 0 .5 .3 .6 .2 .6 .1 .5 0 .8 -.1 .6 -.2 .6 -.2 .5 -.1 .5 0 .8 .2 .5 .2 .5 .2 .5 .1 .7 .1 .5 0 .6 -.2 .7 -.2 .5 -.2 .5 -.2 .7 -.1 .5 -.1 .8 -.1 .5 .1 .5 .2 .7 .1 .5 .1 .8 .1 .7 -.1 .8 .1 .7 0 .5 .2 .7 .1 .6 -.1 .5 -.2 .6 -.2 .6 0 .8 -.1 .7 0 .5 .1 .5 .2 .6 .2 .6 .3 .6 .1 .5 0 .7 -.1 .6 -.2 .7 -.1 .5 0 .6 .3 .4 -.1 .5 0 .7 0 .8 .1 .5 .1 .7 -.1 .6 -.3 .7 -.1 .5 -.1 .5 -.2 .7 -.1 .6 -.2 .7 -.3 .4 -.2 .3 -.5 .4 -.5 .2 -.6 .2 -.7 .1 -.5 .1 -.2 .1z M337.8 71.2l-.8 .2 -.2-.4 .2-.4 .5-.1 .5 0 .5 .2 -.2 .3 -.5 .2z M357.4 72.0l-.1-.7 -.5-.2 -.5 .3 -.1 .6 .6 .1 .6-.1z M334.0 85.0l-.5-.1 -.5-.2 -.1-.7 .2-.5 .3-.5 .1-.8 -.2-.6 -.3-.4 0-.5 .8-.2 .7 .1 .5 .2 .7-.1 .3-.3 .3-.5 .1-.7 .1-.7 -.2-.7 -.3-.3 -.5-.3 -.6-.2 -.4-.3 -.3-.5 -.2-.5 -.2-.6 -.1-.6 -.2-.8 -.2-.5 -.3-.5 -.2-.4 0-.4 .5 .1 .7 .2 .7 0 .6 .1 .6 .2 .4 .3 .2 .7 -.2 .7 -.3 .5 -.2 .4 -.2 .6 .2 .5 .5 .4 .5 .3 .5 .1 .5 .2 .7 .2 .5 .3 .4 .3 .3 .5 .1 .5 0 .6 -.1 .6 -.1 .8 -.1 .5 -.2 .6 -.4 .4 -.6 .2 -.5 0 -.8 .1 -.5 .2 -.5 .4 -.2 .4 -.3 .4 -.5 .5 -.5 .2 -.5 .1z M347.8 76.8l-.8 0 -.1-.6 .3-.5 .6-.1 .3 .4 -.1 .6 -.2 .2z M345.5 86.8l-.7 .1 -.5-.4 -.3-.4 -.3-.4 -.3-.5 -.4-.4 -.2-.4 -.2-.7 .3-.5 .4-.4 .5-.2 .5-.2 .7-.1 .7 .2 .3 .3 .2 .7 .1 .5 .2 .7 0 .5 -.1 .5 -.3 .5 -.3 .4 -.3 .2z M385.3 97.0l-.8 .1 -.7-.1 -.5-.1 -.8-.2 -.5-.1 -.5-.3 -.5-.3 -.3-.3 -.4-.3 -.4-.4 -.4-.5 -.2-.4 -.3-.4 -.2-.5 -.3-.7 -.1-.5 -.1-.7 -.1-.6 .1-.7 0-.5 .2-.8 .1-.5 .2-.5 .3-.5 .3-.5 .3-.5 .3-.3 .4-.4 .4-.3 .5-.4 .5-.2 .5-.3 .5-.1 .7-.2 .5 0 .8 0 .5 0 .7 .2 .5 .1 .5 .3 .5 .2 .5 .4 .4 .3 .4 .4 .3 .3 .3 .5 .3 .5 .3 .5 .2 .5 .1 .5 .2 .8 0 .5 .1 .7 -.1 .6 -.1 .7 -.1 .5 -.3 .7 -.2 .5 -.3 .5 -.2 .3 -.4 .5 -.4 .4 -.4 .3 -.3 .3 -.5 .3 -.5 .3 -.5 .1 -.8 .2 -.2 .1z M345.5 90.0l-.7 0 -.5 0 -.8-.2 -.6-.1 -.6-.2 -.5-.2 -.5-.3 -.3-.3 -.5-.4 -.3-.3 .1-.6 .7-.1 .6 .2 .7 .2 .5 .1 .7 0 .5-.1 .8-.1 .5 .3 .3 .3 .3 .5 .2 .5 -.1 .6 -.5 .2z M334.5 88.5l-.3-.3 .1-.5 .7 0 .3 .3 -.3 .3 -.5 .2z M359.3 96.7l-.5-.1 -.6-.1 -.4-.4 -.5-.3 -.4-.3 -.4-.3 -.5-.3 -.5-.2 -.5-.2 -.5-.3 -.6-.2 -.5-.3 -.4-.2 -.5-.3 -.5-.3 -.5-.3 -.5-.1 -.7-.2 -.5-.1 -.8-.2 -.5-.2 -.7-.1 -.5-.2 -.5-.2 -.5-.2 -.5-.1 -.8-.2 -.5-.1 -.7-.1 -.7-.1 -.6-.1 -.5-.2 -.5-.2 -.5-.3 -.5-.3 -.5-.3 -.5-.1 -.7-.1 -.8 0 -.7 .1 -.5 .1 -.5 .2 -.5 .2 -.8 .1 -.5 .1 -.7 0 -.4-.2 -.4-.3 -.5-.5 -.3-.2 -.4-.3 -.5-.3 -.5-.2 -.8-.1 -.7 0 -.8-.1 -.5-.1 -.5-.3 -.5-.3 -.5-.3 -.4-.3 -.4-.2 -.4-.3 -.5-.3 -.5-.4 -.5-.3 -.3-.3 -.3-.4 -.3-.5 -.3-.5 -.1-.5 -.2-.8 -.1-.5 -.1-.7 -.3-.5 0-.6 -.2-.7 0-.7 -.2-.5 0-.8 -.1-.6 -.2-.6 0-.8 0-.7 -.2-.5 0-.8 .1-.7 0-.6 0-.7 -.2-.5 0-.6 -.1-.6 -.1-.8 -.1-.5 -.1-.7 -.1-.6 -.1-.7 0-.7 -.1-.8 .1-.7 .1-.5 .2-.8 -.1-.7 0-.8 -.1-.7 0-.5 -.1-.8 -.1-.7 0-.8 0-.7 0-.8 0-.7 -.1-.8 0-.5 0-.7 0-.6 0-.7 .1-.7 .1-.8 .2-.5 .3-.5 .3-.4 .5-.2 .8-.1 .5-.1 .7 0 .8-.1 .5-.1 .7 0 .5 .2 .5 .1 .8 .2 .5 0 .6 0 .6-.1 .8 .1 .5 .1 .6 .2 .4 .3 .4 .4 .3 .5 .2 .5 .3 .5 .3 .4 .5 .3 .5 .3 .5 .3 .2 .3 .4 .4 .2 .5 .3 .5 .4 .4 .5 .3 .5 .3 .5 .2 .5 .1 .7 0 .5 0 .5 .1 .5 .4 .3 .3 .5 .4 .4 .3 .6 .1 .7 .1 .5 .1 .8 .1 .7 0 .8 0 .7-.1 .5-.1 .6-.2 .4-.3 .5-.4 .4-.3 .4-.3 .5-.4 .2-.4 .5-.4 .4-.3 .6-.2 .5-.2 .5-.3 .4-.3 .4-.3 .7-.1 .5-.3 .8 0 .7 0 .8 0 .7 .1 .8-.1 .5-.1 .7-.1 .8 0 .7 0 .8 .1 .5 .2 .5 .2 .5 .2 .5 .3 .3 .4 .3 .5 .1 .8 -.1 .7 0 .8 .1 .7 .1 .5 .3 .5 .1 .6 .1 .7 0 .7 -.1 .5 -.2 .8 -.1 .5 -.1 .7 .2 .7 .1 .6 .1 .5 .2 .7 .1 .8 0 .5 -.1 .5 -.2 .6 -.2 .6 -.1 .5 -.2 .8 0 .5 -.1 .7 .1 .8 .1 .5 .2 .7 0 .5 0 .8 0 .5 0 .5 .2 .7 .1 .5 .1 .8 -.1 .7 -.2 .5 -.2 .5 .1 .6 0 .7 0 .7 .1 .8 .2 .5 .2 .7 .1 .5 .1 .8 0 .5 0 .7 0 .6 0 .4 .3 .5 -.1 .5 -.2 .7 -.1 .6 -.1 .7 .1 .8 0 .7 -.2 .5 -.2 .8 -.1 .5 -.1 .5 -.2 .7 -.2 .5 -.3 .5 -.3 .5 -.3 .3 -.5 .4 -.5 .3 -.5 .1 -.5 .2 -.7 .1 -.8 .1 -.2 0z M354.6 62.5l.4-.5 -.5-.4 -.6-.1 -.6-.3 -.4-.2 -.4-.3 -.3-.5 .1-.5 .4-.5 .3-.3 .4-.4 .4-.5 .2-.3 .3-.5 -.1-.5 -.7-.2 -.5 .2 -.7 .3 -.5 .2 -.3 .3 -.3 .5 -.1 .7 .1 .8 .2 .5 -.3 .5 -.2 .5 .1 .5 .5 .4 .5 .3 .5 .1 .5 .2 .8 .1 .7-.1 .1 0z M350.8 90.0l.5-.3 .2-.5 -.1-.5 -.1-.5 -.1-.7 .3-.5 .3-.3 .5-.4 .2-.3 .3-.5 .1-.8 -.1-.7 -.3-.3 -.5-.3 -.7-.1 -.5-.2 -.5-.1 -.6-.3 -.4-.5 .3-.5 .4-.3 .5-.3 .7-.1 .6 0 .5 0 .5-.1 .5-.2 .4-.5 .2-.5 .1-.5 .3-.7 0-.5 -.1-.5 -.2-.5 -.4-.5 -.3-.5 -.3-.5 -.2-.5 -.2-.5 -.3-.5 -.4-.3 -.6-.2 -.5-.1 -.5-.2 -.5-.5 -.1-.5 .1-.6 .2-.6 .3-.4 .5-.3 .5-.3 .2-.3 .1-.7 -.1-.5 -.3-.5 -.4-.4 -.5-.4 -.3-.2 -.5-.4 -.4-.4 -.3-.4 -.3-.4 -.2-.7 -.1-.5 -.1-.7 -.2-.5 -.3-.5 -.3-.5 -.3-.5 -.2-.5 -.3-.4 -.5 .1 -.3 .5 -.4 .4 -.5 .4 -.5 .2 -.5 .1 -.8 0 -.6 .2 -.6 .2 -.4 .3 -.4 .2 -.5 .4 -.4-.4 -.3-.4 -.3-.4 -.2-.4 -.5-.4 -.8 .1 -.5 .2 -.3 .3 -.3 .5 -.1 .7 -.2 .6 -.2 .5 -.4 .4 -.3 .3 -.4 .3 -.8 0 -.5-.1 -.7-.1 -.5 .2 -.5 .5 -.3 .3 -.3 .4 -.3 .5 -.2 .5 0 .8 .2 .5 .3 .5 .3 .3 .5 .4 .4 .3 .5 .2 .5 .3 .6 .1 .6-.1 .4-.3 .4-.5 .4-.4 .3-.3 .4-.4 .5-.2 .8-.1 .5-.1 .7-.2 .2-.5 -.2-.5 -.2-.8 0-.5 0-.5 .2-.6 .3-.4 .5-.4 .5 .3 .3 .4 .4 .4 .3 .3 .4 .5 .2 .5 -.1 .5 -.5 .4 -.5 .1 -.6 .3 -.4 .3 -.2 .7 .2 .7 .1 .5 .2 .5 .4 .5 .3 .3 .5 .2 .7 .1 .5-.2 .4-.4 .4-.4 .3-.3 .6-.3 .6-.1 .5-.2 .7-.1 .8 .2 0 .4 -.3 .4 -.3 .4 -.3 .5 -.2 .5 0 .8 .1 .5 .5 .2 .7 .1 .5 .2 .5 .5 .2 .5 .2 .5 .2 .5 0 .7 -.3 .5 -.3 .3 -.5 .4 -.5 .2 -.7 0 -.8 0 -.7 0 -.7 .1 -.6 .2 -.5 .3 -.2 .3 -.3 .7 .1 .8 .2 .5 .5 .4 .5 .2 .7 0 .8-.1 .7 .1 .5 .4 .2 .5 -.1 .7 -.1 .5 0 .6 .1 .7 -.1 .6 -.1 .6 -.2 .5 0 .8 .1 .5 .3 .5 .4 .5 .3 .2 .5 .3 .5 .3 .5 .2 .7 .1 .8-.1z M358.8 64.5l.5-.3 0-.7 -.3-.3 -.5-.3 -.5-.2 -.7-.2 -.5 .4 -.1 .6 .2 .5 .4 .2 .7 .2 .5 .1 .3 0z M341.4 82.5l.5-.3 .4-.5 .2-.5 -.1-.7 -.1-.5 -.2-.8 .2-.7 0-.5 0-.8 .1-.7 .2-.5 .3-.5 .4-.3 .5-.2 0-.8 -.5-.1 -.5 .3 -.5 .3 -.5 0 -.5-.1 -.5-.2 -.5-.2 -.5-.2 -.6-.3 -.7 0 -.4 .3 -.3 .2 -.4 .5 -.1 .5 .1 .5 .4 .5 .4 .3 .6 .2 .5 .2 .5 .3 .3 .3 .4 .4 .3 .5 .1 .6 -.2 .5 -.3 .5 -.2 .5 0 .7 0 .8 .1 .5 .7 .1 .4-.1z M335.1 79.2l-.1-.5 -.7-.1 0 .6 .5 .2 .3-.2z M385.8 97.7l-.8 .2 -.7 0 -.8-.1 -.6-.1 -.6-.2 -.5-.2 -.5-.2 -.5-.3 -.5-.3 -.3-.3 -.5-.4 -.2-.3 -.4-.5 -.4-.5 -.2-.5 -.3-.5 -.2-.5 -.1-.5 -.2-.8 0-.5 -.1-.7 .1-.8 0-.5 .2-.7 .2-.5 .2-.5 .2-.5 .3-.5 .3-.5 .4-.5 .2-.3 .5-.4 .4-.3 .4-.3 .5-.3 .5-.2 .5-.2 .7-.2 .5-.1 .8-.1 .7 0 .6 .1 .7 .2 .5 .2 .5 .2 .5 .2 .5 .4 .4 .3 .3 .3 .5 .5 .3 .3 .3 .4 .3 .5 .2 .5 .2 .5 .2 .6 .2 .7 .1 .5 0 .7 0 .8 0 .6 -.1 .6 -.2 .5 -.2 .7 -.3 .6 -.2 .4 -.3 .4 -.3 .4 -.4 .5 -.3 .3 -.5 .4 -.4 .3 -.3 .3 -.5 .2 -.6 .3 -.7 .2 -.2 0z M338.7 86.2l.3-.5 0-.7 .1-.5 0-.8 -.3-.3 -.8 0 -.5 .1 -.5 .2 -.4 .5 -.3 .5 -.2 .5 .2 .7 .5 .1 .7 .2 .5 .1 .7-.1z M360.3 97.0l-.8 0 -.6 0 -.6-.2 -.5-.1 -.5-.4 -.5-.3 -.4-.3 -.5-.2 -.6-.3 -.5-.1 -.5-.2 -.7-.2 -.6-.1 -.5-.3 -.4-.3 -.4-.3 -.7-.2 -.5-.2 -.5-.2 -.7-.1 -.5-.1 -.8-.2 -.5-.1 -.5-.1 -.5-.3 -.5-.2 -.5-.3 -.6-.2 -.6-.2 -.8 0 -.5-.2 -.7-.1 -.5-.3 -.5-.2 -.4-.3 -.5-.2 -.6-.2 -.5-.2 -.8 0 -.7 .1 -.5 0 -.7 .3 -.6 .2 -.5 .2 -.6 .1 -.5 .2 -.6 .3 -.3 0 -.5-.4 -.4-.4 -.3-.4 -.5-.3 -.3-.4 -.5-.3 -.5-.3 -.5-.1 -.7-.1 -.8 0 -.5-.1 -.5-.3 -.5-.3 -.5-.4 -.4-.2 -.5-.3 -.4-.2 -.4-.3 -.5-.3 -.5-.4 -.3-.3 -.4-.5 -.3-.4 -.3-.3 -.3-.5 -.3-.5 -.1-.7 0-.3 0-.5 -.2-.8 -.2-.5 -.1-.7 -.2-.5 .1-.8 -.2-.5 -.1-.7 -.1-.8 -.2-.5 0-.7 0-.8 -.2-.5 0-.7 .1-.8 0-.7 0-.5 -.1-.5 -.1-.5 -.1-.8 -.1-.7 -.1-.7 0-.6 -.1-.7 -.1-.8 0-.7 0-.5 0-.8 0-.5 .2-.7 .1-.5 0-.8 0-.7 -.1-.8 0-.5 -.1-.7 -.1-.8 0-.7 0-.8 0-.7 0-.8 0-.6 -.1-.6 0-.8 0-.7 .1-.8 0-.7 .2-.5 .1-.5 .3-.5 .4-.4 .5-.2 .7-.2 .5-.1 .8-.1 .7 .1 .5-.2 .8 0 .5 .1 .7 .2 .5 .1 .8 0 .7 0 .6-.1 .4 .2 .8 0 .5 .2 .5 .3 .4 .3 .3 .3 .3 .5 .3 .5 .4 .5 .3 .2 .5 .3 .5 .2 .5 .3 .5 .3 .3 .4 .3 .5 .3 .5 .4 .3 .7 .2 .5 .2 .5 .1 .7 .1 .8 .1 .5 .3 .3 .2 .4 .5 .3 .4 .5 .4 .5 .1 .7 .1 .5 0 .8 .1 .5-.1 .7 0 .8-.2 .5-.2 .5-.3 .4-.3 .3-.2 .5-.5 .3-.3 .4-.5 .3-.2 .5-.4 .5-.2 .5-.2 .5-.3 .5-.2 .5-.4 .5-.1 .3 0 .7-.1 .8 0 .7 0 .8 0 .7 0 .7-.1 .6-.1 .7-.1 .8 0 .7 0 .8 .1 .5 .2 .5 .2 .5 .3 .5 .2 .4 .4 .3 .4 .3 .6 .1 .5 -.1 .8 0 .7 .1 .8 .1 .7 .3 .4 .2 .6 0 .8 0 .7 -.1 .8 -.1 .6 -.1 .6 0 .8 .1 .5 .1 .7 .1 .8 .1 .5 .1 .7 0 .8 -.2 .6 -.2 .6 -.1 .5 -.2 .7 0 .6 0 .7 0 .7 .1 .6 .1 .7 .1 .6 0 .4 0 .8 0 .5 .2 .7 .1 .5 .1 .8 -.1 .7 -.2 .5 -.2 .5 .1 .5 0 .8 .1 .7 .1 .8 .1 .5 .1 .7 .1 .5 .2 .8 .1 .5 .1 .7 0 .8 .2 .5 -.1 .7 -.1 .5 -.2 .5 -.1 .8 0 .7 0 .8 -.1 .6 -.2 .6 -.1 .5 -.2 .8 -.1 .5 -.2 .5 -.2 .5 -.4 .5 -.4 .5 -.2 .3 -.5 .4 -.3 .3 -.5 .2 -.7 .2 -.8 .1 -.2 0z M334.8 70.2l.5-.3 .4-.4 .2-.5 .2-.5 .1-.8 -.4-.4 -.5-.3 -.5-.3 -.3-.2 -.5-.3 -.7 0 -.4 .3 -.4 .4 -.2 .5 -.1 .6 .1 .7 .2 .5 .3 .3 .5 .4 .5 .2 .5 .2 .5-.1z M345.4 80.7l.6-.2 .5-.2 .5-.3 .8 .2 .5 .2 .5 .1 .7 0 .5-.1 .8-.1 .6-.1 .6-.2 .3-.3 .3-.5 .2-.7 0-.5 0-.5 -.3-.6 -.2-.5 -.3-.4 -.3-.5 -.3-.5 -.4-.4 -.5-.3 -.7 .2 -.1 .5 .1 .6 .1 .6 -.1 .8 -.2 .5 -.3 .4 -.3 .3 -.5 .5 -.3 .3 -.4 .3 -.5 .2 -.5-.1 -.5-.2 -.8-.1 -.7 .1 -.4 .3 -.2 .5 .2 .5 .4 .3 .6-.1z M340.3 75.7l-.5-.5 -.5-.2 -.5 .2 .2 .5 .5 .2 .8-.2z M385.3 98.5l-.8 .1 -.7-.1 -.5 0 -.8-.2 -.5-.1 -.5-.2 -.5-.3 -.5-.3 -.5-.3 -.4-.4 -.3-.3 -.5-.4 -.3-.4 -.2-.4 -.4-.5 -.2-.5 -.2-.5 -.2-.5 -.3-.7 -.1-.5 -.1-.8 0-.7 .1-.8 .1-.7 .1-.5 .2-.7 .2-.6 .2-.5 .3-.5 .3-.4 .2-.4 .4-.4 .4-.4 .4-.4 .3-.3 .5-.3 .5-.3 .5-.3 .5-.1 .5-.2 .8-.2 .5 0 .7-.1 .5 .1 .8 .1 .6 .1 .6 .2 .5 .3 .5 .2 .5 .3 .3 .3 .5 .3 .4 .4 .3 .4 .3 .4 .4 .5 .3 .5 .2 .5 .2 .5 .2 .5 .2 .7 .1 .5 .1 .8 0 .7 -.1 .8 -.1 .7 -.1 .5 -.2 .5 -.2 .7 -.3 .5 -.2 .4 -.3 .4 -.3 .5 -.4 .5 -.3 .3 -.5 .4 -.4 .3 -.4 .3 -.5 .2 -.5 .3 -.7 .2 -.5 .2 -.6 .1 -.1 0z M350.1 88.7l.2-.5 .1-.7 .2-.5 .4-.5 .3-.3 .4-.5 .2-.5 -.1-.7 -.3-.3 -.6-.2 -.6-.2 -.5-.1 -.8-.1 -.7 .1 -.4 .3 -.2 .5 -.1 .7 -.1 .7 -.1 .6 .1 .7 .2 .5 .3 .4 .5 .4 .4 .2 .6 .2 .6-.2z M359.8 97.2l-.8 .1 -.5-.2 -.6-.1 -.4-.3 -.7-.1 -.5-.4 -.5-.2 -.5-.2 -.5-.2 -.6-.1 -.4 0 -.5-.2 -.6-.1 -.7-.2 -.2-.3 -.5-.2 -.7-.3 -.6-.1 -.5-.3 -.5-.1 -.7 0 -.8-.2 -.5-.2 -.7 0 -.5-.3 -.5-.3 -.3-.2 -.7-.3 -.5 0 -.5 .2 -.3 .1 -.7-.2 -.5-.1 -.3-.6 -.5-.4 -.2-.3 -.5-.3 -.6-.1 -.7-.2 -.7 0 -.8 .1 -.5 .2 -.5 .3 -.5 .3 -.5 .2 -.5 .2 -.5 .1 -.5 .3 -.5 .2 -.5 0 -.5-.4 -.2-.3 -.3-.5 -.5-.5 -.3-.3 -.7-.1 -.5-.2 -.5 .3 -.3-.2 .1 .3 -.5 .4 -.5 .2 -.7-.2 -.3-.4 -.1-.6 .1-.5 -.3-.2 -.2-.5 -.4-.5 -.4-.3 -.5-.3 -.5-.2 -.5-.4 -.5-.3 -.5-.3 -.3-.2 -.2-.5 -.3-.5 -.3-.5 -.3-.5 -.3-.5 -.2-.5 -.2-.5 0-.8 -.2-.5 -.2-.7 -.1-.5 -.2-.5 0-.8 -.2-.7 0-.5 0-.8 -.3-.5 0-.7 0-.8 -.2-.7 0-.5 0-.8 0-.7 0-.5 0-.6 -.2-.7 0-.5 -.1-.7 0-.8 0-.7 -.1-.8 0-.7 0-.8 -.1-.7 .1-.8 0-.7 .2-.8 -.1-.7 .1-.8 -.1-.7 0-.8 -.1-.7 0-.8 0-.7 0-.8 0-.7 -.1-.8 0-.5 0-.7 -.1-.8 0-.7 0-.8 0-.7 .3-.5 .1-.8 .3-.2 .2-.5 .5-.3 .7-.2 .5 0 .8-.2 .5-.1 .5 .2 .5-.3 .7 0 .8 0 .5 .3 .7 0 .8 0 .5 .2 .7-.1 .8 .2 .5 0 .7 .3 .3 .2 .5 .3 .5 .2 .4 .5 .3 .4 .4 .4 .4 .3 .5 .3 .5 .2 .5 .2 .5 .2 .5 .5 .3 .3 .5 .2 .7 0 .2 .2 .4 .3 .4 .4 .5 .4 .5 .1 .5 .1 .6 .3 .4 .2 .4 .5 .3 .3 .5 .4 .5 .1 .8 .1 .7 0 .8-.1 .5-.1 .5-.2 .5-.3 .5-.3 .3-.4 .4-.4 .3-.4 .3-.4 .5-.3 .4-.3 .8-.1 .5-.3 .5-.2 .5-.2 .5-.4 .5 0 .5 0 .5-.1 .7 .1 .5 0 .5-.1 .8 0 .7 0 .8-.1 .5-.1 .7 0 .8 0 .7 0 .8 0 .5 .2 .5 .1 .5 .3 .5 .3 .5 .4 .3 .3 .3 .5 .3 .5 .1 .7 0 .3 0 .7 0 .5 0 .8 .2 .6 .4 .4 0 .7 0 .8 0 .7 -.1 .8 -.1 .5 0 .7 .1 .8 0 .5 0 .7 .1 .8 .1 .7 .1 .5 0 .8 -.1 .6 -.2 .6 -.2 .5 -.1 .5 -.1 .8 0 .7 .1 .7 .1 .6 .1 .7 0 .8 0 .7 .1 .8 .1 .5 .1 .6 .1 .6 0 .8 -.2 .5 -.1 .5 0 .5 0 .7 .1 .8 0 .7 .1 .8 .1 .5 .2 .7 .1 .5 0 .8 .1 .7 0 .8 .2 .5 0 .7 -.1 .8 -.1 .5 -.2 .7 0 .8 .1 .7 -.2 .5 0 .8 -.2 .5 -.1 .7 -.1 .5 -.3 .3 -.2 .5 -.3 .3 -.4 .4 -.3 .4 -.3 .4 -.5 .2 -.5 .5 -.5 .3 -.5 0 -.7 .2 -.8 0 -.2 0z M334.5 69.2l.3-.2 0-.8 -.3-.3 -.5-.3 -.6 .1 -.1 .5 .1 .5 .4 .4 .5 .1 .2 0z M350.8 79.5l.6-.3 .2-.5 0-.7 -.3-.5 -.3 0 -.5 .2 -.4 .5 -.2 .5 .1 .5 .6 .3 .2 0z M385.8 99.0l-.8 .1 -.7 0 -.8 0 -.6-.1 -.6-.2 -.5-.1 -.5-.2 -.5-.3 -.5-.3 -.5-.3 -.5-.4 -.3-.2 -.4-.5 -.3-.3 -.4-.5 -.3-.5 -.3-.5 -.2-.5 -.2-.5 -.2-.5 -.2-.6 -.1-.6 -.1-.8 0-.7 0-.8 .1-.7 .1-.6 .2-.7 .2-.5 .2-.5 .3-.5 .2-.5 .4-.5 .3-.3 .3-.4 .4-.5 .4-.3 .4-.3 .5-.3 .5-.3 .5-.3 .5-.2 .5-.1 .7-.2 .5-.1 .8 0 .7 0 .6 .1 .7 .1 .5 .2 .5 .2 .6 .2 .4 .3 .5 .2 .5 .4 .4 .4 .3 .3 .4 .4 .4 .5 .2 .3 .3 .5 .3 .5 .2 .5 .2 .6 .2 .6 .1 .5 .2 .8 0 .7 0 .8 -.1 .7 -.1 .8 -.1 .5 -.2 .5 -.2 .6 -.3 .5 -.2 .5 -.3 .4 -.3 .5 -.4 .4 -.3 .3 -.5 .5 -.3 .3 -.4 .3 -.5 .3 -.5 .2 -.5 .3 -.5 .1 -.8 .2 -.2 .1z M349.2 87.2l.3-.2 .4-.5 .4-.5 .2-.4 0-.5 -.4-.4 -.6-.1 -.7 .1 -.3 .3 -.2 .7 -.1 .5 .1 .5 .5 .5 .4 0z M361.8 97.5l-.8 .1 -.7 0 -.8 .1 -.7 0 -.5-.2 -.8-.2 -.5-.3 -.5-.2 -.5-.3 -.5-.3 -.5 0 -.5-.2 -.2 0 -.8-.1 -.5-.2 -.7-.2 -.5-.1 -.5-.3 -.5-.2 -.5-.2 -.8-.2 -.5-.2 -.5-.1 -.7-.2 -.8 .1 -.5-.1 -.4 0 -.6-.2 -.6-.1 -.6-.1 -.8-.1 -.6 .2 -.4 0 -.7-.1 -.5-.3 -.3-.3 -.5-.5 -.2-.5 -.3-.3 -.7-.2 -.3-.3 -.5 .1 -.5 .2 -.5 .4 -.2 .5 -.3 .4 -.7 .2 -.5 0 -.8 .1 -.7 0 -.6 .1 -.7 .2 -.7 .1 -.7-.3 -.3-.3 -.4-.4 -.4-.5 -.5-.1 -.6-.2 -.6 0 -.8-.1 -.6-.1 -.5-.3 -.4-.4 -.2-.6 0-.6 -.2-.6 -.2-.5 -.4-.3 -.5-.3 -.5-.4 -.5-.3 -.3-.2 -.4-.4 -.5-.4 -.2-.5 -.3-.3 -.3-.4 -.3-.5 -.2-.5 -.3-.5 -.1-.8 0-.7 -.2-.5 -.1-.8 -.1-.5 -.2-.5 0-.7 0-.8 -.2-.7 0-.5 -.3-.7 -.1-.6 0-.7 -.1-.8 -.2-.5 .1-.7 0-.8 .1-.7 0-.5 -.3-.5 0-.7 0-.6 -.1-.7 0-.8 -.1-.7 0-.8 0-.5 -.1-.7 0-.8 .1-.7 .1-.5 .1-.7 -.2-.3 .1-.8 0-.7 0-.8 0-.7 0-.8 -.1-.7 0-.8 0-.7 0-.8 0-.7 0-.8 -.1-.5 0-.7 0-.8 0-.7 0-.8 .3-.5 0-.5 .3-.5 .3-.5 .4-.4 .5-.2 .8 .1 .7-.1 .8-.1 .7 .1 .5-.2 .8 0 .6 .1 .6 .2 .8 0 .7 0 .5 .1 .6-.1 .4 0 .8 .2 .5 .2 .5 .1 .5 .3 .5 .3 .4 .4 .3 .3 .5 .4 .5 .3 .5 .3 .5 .2 .5 .2 .5 .2 .5 .4 .5 .2 .5 .3 .5 0 .5 .3 .5 .4 .3 .3 .5 .3 .6 .2 .6 .2 .5 .2 .5 .2 .3 .4 .5 .4 .4 .3 .6 .1 .5-.2 .7 0 .5-.3 .6-.1 .5-.2 .4-.3 .3-.5 .5-.3 .4-.4 .6-.3 .4-.2 .6-.3 .5 0 .7-.2 .5-.3 .5-.1 .5-.2 .7 .1 .3-.2 .8 0 .7 .1 .5-.3 .8 .1 .7 0 .8-.1 .7 0 .8 0 .7 0 .8 0 .7 0 .5 .2 .7 .2 .4 .2 .5 .3 .4 .4 .4 .3 .3 .5 .2 .5 .1 .6 .1 .7 .2 .5 0 .7 .1 .8 .1 .6 .2 .6 0 .8 0 .7 0 .8 -.1 .7 0 .8 .1 .7 0 .8 0 .7 0 .8 .1 .7 0 .5 .1 .8 -.1 .6 -.1 .6 -.2 .7 -.1 .6 0 .7 0 .8 .1 .5 .1 .7 0 .8 0 .7 0 .8 .1 .7 0 .8 .1 .5 0 .7 0 .5 -.2 .8 .2 .5 0 .7 0 .8 0 .7 .1 .8 .1 .7 0 .6 .2 .7 .1 .5 .1 .7 .1 .7 .1 .6 -.1 .5 -.1 .7 -.1 .5 -.1 .8 0 .7 0 .8 0 .7 -.2 .5 0 .8 -.2 .5 0 .3 -.3 .5 -.2 .6 -.3 .3 -.4 .5 -.3 .3 -.4 .5 -.4 .4 -.4 .3 -.3 .4 -.5 .3 -.5 .1z M385.8 99.5l-.8 .1 -.7 0 -.8 0 -.7-.1 -.5-.1 -.5-.2 -.6-.2 -.5-.3 -.5-.2 -.4-.3 -.5-.4 -.5-.3 -.3-.3 -.4-.5 -.3-.4 -.3-.3 -.3-.5 -.3-.5 -.2-.5 -.3-.5 -.1-.5 -.2-.8 -.2-.5 -.1-.7 0-.8 0-.7 .1-.8 .1-.7 .1-.5 .2-.5 .2-.7 .3-.5 .2-.5 .3-.4 .3-.4 .3-.5 .4-.4 .3-.4 .4-.3 .5-.4 .4-.3 .4-.2 .5-.3 .5-.2 .7-.3 .5-.1 .6-.1 .7-.1 .7 0 .8 0 .5 .1 .7 .2 .5 .1 .5 .2 .5 .2 .5 .3 .5 .3 .5 .4 .4 .3 .4 .3 .3 .4 .4 .5 .3 .3 .3 .5 .3 .5 .2 .5 .2 .5 .2 .5 .2 .7 .1 .5 .1 .8 .1 .7 0 .8 -.1 .7 -.1 .8 -.1 .5 -.2 .5 -.2 .6 -.3 .6 -.2 .5 -.3 .4 -.2 .4 -.4 .5 -.4 .4 -.3 .3 -.4 .4 -.5 .4 -.3 .2 -.5 .3 -.5 .3 -.5 .2 -.6 .2 -.6 .2 -.5 .1z M361.5 98.2l-.5 0 -.7 0 -.8 0 -.7 0 -.5-.2 -.8-.1 -.5-.3 -.5-.1 -.6-.3 -.6-.2 -.5-.2 -.5-.2 -.7-.1 -.6-.1 -.7-.1 -.5-.2 -.5-.2 -.7-.2 -.6-.2 -.5-.2 -.5-.2 -.6-.1 -.6-.1 -.8 0 -.7-.1 -.8 .1 -.7 .1 -.8-.1 -.7 0 -.8 .1 -.7-.2 -.7-.1 -.4-.2 -.6-.3 -.4-.2 -.7-.1 -.5 .1 -.7 .1 -.5 .2 -.8 0 -.5-.1 -.7-.1 -.8-.1 -.7 0 -.7 .2 -.6 .1 -.7 0 -.5-.2 -.5-.3 -.5-.3 -.5-.3 -.4-.2 -.4-.3 -.6-.2 -.6-.2 -.5-.2 -.5-.1 -.6-.3 -.4-.3 -.3-.4 -.2-.7 -.1-.6 -.3-.5 -.4-.3 -.5-.3 -.4-.4 -.3-.3 -.4-.4 -.4-.4 -.3-.4 -.2-.5 -.4-.5 -.2-.5 -.2-.5 -.3-.5 -.1-.5 -.2-.7 0-.8 -.1-.5 -.1-.7 -.1-.5 -.2-.8 -.1-.7 0-.5 -.2-.8 0-.7 -.3-.5 0-.5 -.1-.8 -.1-.7 -.2-.5 0-.8 .1-.7 .1-.8 0-.2 -.3-.8 0-.7 0-.8 0-.5 0-.7 -.1-.8 0-.7 0-.8 -.1-.7 0-.5 0-.5 .1-.8 .1-.5 0-.5 0-.5 .1-.7 0-.8 0-.7 0-.8 -.1-.6 0-.6 0-.8 0-.7 0-.8 -.1-.7 0-.8 -.1-.7 0-.8 0-.7 0-.8 0-.4 .2-.6 .1-.5 .3-.5 .1-.5 .5-.4 .5-.3 .5-.2 .8 .1 .7-.1 .8-.1 .5 0 .7-.1 .8 0 .7 0 .5 .2 .8 0 .7 0 .8 .1 .7-.1 .5 .2 .8 .1 .5 .2 .5 .3 .5 .3 .5 .3 .4 .3 .4 .2 .4 .3 .5 .3 .5 .3 .5 .2 .5 .3 .5 .1 .5 .3 .8 .2 .5 .1 .7 .1 .5 .2 .5 .3 .3 .3 .5 .4 .5 .3 .5 .1 .5 .2 .5 .3 .7 .1 .8 .1 .5 .1 .5-.1 .3 0 .6-.2 .4-.3 .4-.3 .5-.3 .5-.3 .5-.2 .5-.3 .5-.2 .5-.1 .8-.3 .5-.1 .7-.1 .5 0 .5 0 .5-.1 .8 .1 .5 0 .5-.2 .7 0 .8 0 .7 0 .8 0 .7 0 .8-.1 .6 0 .6 0 .8-.1 .5 .3 .5 .1 .5 .3 .5 .3 .4 .4 .3 .3 .3 .4 .2 .5 .3 .5 .2 .8 0 .6 .2 .6 .1 .8 0 .5 .4 .5 0 .7 0 .8 -.2 .7 0 .5 0 .8 0 .7 0 .6 .1 .7 0 .7 -.1 .8 .1 .7 .1 .8 .1 .5 0 .7 -.1 .5 -.2 .6 -.2 .7 0 .5 -.1 .7 .1 .7 0 .6 .1 .7 .1 .8 0 .7 0 .8 0 .7 .1 .5 .1 .8 0 .7 -.1 .8 .1 .7 -.1 .8 0 .7 0 .8 .1 .7 .1 .6 .1 .7 .1 .5 .2 .7 .1 .5 .1 .8 .1 .5 0 .5 -.1 .7 -.1 .6 -.1 .7 -.1 .7 0 .8 0 .7 -.1 .8 -.1 .5 .1 .7 -.2 .8 -.2 .5 -.3 .5 -.3 .3 -.3 .4 -.4 .4 -.3 .4 -.5 .5 -.2 .3 -.5 .4 -.3 .4 -.5 .4 -.5 .1 -.5 .1z M385.8 100.0l-.8 .1 -.7 0 -.8 0 -.7-.1 -.5-.1 -.5-.2 -.7-.2 -.5-.3 -.5-.2 -.4-.3 -.4-.3 -.5-.4 -.4-.3 -.4-.4 -.3-.3 -.4-.5 -.3-.4 -.2-.4 -.3-.5 -.2-.5 -.3-.5 -.2-.7 -.2-.5 -.1-.6 -.1-.7 -.1-.7 0-.8 .1-.7 .1-.8 .1-.5 .2-.6 .2-.6 .2-.5 .2-.5 .3-.5 .3-.5 .3-.4 .2-.4 .5-.5 .3-.3 .5-.4 .3-.3 .4-.3 .5-.3 .5-.3 .5-.2 .5-.2 .5-.2 .8-.2 .5 0 .7-.1 .8 0 .7 .1 .5 0 .7 .2 .6 .2 .5 .2 .5 .2 .5 .3 .5 .3 .4 .3 .3 .3 .5 .4 .3 .3 .4 .5 .3 .4 .3 .4 .3 .5 .3 .5 .2 .5 .2 .5 .2 .6 .2 .6 .1 .5 .1 .8 0 .7 0 .8 0 .7 -.1 .6 -.2 .7 -.1 .5 -.2 .6 -.3 .6 -.2 .5 -.3 .5 -.2 .4 -.3 .4 -.4 .5 -.3 .3 -.4 .4 -.4 .3 -.5 .4 -.4 .3 -.4 .3 -.5 .2 -.6 .3 -.6 .2 -.5 .1 -.6 .2 -.1 0z M362.0 99.0l-.7 .1 -.8-.1 -.7 0 -.8 .1 -.7-.1 -.5-.1 -.8 0 -.7 0 -.7 .1 -.6 .1 -.5-.3 -.5-.3 -.2-.3 -.5-.3 -.5-.2 -.8-.2 -.5-.1 -.7-.2 -.5-.1 -.5-.2 -.8-.2 -.5-.1 -.5-.1 -.7-.1 -.8 0 -.7 .1 -.5 0 -.8 .1 -.7-.1 -.5 0 -.8-.1 -.7-.1 -.8 0 -.7 0 -.8 0 -.7 .1 -.8 0 -.5-.2 -.5-.2 -.5-.3 -.5-.4 -.5-.2 -.5-.1 -.7-.1 -.8 0 -.5 .1 -.7 .1 -.8-.1 -.5-.2 -.5-.1 -.5-.3 -.5-.2 -.5-.3 -.5-.3 -.5-.2 -.5-.3 -.5-.1 -.7-.3 -.5-.2 -.5-.3 -.4-.2 -.4-.5 -.2-.4 -.3-.4 -.3-.5 -.4-.4 -.3-.4 -.3-.4 -.4-.5 -.3-.4 -.3-.4 -.4-.5 -.2-.5 -.3-.5 -.1-.5 -.2-.5 -.2-.7 -.1-.5 -.1-.8 0-.7 -.1-.5 0-.8 -.2-.6 -.2-.6 -.1-.8 0-.5 -.2-.7 -.1-.5 -.2-.8 -.1-.5 -.1-.7 0-.6 -.3-.7 0-.5 .1-.5 0-.7 .1-.8 -.2-.7 0-.5 0-.8 0-.7 0-.8 0-.7 -.1-.8 0-.7 -.1-.8 0-.7 0-.8 .2-.7 0-.4 0-.6 .1-.5 0-.8 0-.7 0-.8 -.1-.7 0-.5 0-.8 -.1-.7 0-.8 0-.7 0-.8 0-.7 -.1-.8 0-.7 0-.8 0-.7 0-.3 .2-.7 .1-.5 .3-.5 .1-.5 .5-.5 .3-.3 .5-.3 .5-.2 .5 .1 .7 .1 .8 0 .7-.1 .8-.1 .5 0 .7 0 .8 0 .5 .1 .7 0 .8 0 .7 .1 .8 0 .5 .1 .7 .2 .5 .2 .5 .3 .4 .3 .5 .2 .5 .3 .5 .2 .5 .3 .5 .2 .4 .3 .6 .2 .4 .3 .7 .2 .5 .2 .5 .1 .8 .1 .7 .1 .5 .2 .5 .3 .3 .3 .5 .4 .4 .3 .6 .2 .5 .1 .6 0 .6-.1 .8 .1 .5 0 .5-.1 .5-.2 .5-.2 .5-.3 .6-.2 .6-.3 .5-.2 .5-.1 .5-.2 .8-.2 .7 0 .5 0 .5 0 .5 0 .8-.1 .5 .1 .5-.1 .7-.1 .8 0 .7 0 .8 .1 .7 0 .8-.1 .7 0 .8-.1 .5 0 .7-.1 .5 .3 .5 .1 .5 .3 .5 .3 .4 .4 .4 .3 .3 .4 .3 .5 .2 .5 .2 .7 .2 .6 .1 .5 .2 .5 .1 .7 .1 .8 .3 .5 0 .3 -.1 .7 -.1 .7 -.1 .5 -.1 .8 0 .7 .1 .8 0 .5 .1 .7 0 .8 0 .7 0 .8 .1 .7 0 .8 -.1 .7 -.1 .5 -.1 .8 -.1 .6 0 .6 0 .5 0 .8 .1 .7 0 .8 0 .7 0 .8 .1 .7 0 .6 .1 .7 0 .7 -.1 .8 .2 .7 -.1 .8 0 .7 0 .8 .1 .7 .1 .8 .1 .5 .1 .5 .2 .7 .1 .5 .1 .8 .1 .7 -.2 .8 0 .5 -.2 .7 -.1 .8 0 .5 0 .7 0 .6 0 .7 -.1 .5 .1 .7 -.1 .8 -.2 .5 -.3 .5 -.3 .5 -.3 .3 -.4 .4 -.4 .4 -.3 .4 -.4 .5 -.3 .4 -.3 .3 -.3 .5 -.4 .4 -.5 .3 -.5 .1z M385.5 100.5l-.7 .1 -.8 0 -.7-.1 -.5-.1 -.8-.1 -.5-.2 -.5-.2 -.5-.2 -.5-.2 -.5-.3 -.5-.4 -.4-.3 -.3-.3 -.5-.5 -.3-.2 -.4-.5 -.3-.5 -.3-.4 -.2-.4 -.3-.5 -.2-.5 -.3-.6 -.2-.6 -.1-.5 -.2-.8 0-.5 -.1-.7 0-.8 0-.7 .1-.7 .1-.6 .2-.5 .2-.7 .2-.5 .2-.5 .3-.5 .3-.5 .3-.5 .2-.3 .4-.5 .4-.4 .3-.3 .4-.4 .5-.4 .4-.2 .4-.3 .5-.3 .5-.2 .5-.2 .7-.2 .5-.2 .8-.1 .5 0 .7-.1 .7 .1 .6 0 .7 .2 .5 .1 .5 .2 .6 .2 .5 .3 .4 .2 .5 .3 .5 .4 .4 .3 .4 .4 .4 .4 .3 .4 .3 .3 .4 .5 .3 .5 .2 .5 .3 .5 .2 .5 .2 .5 .1 .6 .2 .7 .1 .6 0 .6 .1 .8 0 .7 -.1 .7 -.1 .6 -.2 .7 -.1 .5 -.2 .5 -.2 .5 -.2 .5 -.3 .5 -.3 .5 -.4 .5 -.3 .4 -.3 .4 -.4 .4 -.3 .3 -.5 .4 -.5 .4 -.4 .2 -.4 .3 -.5 .2 -.6 .3 -.6 .2 -.5 .1 -.7 .2 -.3 0z" fill="none" stroke="#111" stroke-width="0.55" clip-path="url(#cb1)"/><defs><clipPath id="cb2"><rect x="412.7" y="30.1" width="91.7" height="90.7"/></clipPath></defs>
<path d="M460.6 93.3l-.8 0 -.7 0 -.8 0 -.5-.1 -.7-.2 -.5-.2 -.5-.1 -.6-.2 -.7-.3 -.5-.2 -.4-.3 .2-.6 .4-.4 .3-.5 .1-.5 .2-.7 0-.5 .1-.8 0-.7 0-.8 .3-.5 .5-.2 .6-.2 .5-.1 .7-.2 .5-.1 .8-.1 .7 0 .8 0 .7 .1 .5 .1 .6 .2 .6 .3 .4 .2 .4 .3 .5 .5 .3 .3 .3 .4 .2 .5 .2 .8 0 .7 -.1 .8 -.2 .5 -.3 .5 -.3 .5 -.3 .3 -.5 .4 -.5 .3 -.5 .2 -.5 .2 -.5 .2 -.8 .1 -.2 .1z M487.6 94.0l-.8 .2 -.5-.2 -.5-.4 -.2-.4 -.3-.5 -.2-.6 -.2-.6 -.1-.7 0-.6 0-.7 .1-.5 .1-.8 .1-.5 .2-.5 .3-.5 .4-.5 .4-.2 .7-.2 .5 .2 .5 .4 .2 .4 .3 .5 .2 .7 .1 .5 .2 .7 0 .5 0 .8 -.1 .5 -.1 .7 -.1 .5 -.2 .5 -.3 .5 -.4 .5 -.3 .3z M429.8 89.0l-.7 .1 -.5-.2 -.2-.7 .4-.3 .8 0 .5 .2 .3 .4 -.3 .5 -.3 0z M487.8 97.0l-.7 .2 -.8-.1 -.5-.3 -.4-.3 -.3-.3 -.4-.5 -.3-.5 -.2-.5 -.2-.5 -.2-.5 -.2-.7 -.1-.5 -.1-.8 -.1-.5 0-.7 0-.8 0-.7 .1-.5 .1-.8 .1-.6 .1-.6 .2-.5 .2-.5 .2-.5 .3-.5 .4-.5 .3-.4 .4-.4 .5-.2 .6-.2 .8 .1 .5 .2 .4 .4 .3 .3 .4 .4 .3 .5 .2 .5 .2 .5 .2 .5 .2 .7 .1 .6 .2 .7 0 .5 .1 .8 0 .7 -.1 .8 0 .6 -.1 .6 -.2 .8 -.1 .5 -.1 .5 -.3 .6 -.2 .5 -.3 .5 -.3 .4 -.4 .5 -.3 .2 -.5 .3z M461.8 94.7l-.7 .2 -.8 0 -.7 .1 -.8-.1 -.7-.1 -.5-.2 -.5-.1 -.6-.3 -.4-.2 -.5-.3 -.5-.3 -.5-.2 -.7-.2 -.6-.2 -.5-.2 -.5-.2 -.5-.3 -.3-.4 .2-.5 .4-.4 .2-.4 0-.7 -.2-.5 0-.3 .2-.4 .4-.5 .2-.5 0-.8 -.3-.3 -.5-.4 -.5-.2 -.5-.3 -.5-.3 -.5-.2 -.5-.2 -.5-.1 -.8-.2 -.5-.1 -.5-.2 -.5-.2 -.2-.3 .5-.3 .6-.2 .6 0 .5 0 .8 .2 .5 .1 .5 .3 .5 .4 .5 .2 .5 .1 .7 .1 .8-.1 .5 0 .7-.2 .5-.2 .5-.2 .6-.2 .6-.2 .6-.2 .5-.1 .7-.1 .8 0 .7 0 .8 .1 .5 .1 .7 .1 .5 .2 .5 .1 .6 .3 .4 .2 .5 .4 .5 .3 .3 .3 .5 .5 .2 .4 .3 .4 .2 .5 .3 .7 .1 .5 0 .8 0 .7 -.1 .6 -.3 .7 -.2 .5 -.3 .4 -.2 .4 -.4 .4 -.4 .4 -.5 .3 -.4 .3 -.5 .3 -.5 .2 -.6 .2 -.5 .2 -.5 .1z M430.3 89.8l-.7 .1 -.8 0 -.7 0 -.7-.2 -.6-.2 -.3-.3 -.2-.5 -.2-.5 -.3-.5 0-.5 .4-.5 .3-.5 .3-.5 .4-.2 .6-.2 .8-.1 .7 .1 .7 .2 .6 .2 .3 .3 .1 .7 .2 .5 .3 .5 .3 .4 .3 .4 -.2 .5 -.3 .3 -.5 .2 -.6 .2 -.2 .1z M437.8 86.5l-.7 .1 -.8 0 -.7 0 -.8-.1 -.5-.1 -.6-.2 -.1-.3 .5-.2 .7 0 .8 0 .5 0 .7 .2 .5 .1 .6 .2 -.1 .3z M434.1 95.5l-.8 .2 -.7 0 -.8-.2 -.4-.3 -.1-.4 .4-.3 .6-.2 .5-.2 .8-.1 .5-.1 .7-.1 .5-.1 .5-.3 .5-.2 .5-.3 .5-.2 .8-.2 .5-.1 .7-.1 .8 .1 .5 .1 .5 .2 0 .6 -.5 .3 -.5 .2 -.7 .2 -.6 .1 -.7 .1 -.5 .1 -.8 .1 -.5 .2 -.5 .2 -.5 .3 -.5 .2 -.5 .2 -.2 0z M446.3 98.5l-.7 0 -.8 0 -.5 0 -.7-.2 -.5-.2 -.2-.6 .4-.5 .5-.3 .5-.1 .6-.1 .7-.1 .5 .1 .7 .2 .5 .3 .3 .3 0 .7 -.3 .2 -.7 .3 -.3 0z M445.3 78.5l-.7 0 -.5 0 -.8-.3 0-.4 .5-.2 .8-.1 .5-.1 .7 0 .8 0 .5 .1 .2 .3 -.5 .3 -.5 .2 -.7 .2 -.3 0z M433.3 97.0l-.7 .1 -.8-.1 -.5-.1 -.7-.2 -.4-.2 -.4-.4 -.2-.4 -.3-.5 0-.5 .5-.3 .5-.2 .8-.2 .5-.2 .5-.1 .7-.1 .5-.1 .8-.2 .5-.2 .5-.3 .5-.3 .4-.3 .4-.2 .4-.4 .4-.4 .4-.3 .5-.3 .5-.2 .5-.2 .6-.2 .6-.2 .5-.1 .8-.1 .7-.1 .7 0 .6-.2 0-.4 -.4-.4 .4-.3 .7-.1 .7-.1 .6-.1 .7-.1 .5-.1 .8-.1 .7-.1 .5-.1 .5-.3 0-.4 -.5-.3 -.5-.3 -.5-.2 -.5-.3 -.5-.3 -.5-.3 -.5-.2 -.5-.2 -.5-.2 -.6-.2 -.6-.1 -.5-.1 -.8-.2 -.7-.1 -.5-.1 -.8-.1 -.5-.2 -.2-.3 0-.5 -.3-.4 -.4-.4 -.4-.2 -.4-.5 .5-.4 .7-.1 .5 0 .8 0 .7-.1 .8 0 .7-.1 .8-.1 .5 0 .7 0 .8 0 .5 .1 .5 .2 .5 .3 0 .5 -.3 .4 .3 .5 .5 .1 .7 0 .8 .1 .7 .1 .5 0 .8 .2 .5 .1 .7 .2 .5 .1 .8-.1 .5-.1 .5-.3 .5-.2 .5-.3 .5-.1 .7-.2 .8-.1 .5 0 .7 0 .5 0 .8 .1 .7 .1 .5 .1 .8 .2 .5 .1 .6 .2 .6 .2 .5 .2 .5 .2 .5 .3 .4 .3 .4 .3 .5 .4 .3 .3 .4 .5 .3 .5 .2 .4 .3 .5 .2 .6 .1 .5 .1 .8 .1 .7 -.1 .8 -.2 .7 -.1 .5 -.3 .5 -.2 .5 -.4 .5 -.2 .3 -.4 .5 -.4 .3 -.5 .4 -.4 .3 -.4 .2 -.4 .3 -.6 .2 -.6 .3 -.6 .1 -.5 .2 -.7 .1 -.5 .1 -.8 0 -.7 0 -.8 0 -.5-.1 -.7-.1 -.6-.1 -.7-.1 -.5-.2 -.6-.2 -.5-.2 -.4-.3 -.5-.3 -.5-.3 -.6-.1 -.6 0 -.5 0 -.8 .1 -.7 .1 -.5 0 -.8 .1 -.7 .1 -.5 .1 -.8 0 -.7 0 -.5-.1 -.5-.2 -.5-.3 -.5-.2 -.8-.1 -.5 .1 -.7 .2 -.5 .2 -.5 .1 -.7 .3 -.6 .1 -.5 .2 -.6 .2 -.6 .2 -.5 .2 -.5 .2 -.5 .2 -.5 .3 -.5 .2 -.6 .2 -.7 .2 -.5 .2 -.5 .1z M487.8 98.3l-.7 .2 -.8-.1 -.5-.2 -.5-.4 -.4-.3 -.3-.5 -.3-.3 -.3-.5 -.2-.5 -.2-.5 -.3-.6 -.2-.6 -.1-.5 -.1-.8 -.1-.5 -.1-.7 -.1-.8 0-.7 0-.8 .1-.7 .1-.8 .1-.5 .1-.7 .1-.5 .2-.6 .3-.7 .2-.5 .3-.5 .2-.4 .3-.3 .4-.5 .3-.3 .5-.4 .5-.2 .8-.1 .7 .2 .5 .3 .4 .2 .4 .4 .3 .4 .3 .5 .3 .5 .3 .5 .2 .5 .1 .5 .2 .6 .2 .6 .1 .5 .1 .8 .1 .7 0 .8 0 .7 0 .8 -.1 .7 -.1 .8 -.1 .5 -.1 .7 -.2 .5 -.1 .5 -.3 .7 -.2 .5 -.3 .5 -.2 .4 -.4 .4 -.4 .5 -.4 .3 -.4 .2 -.2 .1z M431.3 90.3l-.7 .1 -.8 0 -.7 0 -.8 0 -.7-.1 -.6-.1 -.7-.1 -.5-.1 -.7-.2 -.8-.1 -.5-.1 -.5-.3 -.5-.3 -.3-.3 -.4-.5 .2-.5 .5-.3 .7-.2 .6-.1 .5-.2 .5-.2 .3-.5 .2-.5 .5-.5 .5-.2 .5-.2 .5-.1 .7-.1 .8 .1 .5 0 .7 .1 .8 .1 .7 0 .8-.1 .7 0 .8 0 .7 .1 .8 0 .5 .1 .7 .1 .8 .1 .5 .1 .6 .2 .6 .1 .5 .1 .8 .2 .6 .1 .6 .1 .8 0 .6 .1 .1 .4 -.3 .4 -.4 .5 0 .4 -.1 .3 -.7 0 -.5 0 -.7-.1 -.8-.1 -.5-.1 -.7-.1 -.8-.1 -.5 0 -.7 0 -.5 0 -.8 .2 -.5 .2 -.4 .4 -.3 .3 -.5 .4 -.4 .3 -.4 .2 -.5 .3 -.7 .2 -.3 .1z M448.7 91.0l.6-.1 .6-.2 .3-.5 -.4-.2 -.7-.1 -.8-.1 -.7 .1 -.8 .1 -.5 .2 .5 .4 .5 .2 .8 .1 .5 .1 .1 0z M425.8 95.0l-.7 .1 -.8 .1 -.7 0 -.8-.2 -.3-.3 .2-.5 .3-.5 .3-.2 .6-.3 .7 0 .5 .1 .7 .1 .5 .2 .5 .3 .4 .3 -.4 .5 -.5 .2 -.5 .1z M447.3 98.8l-.7 .1 -.8 0 -.7 0 -.8 0 -.7-.1 -.6-.1 -.7-.1 -.7-.1 -.5-.1 -.4-.4 .4-.5 .2-.3 .5-.4 .5-.3 .5-.2 .5-.2 .6-.1 .7-.1 .7-.1 .8 0 .7 .1 .5 .1 .7 .2 .5 .3 .3 .4 .1 .6 -.1 .5 -.5 .4 -.5 .2 -.5 .2z M432.1 76.8l-.8 0 -.5-.1 -.7-.2 -.3-.3 .5-.1 .8 0 .5 .2 .5 .2 0 .3z M447.3 99.2l-.7 .1 -.8 0 -.7-.1 -.5 0 -.8 0 -.7-.1 -.8 0 -.7 0 -.8 0 -.7 0 -.8-.1 -.5-.1 -.7-.1 -.5-.1 -.8-.2 -.5-.1 -.7-.1 -.7-.1 -.6 0 -.7-.1 -.8-.1 -.5 0 -.7-.2 -.5-.1 -.8-.2 -.5-.1 -.5-.2 -.6-.2 -.4-.3 -.4-.5 -.3-.3 -.7-.2 -.6 0 -.5 0 -.7 .1 -.8 .1 -.7-.1 -.8 0 -.5-.2 -.5-.1 -.5-.4 -.1-.6 .2-.5 .2-.6 .2-.7 .3-.2 .5-.4 .5-.2 .5-.2 .7-.1 .8 0 .5 .1 .7 .3 .5 .2 .3 .3 .5 .4 .5 .3 .5 .2 .5 .1 .7 0 .6 0 .7-.1 .7-.2 .5-.1 .5-.2 .5-.3 0-.4 -.5-.3 -.7-.1 -.5-.1 -.8-.1 -.5-.1 -.7-.2 -.5-.1 -.8-.1 -.7-.1 -.5-.1 -.8 0 -.7 0 -.8 0 -.7-.1 -.5-.1 -.7-.2 -.6-.3 -.5-.2 -.5-.3 -.4-.2 -.3-.4 -.2-.6 .2-.5 .4-.5 .4-.3 .5-.2 .7-.3 .5-.1 .5-.3 .4-.3 .3-.5 .3-.4 .5-.3 .5-.2 .5-.2 .7-.2 .5-.1 .7-.1 .6-.2 .5-.2 .1-.6 -.4-.5 -.3-.3 -.4-.5 .5-.4 .5-.1 .7-.1 .8-.1 .7 0 .8 0 .5 0 .7-.1 .8 0 .6-.2 .5-.2 .3-.5 -.3-.5 -.4-.3 -.5-.4 -.4-.3 -.1-.3 .5-.4 .5-.1 .8-.1 .7 0 .8 0 .7 0 .8 .1 .7 0 .8 0 .7-.1 .5-.2 .8-.1 .5-.1 .7-.1 .7-.1 .6-.1 .7-.1 .5-.1 .8-.1 .7 0 .8 0 .7 .1 .6 0 .7 .1 .7 .1 .5 .1 .8 .2 0 .4 -.5 .2 -.5 .2 -.7 .2 -.6 .2 -.5 .2 -.6 .1 -.6 .2 -.5 .3 0 .4 .5 .2 .5 .2 .5 .3 .6 .2 .6 .1 .8 0 .7-.1 .5-.1 .8-.1 .5-.1 .7-.1 .8 0 .7-.1 .8 0 .7 0 .8 .1 .5 .1 .7 .2 .5 .2 .6 .1 .7 .2 .5 .1 .7 .2 .5 .2 .5 .1 .7 .2 .6 .3 .5 .2 .5 .3 .4 .2 .4 .3 .4 .3 .5 .4 .3 .3 .4 .5 .3 .4 .3 .4 .2 .4 .3 .5 .2 .7 .2 .6 .1 .5 .1 .7 0 .8 -.1 .7 -.1 .5 -.2 .5 -.2 .6 -.3 .5 -.2 .4 -.4 .5 -.4 .5 -.2 .3 -.5 .5 -.3 .2 -.5 .4 -.5 .3 -.5 .3 -.5 .2 -.5 .2 -.5 .2 -.5 .2 -.7 .1 -.5 .1 -.8 .2 -.7 0 -.8 0 -.7 0 -.8 0 -.7-.1 -.6-.1 -.7-.1 -.7 0 -.6-.1 -.7-.1 -.7-.1 -.5-.1 -.8-.2 -.5-.1 -.3-.4 -.4-.3 -.8-.1 -.7 0 -.3 .2 .5 .3 .5 .2 .8 .1 .3 .3 -.3 .5 -.3 .3 -.5 .4 -.2 .3 -.4 .5 -.4 .3 -.5 .3 -.5 .2 -.7 .2 -.3 0z M441.9 79.2l-.6 0 .3 .1 .3-.1z M426.8 80.7l-.7 .1 -.8-.1 -.5 0 -.7-.1 -.8-.1 -.5-.1 -.5-.3 .1-.4 .5-.2 .7-.2 .7 0 .8 0 .7 0 .8 .1 .5 .2 .5 .3 0 .5 -.5 .3 -.3 0z M487.6 99.3l-.8 0 -.5-.1 -.6-.2 -.4-.3 -.5-.4 -.3-.3 -.4-.5 -.3-.5 -.2-.4 -.3-.5 -.2-.6 -.2-.5 -.2-.5 -.1-.7 -.1-.6 -.2-.7 0-.5 -.1-.8 0-.7 -.1-.8 .1-.7 0-.8 .1-.7 .1-.5 .2-.8 .1-.5 .1-.5 .3-.7 .2-.5 .2-.5 .3-.5 .3-.4 .2-.4 .5-.5 .3-.3 .5-.3 .5-.3 .5-.1 .7 0 .5 .1 .5 .2 .5 .4 .4 .3 .4 .4 .2 .4 .3 .5 .3 .5 .2 .5 .2 .5 .3 .7 .1 .5 .2 .5 .1 .8 .1 .5 .1 .7 0 .8 .1 .7 0 .8 -.1 .7 0 .8 -.1 .6 -.1 .6 -.2 .7 -.1 .6 -.2 .5 -.2 .6 -.2 .6 -.3 .5 -.2 .4 -.3 .4 -.3 .5 -.4 .4 -.4 .3 -.4 .3 -.6 .2 -.1 .1z M436.5 90.0l.6-.3 0-.2 -.8-.1 -.6 .1 -.4 .2 .3 .4 .7-.1 .2 0z M448.6 99.5l-.8 .2 -.7 0 -.8 0 -.7-.1 -.8 0 -.7-.1 -.7 0 -.6 0 -.5 0 -.7 0 -.8 0 -.7 .1 -.8-.1 -.5 0 -.7-.1 -.7-.2 -.6-.1 -.5-.1 -.7-.1 -.8-.1 -.5-.1 -.7 0 -.8-.1 -.7 0 -.8-.1 -.5-.1 -.6-.2 -.6-.2 -.5-.2 -.5-.1 -.8-.1 -.5-.1 -.7-.1 -.8-.1 -.6-.1 -.6-.2 -.5-.2 -.5-.2 -.5-.2 -.6-.2 -.7-.2 -.5-.2 -.5-.3 -.4-.3 -.3-.5 .2-.7 .1-.5 .2-.7 .2-.4 .4-.4 .4-.4 .1-.6 -.4-.4 -.5-.3 -.5-.3 -.3-.3 -.4-.4 -.2-.6 .2-.5 .2-.5 .5-.5 .3-.2 .5-.4 .5-.3 .2-.3 .3-.6 .5-.4 .5-.2 .5-.3 .5-.3 .4-.2 .5-.3 .3-.2 .4-.5 -.3-.5 -.3-.4 -.4-.4 -.4-.2 -.6-.3 -.6-.1 -.6-.1 -.7-.2 -.5-.1 -.5-.3 0-.6 .5-.3 .5-.3 .5-.2 .5-.1 .8-.1 .7-.1 .5 0 .8 0 .7 0 .5 0 .8 .1 .7 .1 .5 .2 .5 .3 .5 .3 .5 .3 .5 .1 .8 .1 .7 0 .8-.2 0-.5 -.4-.3 -.6-.2 -.5-.1 -.8-.1 -.5-.1 -.6-.2 -.4-.3 -.5-.5 -.2-.3 -.5-.3 -.5-.4 -.4-.2 -.4-.3 -.3-.5 .2-.5 .6-.2 .5-.1 .8-.1 .7 .1 .8 .1 .5 .1 .6 .1 .6 .2 .5 .2 .5 .2 .7 .2 .6 .1 .5 .2 .7 .2 .5 .1 .8 .1 .5 0 .7 .1 .8 .1 .7 0 .8 0 .7-.1 .8 0 .5-.1 .7-.1 .8-.1 .5-.1 .7-.2 .5-.1 .8-.1 .7 0 .8 0 .7 .1 .8 .1 .6 0 .6 .1 .8 0 .7 .1 .8 0 .7 0 .8 0 .5 .1 .7 .1 .5 .3 .5 .3 .1 .5 .2 .5 .5 .3 .7 .2 .5 .1 .5 .2 .5 .2 .6 .3 .6 .2 .6 .2 .5 .2 .5 .1 .7 .2 .5 .2 .5 .2 .6 .2 .6 .2 .5 .3 .5 .2 .4 .3 .4 .3 .5 .3 .5 .4 .3 .3 .4 .4 .3 .4 .4 .4 .3 .5 .3 .5 .2 .5 .3 .5 .1 .5 .2 .6 .1 .6 0 .8 0 .7 -.1 .8 -.1 .5 -.2 .5 -.2 .6 -.3 .5 -.2 .4 -.4 .5 -.4 .5 -.2 .3 -.5 .4 -.3 .3 -.5 .4 -.4 .3 -.4 .3 -.5 .2 -.4 .3 -.6 .2 -.7 .3 -.5 .1 -.5 .2 -.7 .2 -.5 .1 -.8 .1 -.6 0 -.6 .1 -.8 0 -.7 0 -.8 0 -.7 0 -.8 0 -.7 .1 -.8 0 -.7 0 -.8 0 -.7 0 -.6 .1 -.7 .2 -.5 .3 -.4 .2 -.4 .3 -.5 .2 -.7 .3 -.2 0z M487.3 100.0l-.7 0 -.5-.1 -.5-.2 -.5-.4 -.4-.3 -.4-.4 -.3-.4 -.3-.5 -.3-.5 -.3-.5 -.2-.5 -.2-.5 -.2-.5 -.2-.7 -.1-.5 -.1-.7 -.1-.6 -.1-.7 -.1-.5 0-.8 0-.7 0-.8 0-.7 .1-.5 .1-.8 .1-.6 .1-.6 .1-.5 .3-.8 .1-.5 .2-.5 .3-.5 .2-.5 .3-.5 .4-.5 .2-.3 .4-.4 .4-.3 .5-.4 .5-.2 .7-.1 .4 0 .6 .1 .5 .2 .5 .3 .4 .4 .4 .3 .3 .4 .3 .5 .3 .5 .3 .5 .2 .5 .2 .5 .2 .5 .2 .8 .1 .5 .1 .6 .1 .6 .1 .8 .1 .6 0 .6 0 .8 0 .7 0 .7 -.1 .6 -.1 .7 -.1 .7 -.1 .6 -.1 .5 -.2 .7 -.2 .5 -.2 .5 -.2 .5 -.3 .5 -.2 .5 -.4 .5 -.3 .5 -.3 .3 -.5 .4 -.5 .3 -.5 .2 -.5 .1z M449.3 100.0l-.7 .1 -.8 .1 -.7 0 -.8 0 -.7-.1 -.8-.1 -.5-.1 -.7 0 -.8 0 -.7 0 -.8 .1 -.5 0 -.7 0 -.8 0 -.5 0 -.7-.1 -.8-.1 -.5-.2 -.7-.1 -.5-.1 -.8-.1 -.5-.1 -.7 0 -.6 0 -.7 .1 -.7 .2 -.5 .2 -.5 .2 -.5 .1 -.8 0 -.5 0 -.7-.2 -.5-.2 -.4-.4 .2-.5 -.3-.3 -.8-.1 -.5-.1 -.7-.1 -.8-.1 -.5-.1 -.5-.3 -.5-.3 -.4-.3 -.3-.3 -.5-.3 -.5-.2 -.5-.3 -.5-.3 -.5-.4 -.3-.3 -.1-.7 .1-.7 .1-.5 .3-.5 .4-.5 .2-.4 .1-.6 -.3-.4 -.5-.4 -.4-.2 -.4-.4 -.2-.6 .2-.8 .2-.5 .3-.5 .3-.4 .2-.6 -.4-.5 -.3-.5 .5-.3 .5-.2 .7-.2 .5-.1 .5-.2 .5-.2 .5-.3 .4-.5 -.1-.7 -.3-.3 -.5-.4 -.5-.2 -.5-.1 -.7-.2 -.5-.1 -.5-.2 -.5-.5 0-.3 .5-.4 .4-.3 .4-.3 .6-.2 .6-.3 .5-.1 .5-.2 .7-.2 .5-.1 .6-.1 .6-.3 .3-.4 0-.3 -.3-.5 -.4-.5 -.3-.4 -.2-.5 0-.4 .4-.5 .5-.2 .6-.2 .5-.2 .5-.1 .7-.2 .8 0 .7 .1 .5 .2 .5 .1 .8 .3 .5 .2 .5 .2 .5 .3 .5 .2 .5 .3 .5 .2 .5 .2 .5 .1 .7 .2 .5 .1 .8 .1 .7 .1 .8 0 .7 0 .8 0 .7 0 .8-.1 .7-.1 .5-.1 .8-.2 .5-.1 .5-.1 .7-.2 .8 0 .7 0 .8 .1 .5 .1 .7 .1 .8 .1 .5 0 .7 .1 .8 .1 .7 0 .8-.1 .7 0 .8 0 .7 0 .8 0 .5 .2 .6 .2 .4 .3 .5 .4 .3 .3 .4 .4 .5 .3 .5 .3 .5 .2 .5 .3 .5 .2 .5 .2 .5 .2 .6 .2 .7 .2 .5 .1 .5 .2 .6 .2 .6 .3 .5 .2 .5 .3 .4 .2 .4 .3 .5 .3 .5 .4 .4 .3 .3 .3 .4 .4 .4 .4 .3 .4 .4 .5 .3 .4 .2 .5 .3 .5 .2 .5 .2 .6 .1 .5 .2 .7 0 .8 0 .7 -.1 .8 -.1 .5 -.3 .7 -.2 .5 -.2 .5 -.3 .5 -.3 .4 -.3 .4 -.4 .5 -.3 .3 -.4 .4 -.3 .3 -.5 .4 -.5 .3 -.4 .3 -.5 .2 -.4 .3 -.6 .2 -.6 .3 -.5 .2 -.5 .1 -.5 .2 -.8 .2 -.5 .1 -.7 .1 -.8 .1 -.5 0 -.7 .1 -.8 0 -.7 0 -.8 .1 -.5 0 -.7 .1 -.8 .1 -.7 0 -.8 0 -.7 .1 -.5 0 -.8 .1 -.5 .2 -.5 .2 -.6 .2 -.6 .2 -.3 .1z M487.8 100.5l-.7 .1 -.8 0 -.5-.2 -.5-.3 -.5-.3 -.3-.3 -.4-.5 -.3-.3 -.3-.5 -.3-.5 -.3-.5 -.2-.5 -.2-.5 -.2-.5 -.2-.7 -.1-.5 -.2-.6 -.1-.7 -.1-.7 -.1-.5 0-.8 -.1-.7 0-.8 0-.7 .1-.8 .1-.6 .1-.6 .1-.8 .1-.5 .2-.6 .1-.6 .2-.5 .2-.5 .2-.5 .3-.5 .3-.5 .3-.5 .4-.5 .2-.3 .5-.5 .4-.2 .4-.3 .6-.2 .6-.1 .8 0 .5 .2 .5 .2 .5 .4 .3 .3 .4 .4 .3 .4 .3 .4 .3 .5 .3 .5 .2 .5 .2 .5 .2 .6 .2 .7 .1 .5 .2 .7 .1 .5 .1 .8 0 .5 .1 .7 0 .8 0 .7 0 .8 0 .7 -.1 .5 -.1 .8 -.1 .7 -.1 .5 -.2 .7 -.1 .6 -.2 .5 -.2 .5 -.2 .5 -.3 .5 -.2 .5 -.3 .5 -.4 .5 -.3 .3 -.4 .4 -.4 .3 -.5 .3 -.5 .2z M432.8 100.7l-.7 .2 -.8 0 -.7-.1 -.8 0 -.5-.1 -.7-.1 -.5-.1 -.8-.2 -.5-.1 -.7-.1 -.5-.2 -.8-.2 -.5-.2 -.4-.3 -.3-.3 -.5-.3 -.5-.3 -.4-.3 -.4-.3 -.4-.5 -.3-.3 -.5-.4 -.4-.3 -.4-.2 -.5-.3 -.5-.4 -.2-.4 -.3-.7 0-.5 0-.5 .3-.5 .3-.5 .3-.5 0-.7 -.4-.5 -.3-.3 -.4-.4 -.3-.6 .2-.7 .1-.5 .2-.7 .2-.6 -.2-.5 -.5-.5 -.1-.5 .4-.4 .5-.3 .4-.3 .4-.2 -.1-.5 -.5-.3 -.5-.2 -.4-.5 .3-.5 -.1-.8 -.2-.5 .2-.6 .2-.4 .5-.3 .5-.3 .5-.3 .5-.2 .5-.3 .5-.2 .5-.2 .5-.3 .5-.4 .3-.3 0-.7 -.3-.4 -.2-.3 -.3-.8 .3-.5 .5-.3 .5-.3 .5-.2 .5-.2 .7-.2 .5-.1 .5-.2 .8-.2 .5-.1 .7-.2 .3 0 .7 .1 .7 .2 .5 .2 .6 .3 .5 .2 .5 .2 .5 .2 .5 .3 .4 .3 .3 .3 .5 .4 .5 .2 .5 .2 .8 .1 .5 .1 .7 0 .8 0 .7 0 .5 0 .8-.1 .7-.2 .5-.1 .5-.1 .7-.3 .6-.2 .5-.2 .5-.1 .7 0 .8 0 .5 .1 .7 .2 .5 .1 .5 .2 .8 .1 .5 .1 .7 .1 .8 .1 .5 0 .5 0 .7-.1 .7-.1 .6-.2 .7-.1 .8 .1 .7 .1 .5 .1 .6 .2 .5 .3 .4 .4 .4 .3 .4 .5 .3 .3 .4 .3 .5 .3 .5 .3 .5 .2 .5 .2 .5 .2 .8 .2 .5 .2 .5 .1 .6 .2 .6 .2 .5 .2 .5 .2 .5 .2 .5 .3 .5 .3 .5 .4 .4 .2 .4 .3 .5 .4 .4 .3 .3 .4 .4 .4 .4 .3 .3 .4 .4 .5 .3 .4 .2 .4 .3 .5 .3 .5 .2 .5 .2 .6 .2 .6 .1 .5 .1 .8 0 .7 -.1 .7 -.2 .6 -.1 .5 -.2 .5 -.3 .5 -.2 .5 -.3 .5 -.4 .5 -.3 .3 -.4 .4 -.4 .4 -.4 .4 -.3 .3 -.5 .4 -.5 .3 -.3 .2 -.5 .3 -.5 .3 -.5 .2 -.5 .3 -.5 .2 -.7 .2 -.5 .2 -.5 .1 -.7 .2 -.6 .1 -.7 .2 -.5 .1 -.8 0 -.7 .1 -.5 0 -.8 .1 -.7 0 -.8 .1 -.5 .1 -.7 .1 -.5 .1 -.8 .2 -.7 .1 -.5 0 -.8 .1 -.7 0 -.6 .1 -.7 .1 -.7 .1 -.6 .1 -.7 .1 -.7 0 -.8 .1 -.7 0 -.8-.1 -.7 0 -.8-.1 -.5-.1 -.7 0 -.8 0 -.5 .1 -.7 0 -.8 0 -.7 0 -.8 0 -.5-.1 -.7 0 -.8-.1 -.7-.1 -.5 0 -.8 0 -.5 0 -.7 .3 -.5 .2 -.3 0z M487.8 101.0l-.7 .2 -.8-.1 -.5-.2 -.5-.2 -.5-.3 -.4-.4 -.3-.4 -.4-.4 -.3-.5 -.3-.4 -.3-.5 -.2-.5 -.3-.6 -.2-.5 -.1-.5 -.2-.5 -.2-.7 -.1-.5 -.2-.8 0-.5 -.1-.7 -.1-.8 0-.7 0-.8 0-.7 0-.8 .1-.7 .1-.6 .1-.7 .2-.6 .1-.6 .2-.5 .2-.6 .2-.6 .3-.6 .2-.5 .3-.5 .2-.4 .3-.3 .4-.5 .3-.4 .4-.4 .4-.2 .5-.3 .5-.2 .7-.2 .8 .1 .5 .2 .5 .2 .5 .3 .4 .4 .3 .3 .4 .4 .3 .5 .3 .5 .3 .5 .2 .5 .2 .5 .2 .5 .2 .5 .2 .7 .1 .6 .1 .5 .2 .7 .1 .8 0 .5 .1 .7 0 .8 0 .7 0 .8 -.1 .7 0 .6 -.1 .7 -.1 .7 -.1 .5 -.2 .8 -.1 .5 -.2 .5 -.2 .6 -.3 .6 -.2 .5 -.3 .5 -.2 .5 -.3 .3 -.3 .5 -.4 .4 -.3 .3 -.5 .4 -.5 .2 -.5 .2z M433.6 101.3l-.8 .1 -.7 .1 -.8-.1 -.7 0 -.8-.2 -.5 0 -.7-.2 -.5-.1 -.8-.2 -.5 0 -.7-.2 -.5 0 -.8-.1 -.7-.1 -.5-.1 -.7-.2 -.5-.3 -.4-.2 -.4-.5 -.3-.4 -.3-.4 -.4-.4 -.3-.4 -.3-.4 -.4-.5 -.3-.3 -.5-.3 -.5-.4 -.2-.3 -.4-.5 -.2-.5 -.1-.7 .1-.8 .3-.5 .3-.5 0-.5 -.2-.5 -.3-.4 -.3-.3 -.2-.8 .1-.7 .1-.5 .1-.8 -.1-.6 -.2-.4 -.4-.5 .1-.7 .3-.3 .5-.4 .1-.6 -.4-.3 -.5-.4 -.2-.3 0-.5 .2-.5 .1-.7 0-.8 .2-.5 .5-.4 .5-.3 .5-.2 .4-.3 .4-.3 .4-.4 .5-.3 .3-.3 .4-.5 .1-.5 -.3-.5 -.2-.5 .2-.7 .3-.4 .4-.4 .5-.2 .5-.3 .6-.2 .5-.1 .5-.2 .7-.2 .5-.1 .5-.2 .8-.2 .5-.2 .5-.1 .7-.1 .8-.1 .7 .1 .8 0 .7 0 .5 .1 .5 .3 .5 .3 .5 .3 .5 .1 .8 .2 .7 0 .8-.1 .7 0 .8 0 .7 .1 .8 0 .5 .1 .7 .1 .8 .1 .5 0 .7 .1 .8 .1 .7 0 .8-.1 .7 0 .8-.1 .5-.1 .5-.2 .4-.4 .3-.5 .5-.2 .5-.1 .8-.1 .7 0 .8 0 .7 .1 .5 .1 .8 .2 .5 .1 .5 .2 .5 .3 .5 .3 .4 .3 .3 .3 .5 .3 .5 .3 .5 .2 .5 .3 .5 .3 .4 .3 .3 .5 .3 .5 .3 .3 .5 .4 .5 .3 .5 .2 .5 .2 .5 .2 .6 .2 .6 .1 .5 .2 .6 .2 .7 .2 .5 .1 .5 .2 .5 .2 .5 .3 .5 .2 .5 .3 .5 .3 .5 .4 .3 .3 .4 .3 .5 .4 .3 .3 .5 .3 .4 .4 .3 .3 .5 .5 .3 .3 .4 .4 .3 .4 .4 .4 .3 .5 .3 .4 .3 .4 .2 .5 .3 .5 .2 .7 .2 .5 .1 .7 0 .8 -.2 .7 -.1 .5 -.2 .6 -.3 .5 -.3 .4 -.3 .5 -.4 .4 -.3 .4 -.4 .4 -.4 .3 -.4 .3 -.5 .4 -.4 .3 -.3 .3 -.5 .3 -.5 .3 -.5 .3 -.5 .3 -.5 .3 -.4 .2 -.6 .3 -.5 .2 -.5 .2 -.5 .2 -.5 .2 -.6 .2 -.7 .2 -.5 .1 -.7 .1 -.5 .1 -.8 .1 -.7 .1 -.5 .1 -.8 0 -.7 .1 -.6 .1 -.7 .1 -.5 .1 -.7 .2 -.5 .1 -.8 .2 -.5 .1 -.7 0 -.8 .1 -.7 0 -.8 0 -.7 0 -.8 0 -.7 0 -.7 .1 -.6 0 -.7 .1 -.8 0 -.7 0 -.8 0 -.7 0 -.8 0 -.7 0 -.8 0 -.7 0 -.8 0 -.7 0 -.8-.1 -.6 0 -.6-.1 -.8 0 -.7 0 -.8 0 -.6 .1 -.6 .1 -.8 .1 -.2 .1z M487.8 101.5l-.7 .1 -.8 0 -.5-.2 -.5-.2 -.5-.3 -.5-.4 -.2-.3 -.5-.5 -.3-.4 -.2-.4 -.3-.4 -.3-.5 -.2-.5 -.2-.5 -.3-.6 -.2-.7 -.2-.5 -.1-.5 -.2-.7 -.1-.5 -.1-.8 -.1-.5 -.1-.7 0-.8 0-.7 0-.8 0-.7 .1-.8 .1-.5 .1-.7 .1-.5 .2-.8 .1-.5 .2-.5 .2-.6 .3-.6 .2-.5 .2-.5 .3-.5 .3-.5 .2-.3 .4-.5 .4-.4 .3-.3 .4-.4 .5-.3 .5-.2 .5-.2 .8 0 .7 .1 .5 .2 .5 .2 .4 .3 .4 .3 .4 .5 .3 .4 .3 .3 .3 .5 .3 .5 .2 .5 .2 .5 .2 .5 .3 .7 .1 .6 .2 .5 .1 .7 .1 .5 .1 .8 .1 .7 .1 .5 0 .8 .1 .7 0 .8 -.1 .7 0 .8 -.1 .5 -.1 .7 -.1 .8 -.1 .5 -.2 .7 -.1 .5 -.2 .5 -.2 .6 -.2 .6 -.3 .6 -.2 .5 -.3 .4 -.2 .4 -.3 .4 -.5 .5 -.2 .3 -.5 .4 -.5 .3 -.5 .2 -.3 .1z M487.8 102.0l-.7 .1 -.8 0 -.5-.2 -.5-.2 -.5-.3 -.5-.4 -.3-.3 -.4-.4 -.3-.3 -.3-.5 -.4-.5 -.2-.5 -.3-.5 -.3-.5 -.2-.5 -.2-.5 -.2-.5 -.2-.5 -.2-.7 -.2-.6 -.1-.5 -.2-.5 -.2-.7 -.2-.5 -.3-.5 -.4 .5 -.3 .5 -.3 .4 -.3 .4 -.3 .4 -.4 .5 -.3 .3 -.5 .4 -.4 .3 -.3 .3 -.5 .3 -.5 .3 -.5 .2 -.5 .2 -.5 .2 -.8 .3 -.5 .1 -.5 .2 -.5 .2 -.7 .2 -.5 .2 -.5 .2 -.5 .2 -.5 .2 -.6 .2 -.7 .3 -.5 .2 -.5 .1 -.5 .2 -.7 .2 -.5 .1 -.8 .2 -.5 .1 -.7 .1 -.5 .1 -.8 .1 -.7 0 -.5 .1 -.8 .1 -.6 .1 -.6 .2 -.6 .1 -.7 .1 -.7 .1 -.5 .1 -.8 .1 -.7 0 -.8 0 -.7 0 -.8 0 -.7 0 -.8 0 -.7 0 -.8 0 -.7 0 -.5 .1 -.8 0 -.7 .1 -.8 0 -.7 .1 -.8 0 -.7 0 -.8 0 -.7 0 -.8 0 -.7-.1 -.8 0 -.7-.1 -.5-.1 -.8 0 -.7 0 -.8 0 -.5 .1 -.7 .1 -.8 .1 -.5 .1 -.7 .1 -.8 0 -.7-.1 -.8 0 -.5-.1 -.7-.2 -.5-.1 -.8-.2 -.5 0 -.7-.2 -.5-.1 -.8 0 -.7-.1 -.5-.1 -.8-.1 -.6-.1 -.6-.2 -.5-.2 -.5-.3 -.4-.3 -.4-.4 -.3-.4 -.4-.5 -.3-.4 -.2-.6 -.2-.5 -.3-.3 -.5-.4 -.3-.3 -.4-.5 -.3-.4 -.3-.5 -.2-.6 -.1-.5 .1-.6 .2-.6 .1-.5 -.1-.6 -.2-.5 -.3-.7 .1-.7 .2-.8 -.1-.7 -.1-.8 -.3-.5 -.2-.5 .1-.7 .3-.4 .3-.4 0-.5 -.5-.5 -.3-.2 -.2-.5 .1-.5 .3-.5 .1-.5 0-.5 0-.5 .1-.8 .3-.5 .3-.3 .5-.4 .3-.3 .3-.5 .3-.5 .1-.6 .1-.6 .2-.8 .2-.3 .3-.4 .4-.5 .3-.3 .5-.3 .6-.2 .7-.2 .5-.1 .6-.2 .6-.2 .5-.1 .5-.2 .8-.2 .5-.1 .7-.1 .5-.1 .8-.2 .5-.2 .7-.1 .5 0 .8 0 .7 0 .5 .1 .8 0 .7 .1 .8 .1 .5 0 .7 .1 .7 .1 .4 .3 .4 .2 .5 .3 .8 .2 .5 .1 .7 .1 .8 .1 .5 0 .7 0 .8 .1 .7 0 .8 .1 .7-.1 .7-.1 .4-.3 -.1-.5 0-.5 .8-.2 .5 0 .7 0 .8-.1 .7 0 .8 0 .7 0 .8 0 .7 0 .8 .1 .5 0 .7 .1 .5 .1 .7 .3 .6 .2 .5 .2 .5 .3 .4 .3 .4 .2 .4 .4 .4 .4 .4 .2 .5 .3 .5 .3 .5 .4 .3 .3 .4 .5 .3 .4 .4 .3 .3 .3 .5 .2 .6 .3 .7 .2 .5 .1 .5 .2 .7 .1 .5 .2 .7 .2 .6 .1 .5 .2 .5 .2 .5 .2 .5 .3 .5 .2 .5 .3 .6 .2 .4 .3 .3 .5 .4 .3 .5 .4 .5 .3 .4 .2 .4 .3 .5 .3 .5 .3 .5 .3 .5 .3 .4 .3 .4 .2 .4 .4 .5 .4 .3 .3 .4 .4 .3 .4 .3 .4 .4 .5 .3 .5 .3 .4 .2 .5 .5 .1 .2-.5 .2-.5 .2-.5 .2-.7 .2-.6 .1-.5 .2-.5 .2-.5 .3-.6 .2-.6 .3-.5 .2-.5 .3-.4 .2-.4 .4-.5 .4-.5 .2-.3 .5-.4 .3-.3 .5-.3 .5-.2 .6-.2 .6-.1 .8 0 .5 .2 .5 .2 .5 .3 .4 .4 .3 .2 .5 .5 .3 .4 .2 .4 .3 .5 .3 .5 .2 .5 .2 .5 .3 .6 .2 .6 .1 .5 .2 .6 .1 .7 .1 .5 .2 .7 .1 .8 0 .5 .1 .7 0 .8 0 .7 0 .8 -.1 .7 0 .6 -.1 .7 -.1 .7 -.1 .5 -.2 .8 -.1 .5 -.2 .6 -.2 .6 -.1 .5 -.2 .5 -.3 .5 -.2 .5 -.3 .5 -.3 .5 -.4 .5 -.2 .3 -.5 .5 -.3 .2 -.5 .4 -.5 .2 -.5 .2z M412.8 39.1l.3 .4 .5 .3 .5 .4 .4 .3 .3 .3 .3 .4 .2 .6 .3 .6 .2 .6 0 .3 -.5 .3 -.5 .4 -.2 .4 -.1 .6 0 .7 -.2 .6 -.2 .5 -.1 .7 .1 .5 .4 .5 .3 .2 .7 .3 .6 .1 .4 .4 -.2 .7 -.2 .3 -.8 .1 -.7 0 -.5 .1 -.3 .5 .1 .5 .2 .5 .2 .8 -.3 .5 -.4 .3 -.5 .3 -.3 .1 M416.8 54.7l-.5 0 -.5-.4 -.2-.3 -.4-.5 .1-.8 .3-.5 .2-.3 .4-.2 .4 .3 .3 .5 .1 .7 .1 .8 -.3 .7z M412.8 56.0l.6 .2 .5 .3 .4 .4 .3 .5 .2 .6 .3 .5 .2 .2 .4 .5 -.1 .6 -.4 .4 -.4 .5 0 .5 .1 .5 .1 .8 -.3 .5 -.2 .5 .2 .5 .4 .5 .1 .5 -.1 .7 -.3 .3 -.3 .5 0 .7 .1 .6 .2 .7 .2 .5 .3 .4 -.2 .3 -.3 .3 -.2 .6 -.2 .6 -.3 .5 -.3 .3 -.5 .2 -.5 .2 M418.3 68.3l-.7 0 -.5-.2 -.2-.6 .4-.3 .6 0 .5 .3 .2 .5 -.3 .3z M487.6 102.5l-.8 .1 -.7-.1 -.5-.2 -.5-.2 -.5-.3 -.4-.3 -.4-.4 -.4-.4 -.3-.4 -.3-.3 -.4-.5 -.3-.5 -.3-.5 -.2-.4 -.3-.4 -.3-.5 -.4-.5 -.4-.2 -.4 0 -.5 .2 -.5 .3 -.5 .2 -.5 .3 -.5 .3 -.5 .2 -.5 .2 -.6 .3 -.6 .2 -.5 .1 -.7 .2 -.6 .1 -.7 0 -.8 .1 -.5 0 -.7 .1 -.8 .1 -.5 .1 -.7 .1 -.5 .1 -.8 .2 -.5 .1 -.7 .2 -.5 .1 -.8 .2 -.5 .1 -.7 .1 -.5 .1 -.8 .1 -.5 .1 -.7 .1 -.8 .1 -.5 .1 -.7 .1 -.5 .1 -.8 .2 -.5 0 -.7 .1 -.8 .1 -.7 0 -.8 0 -.7 0 -.8 0 -.7-.1 -.8 0 -.7 0 -.8 0 -.7 0 -.8 0 -.7 .1 -.8 .1 -.5 0 -.7 .1 -.8 0 -.7 0 -.8 .1 -.7 0 -.8 0 -.7 0 -.8 0 -.7 0 -.8-.1 -.7 0 -.8-.1 -.5 0 -.7 0 -.5 0 -.8 .1 -.7 0 -.8 .1 -.7 0 -.8 0 -.7 0 -.8-.1 -.7-.1 -.5-.1 -.8-.1 -.5-.1 -.7-.2 -.5 0 -.8-.1 -.7-.1 -.6-.1 -.7 0 -.7-.2 -.5-.1 -.7-.2 -.6-.2 -.5-.2 -.5-.3 -.4-.3 -.4-.2 -.4-.4 -.4-.4 -.3-.5 -.2-.5 -.1-.5 -.3-.6 -.3-.4 -.4-.4 -.3-.3 -.3-.5 -.3-.5 -.3-.5 -.2-.5 -.1-.8 .2-.6 .1-.6 -.1-.5 -.2-.7 -.1-.6 .1-.5 .2-.7 -.1-.8 -.1-.6 -.2-.6 -.2-.5 0-.8 .3-.5 .3-.5 -.2-.6 -.4-.4 -.4-.5 0-.4 .3-.5 .2-.6 0-.4 0-.6 0-.5 .2-.7 -.2-.6 -.3-.4 -.4-.4 -.3-.4 0-.7 .3-.4 .2-.6 .1-.5 .4-.5 .4-.3 .4-.2 .4-.5 .2-.5 -.1-.8 -.2-.5 -.3-.5 -.3-.4 -.2-.6 -.2-.5 .7-.1 .7-.1 .8 .1 .5 .2 .7 .2 .5 0 .8 0 .7 0 .5-.1 .5-.2 .6-.2 .6-.3 .3-.2 .5-.3 .5-.2 .8-.3 .5-.2 .5-.2 .5-.2 .7-.1 .8 .1 .5 .1 .7 .2 .5 .1 .6 .2 .7 .2 .5 .2 .5 .1 .7 .1 .8 0 .7 0 .6-.1 .7-.1 .7 0 .8 0 .7 0 .8-.1 .7 0 .5-.1 .8-.1 .5-.1 .7-.2 .5-.2 .8 0 .7 .1 .6 .1 .6 .2 .5 .3 .3 .2 .4 .5 .4 .4 .5 .2 .6 .2 .6 0 .8 0 .7 0 .8 .1 .7 0 .8-.1 .5-.1 .7 0 .5 .1 .8 .2 .5 .3 .5 .2 .5 .2 .5 .1 .6 .2 .5 .3 .4 .3 .3 .4 .4 .5 .3 .3 .5 .4 .5 .3 .4 .3 .4 .2 .4 .3 .5 .3 .5 .3 .5 .4 .4 .2 .5 .3 .6 .2 .5 .2 .5 .2 .5 .1 .8 .2 .5 .2 .5 .2 .7 .2 .5 .1 .8 .1 .5 .1 .5 .2 .5 .3 .5 .3 .5 .4 .3 .2 .4 .4 .5 .3 .5 .2 .5 .2 .5 .2 .5 .2 .6 .3 .5 .2 .5 .3 .4 .2 .5 .3 .5 .3 .5 .3 .5 .3 .5 .2 .8 0 .3-.4 .4-.5 .3-.4 .2-.4 .3-.4 .3-.5 .4-.5 .3-.4 .3-.4 .4-.4 .4-.3 .4-.3 .5-.3 .5-.2 .6-.2 .6-.1 .8 .1 .5 .1 .5 .2 .5 .3 .4 .4 .3 .2 .5 .5 .3 .4 .3 .4 .3 .5 .3 .5 .2 .5 .3 .5 .2 .5 .1 .5 .3 .7 .1 .5 .1 .5 .2 .8 .1 .5 .1 .7 .1 .8 .1 .5 0 .7 0 .8 0 .7 0 .8 0 .7 -.1 .6 0 .7 -.2 .7 0 .5 -.2 .8 -.1 .5 -.2 .7 -.2 .5 -.1 .5 -.2 .5 -.3 .6 -.2 .5 -.3 .5 -.2 .4 -.4 .5 -.4 .5 -.2 .3 -.5 .5 -.3 .2 -.5 .3 -.5 .3 -.5 .2 -.2 0z M440.6 71.5l-.3-.4 -.6 .1 .4 .3 .5 0z M412.8 35.0l.2 .5 .3 .4 .3 .3 .4 .5 .3 .5 .3 .5 .2 .3 .4 .5 .4 .3 .4 .4 .3 .5 .2 .5 .3 .5 .4 .3 .4 .2 .5 .3 .5 .3 .4 .4 .3 .5 .3 .3 .2 .6 .2 .6 .1 .5 .4 .5 .3 .4 .5 .4 .3 .2 .5 .4 .2 .4 .3 .5 .1 .7 -.1 .6 -.3 .6 -.2 .6 -.1 .5 -.3 .5 -.4 .4 -.5 .2 -.5 .1 -.5 .3 0 .7 .5 .2 .5 .2 .5 .3 .4 .3 .3 .5 -.1 .8 -.2 .5 0 .7 0 .8 -.1 .6 -.2 .6 -.3 .5 -.2 .5 0 .8 .2 .5 .2 .7 .1 .5 .1 .8 .3 .5 .3 .3 .5 .4 .2 .3 .5 .5 .3 .3 .2 .6 .2 .6 .3 .2 .5 0 .5-.2 .5-.4 .5-.3 .5-.2 .5-.3 .5-.3 .3-.4 .2-.6 -.5-.4 -.7 0 -.8 0 -.5-.2 -.5-.4 -.3-.3 -.4-.2 -.5 0 -.8 .1 -.4-.4 .2-.7 .4-.3 .6 0 .5-.2 .5-.5 .3-.3 .4-.4 .4-.3 .4-.4 .3-.4 .1-.7 -.2-.7 -.2-.6 -.3-.5 -.2-.4 -.5-.2 -.8 0 -.2-.6 0-.8 0-.7 .2-.7 .3-.3 .5-.4 .5-.3 .5-.2 .7 .1 .5 .2 .5 .3 .1 .5 -.3 .4 -.5 .4 -.4 .2 -.4 .5 -.1 .5 .4 .3 .5 .2 .5 .3 .5 .3 .4 .4 .3 .4 .3 .4 .3 .5 .4 .5 .5 .2 .7-.2 .6-.2 .6 .2 .3 .5 .1 .7 -.1 .8 -.1 .7 .2 .7 .2 .4 .3 .4 .2 .8 .1 .5 .1 .7 .3 .5 .3 .5 .2 .4 .4 .4 .4 .3 .5 .2 .7 .1 .8 0 .7 0 .5-.3 .3-.4 .1-.7 .1-.7 .3-.5 .2-.4 .5-.3 .8 0 .5 .3 .4 .4 .2 .5 0 .7 0 .8 .1 .5 .5 .4 .5 .1 .8 .1 .5 .1 .5 .3 .5 .2 .6 .3 .6 .1 .7 .1 .6 .1 .7 0 .8 .1 .5 .1 .7 .2 .5 .1 .8 .2 .7-.1 .8-.1 .5-.2 .5-.3 .2-.6 .2-.5 .3-.4 .5-.3 .5 0 .5 .1 .6 .1 .6 .3 .4 .2 .2 .5 -.2 .5 .1 .8 .3 .4 .3 .4 .3 .4 .3 .5 .2 .5 .2 .5 .4 .5 .3 .4 .4 .4 .4 .3 .5 .3 .5 .4 .4 .2 .6 .3 .5 .1 .5 .1 .7 .3 .4 .2 .4 .3 .5 .3 .5 .3 .5 .1 .7 .2 .5 .3 .5 .3 .5 .1 .5 .2 .5 .3 .5 .2 .5 .2 .7 .2 .6 .3 .5 .1 .5 .2 .7 .2 .5 .2 .5 .1 .5 .2 .6 .2 .6 .3 .6 .2 .5 .2 .5 .2 .5 .1 .7 .2 .8 0 .5-.2 .5-.4 .3-.3 .4-.5 .3-.3 .5-.4 .4-.3 .4-.3 .4-.3 .5-.2 .8-.2 .5-.1 .7 0 .5 .1 .6 .2 .5 .3 .4 .3 .5 .4 .3 .3 .5 .5 .2 .3 .3 .4 .3 .5 .3 .5 .3 .5 .2 .5 .2 .5 .2 .6 .2 .7 .2 .5 .1 .5 .1 .7 .1 .5 .2 .8 .1 .7 0 .5 .1 .8 0 .7 0 .8 0 .7 0 .8 -.1 .7 0 .5 -.1 .8 -.2 .7 0 .5 -.2 .8 -.1 .5 -.2 .5 -.2 .7 -.2 .5 -.2 .5 -.2 .5 -.3 .5 -.2 .5 -.3 .5 -.4 .5 -.2 .3 -.4 .5 -.4 .3 -.5 .4 -.3 .3 -.5 .2 -.7 .3 -.5 .1 -.7 0 -.7-.1 -.6-.2 -.5-.3 -.5-.3 -.3-.2 -.4-.4 -.4-.4 -.4-.3 -.4-.4 -.3-.4 -.4-.4 -.4-.3 -.6-.2 -.4 0 -.7 .2 -.5 .1 -.8 .2 -.5 .2 -.5 .2 -.5 .2 -.7 .2 -.5 .1 -.5 .1 -.8 .2 -.7 .1 -.5 0 -.8 0 -.7 0 -.5 0 -.8-.1 -.7 0 -.8 0 -.7 0 -.8 .1 -.5 0 -.7 .1 -.8 .1 -.5 .1 -.7 .1 -.5 .1 -.8 .1 -.7 .1 -.5 .1 -.8 .1 -.6 .1 -.6 .1 -.8 .1 -.5 .1 -.7 .1 -.8 0 -.7 0 -.8 0 -.7 0 -.8-.1 -.7 0 -.8 0 -.7-.1 -.5 0 -.8 0 -.7 0 -.5 0 -.8 .1 -.7 0 -.8 .1 -.7 0 -.6 .1 -.7 0 -.7 0 -.8 .1 -.7 0 -.8 0 -.7 0 -.8 .1 -.7-.1 -.8 0 -.7 0 -.8 0 -.7-.1 -.8 0 -.7 0 -.8 0 -.7 0 -.8 0 -.7 0 -.8 0 -.5 0 -.7-.1 -.8-.1 -.5-.1 -.7-.1 -.8-.1 -.5 0 -.7-.1 -.8-.1 -.7 0 -.5-.1 -.8-.1 -.6-.1 -.6-.2 -.5-.1 -.5-.2 -.5-.3 -.5-.2 -.5-.3 -.5-.3 -.5-.3 -.5-.3 -.4-.3 -.4-.5 -.1-.5 -.1-.8 -.2-.5 -.3-.5 -.3-.3 -.3-.4 -.3-.5 -.2-.5 -.3-.5 -.3-.5 -.1-.5 0-.5 .1-.8 -.1-.7 -.1-.5 0-.8 .1-.5 .2-.7 -.2-.8 -.1-.5 -.1-.6 -.2-.6 0-.8 .3-.5 .2-.5 -.1-.5 -.4-.5 -.3-.5 0-.3 .2-.6 .3-.5 0-.6 -.1-.5 .1-.6 .1-.6 -.2-.5 -.2-.6 -.3-.4 -.2-.5 -.2-.6 -.3-.7 -.2-.5 0-.6 -.2-.6 -.1-.4 M430.8 51.2l-.7 .2 -.5-.4 .2-.8 .3-.3 .7 0 .3 .3 0 .6 -.3 .4z M455.6 64.7l-.7-.2 -.3-.4 -.3-.6 0-.5 .1-.5 .4-.4 .6 .1 .5 .3 .3 .5 -.1 .7 -.2 .5 -.3 .5z M412.8 34.6l.6 .1 .4 .3 .5 .5 .3 .3 .3 .4 .4 .5 .3 .3 .5 .4 .3 .3 .5 .3 .4 .4 .4 .3 .4 .3 .5 .2 .5 .5 .2 .5 .2 .5 .3 .5 .3 .3 .5 .5 .5 .2 .5 .1 .5 .2 .5 .4 .2 .3 .5 .5 .4 .3 .5 .2 .4 .3 .4 .5 .3 .5 .3 .4 .4 .3 .6 .2 .5 .1 .7 .2 .5 .3 .3 .2 .5 .5 .5 .3 .5 .1 .7 .1 .5 .2 .5 .2 .5 .3 .5 .3 .3 .4 .3 .4 .5 .2 .7 .2 .5 .1 .4 .5 .1 .5 .1 .7 .1 .8 .1 .5 -.1 .7 -.2 .5 -.1 .5 .1 .5 .3 .5 .4 .5 .1 .5 -.3 .5 -.4 .3 -.2 .5 .1 .7 0 .5 .2 .7 .4 .3 .2 .5 0 .8 .2 .5 .5 .3 .5 .3 .7-.1 .3-.3 .4-.5 .3-.4 .3-.3 .5-.5 .2-.3 .4-.5 .4-.3 .7 0 .3 .6 .2 .5 .3 .4 .4 .3 .4 .3 .5 .2 .6 .3 .6 .1 .7 0 .5 .1 .5 .3 .5 .5 .3 .2 .5 .4 .7-.1 .4-.3 .4-.3 .2-.4 .3-.5 .2-.8 -.1-.7 .1-.6 .3-.5 .4-.4 .3-.4 .4-.4 .4-.4 .4-.3 .3-.3 .5-.2 .8-.1 .5 .2 .5 .1 .5 0 .5-.4 .3-.3 .4-.3 .5-.4 .4-.3 .1-.8 -.2-.7 -.3-.3 -.5 0 -.5 .3 -.4 .5 -.3 .3 -.5-.1 -.1-.7 .1-.5 .3-.5 .4-.4 .8 0 .7 .1 .5-.3 .5-.3 .3 .3 -.4 .3 .1 .5 .8 .2 .7 0 .5 .2 .3 .4 .3 .5 .2 .6 .1 .6 .2 .5 0 .8 0 .7 .1 .8 .1 .5 .1 .7 .1 .7 .1 .6 .2 .7 .2 .5 .2 .5 .1 .5 0 .6 -.3 .7 -.2 .5 -.3 .3 0 .7 .3 .3 .1 .7 -.4 .5 -.2 .3 -.3 .7 0 .2 .3 .6 .2 .4 .4 .5 .4 .5 .2 .3 .5 .5 .5 .2 .5 .2 .5 .1 .8 .1 .7 .1 .5 .1 .2 .7 .3 .5 .3 .4 .2 .3 .5 .3 .5 .3 .5 .2 .7 .2 .6 .1 .5 .2 .7 .2 .5 .1 .8 .1 .5 .1 .7 .2 .5 .1 .8 .2 .5 .1 .5 .2 .6 .2 .6 .2 .5 .1 .7 .2 .6 .1 .7 .1 .8 0 .7-.1 .5-.1 .5-.3 .5-.2 .5-.3 .5-.3 .5-.2 .6-.2 .7-.2 .7-.1 .8 .1 .5 .2 .6 .2 .4 .3 .5 .3 .5 .4 .2 .3 .5 .5 .3 .4 .2 .4 .3 .4 .3 .5 .3 .5 .2 .5 .2 .5 .2 .7 .2 .6 .2 .5 .1 .6 .2 .6 .1 .5 .1 .8 .1 .7 .1 .5 .1 .8 0 .7 0 .8 0 .7 0 .8 0 .7 -.1 .8 -.1 .7 0 .5 -.2 .8 -.1 .5 -.1 .7 -.1 .5 -.2 .6 -.2 .7 -.2 .5 -.2 .5 -.2 .5 -.3 .5 -.2 .5 -.3 .5 -.3 .5 -.4 .4 -.2 .3 -.5 .5 -.3 .3 -.5 .4 -.5 .3 -.5 .2 -.5 .2 -.7 .1 -.3 0 -.7 0 -.8-.2 -.5-.2 -.5-.3 -.5-.3 -.4-.2 -.4-.3 -.4-.2 -.5-.3 -.8-.2 -.5 0 -.7 0 -.5 0 -.8 .1 -.5 .1 -.7 .2 -.5 .1 -.8 .2 -.5 .1 -.7 .2 -.5 .1 -.8 0 -.7 .1 -.8 0 -.7-.1 -.8-.1 -.5 0 -.7-.1 -.8-.1 -.5-.1 -.7 0 -.8 0 -.7 0 -.8 0 -.5 .1 -.7 0 -.8 .1 -.7 .1 -.5 0 -.8 .1 -.7 .1 -.5 0 -.8 .1 -.7 .1 -.8 .1 -.7 0 -.3 0 -.7 0 -.8-.1 -.7 0 -.8-.1 -.7 0 -.6-.1 -.7 0 -.7 0 -.8 0 -.7 0 -.8 0 -.5 .1 -.7 0 -.8 .1 -.7 0 -.8 0 -.7 0 -.8 0 -.7 0 -.8 .1 -.6 0 -.6 0 -.8 0 -.7 0 -.8 0 -.7 0 -.5 0 -.8 0 -.7-.1 -.8 0 -.7 0 -.8 0 -.7 0 -.8-.1 -.7 0 -.8 0 -.5-.1 -.7-.1 -.8 0 -.7-.1 -.5-.1 -.8 0 -.7-.1 -.8 0 -.7 0 -.5-.1 -.8-.1 -.7-.1 -.5-.2 -.5-.1 -.6-.2 -.6-.3 -.5-.2 -.5-.3 -.5-.2 -.4-.3 -.5-.2 -.4-.3 -.5-.3 -.5-.4 -.3-.3 -.1-.7 -.1-.6 -.3-.7 -.2-.4 -.3-.4 -.2-.6 -.3-.5 -.2-.5 -.3-.4 -.3-.4 -.1-.8 .1-.7 -.1-.8 -.1-.5 -.1-.7 .1-.7 .2-.6 -.1-.7 -.2-.5 -.1-.8 -.1-.5 0-.7 .2-.5 .2-.5 0-.8 -.3-.5 -.3-.5 0-.3 .3-.6 .2-.5 .1-.6 -.1-.5 0-.7 .1-.5 0-.8 -.3-.5 -.2-.5 -.2-.5 -.1-.5 -.3-.6 M443.3 56.0l-.5 0 0-.7 .5-.2 .3 .4 -.3 .5z M446.1 60.3l-.5-.1 -.5-.3 -.5-.4 -.4-.3 -.4-.2 -.5-.3 -.1-.7 .4-.3 .7 0 .7-.2 .4-.3 .4-.3 .5-.3 .5-.2 .8 0 .5 .2 .5 .3 0 .6 -.3 .3 -.5 .4 -.2 .3 -.5 .5 -.3 .5 -.2 .4 -.4 .3 -.1 .1z M412.8 34.3l.8 .1 .5 .3 .2 .3 .4 .5 .4 .4 .2 .3 .5 .5 .3 .3 .5 .4 .5 .3 .3 .3 .4 .4 .5 .3 .4 .3 .6 .2 .3 .3 .5 .3 .5 .3 .5 .3 .5 .2 .6 .1 .5 .3 .5 .2 .5 .3 .6 .1 .5 .3 .5 .2 .5 .2 .5 .3 .5 .3 .5 .3 .5 .2 .5 .3 .5 .2 .5 .3 .5 .2 .5 .3 .5 .2 .5 .2 .5 .3 .5 .2 .5 .4 .1 .5 .2 .5 .5 .3 .7 .1 .8-.1 .5-.2 .6-.1 .4 .2 .5 0 .5 .3 .6 .2 .4 .3 .5 .5 -.1 .2 -.4 .5 -.2 .5 .2 .5 .7 .2 .8-.1 .5 .2 .4 .5 .3 .3 .5 .3 .5-.2 .5-.4 .2-.5 -.2-.8 -.1-.5 .4-.4 .5-.1 .5 .1 .7 .2 .5 .2 .4 .3 .4 .5 .1 .5 .4 .5 .4 .2 .6 .1 .7-.1 .5-.2 .3-.3 .3-.5 .4-.4 .5 .2 .4 .5 .4 .5 .5 .2 .5 .1 .5-.1 .5-.4 .4-.3 .3-.3 .5-.4 .5-.2 .5-.2 .8-.1 .5 .2 .5 .2 .7 .1 .8 .1 .5 .3 .5 .3 .5 .2 .5 .1 .7 .1 .5 .2 .5 .4 .3 .2 .2 .5 .1 .8 -.1 .6 0 .6 0 .5 .3 .6 .3 .4 .4 .5 .1 .5 .1 .8 -.1 .7 -.1 .6 -.2 .6 -.3 .4 -.2 .7 .2 .7 .3 .4 .5 .3 .5 .2 .4 .4 .3 .4 .2 .6 -.2 .7 -.2 .3 -.4 .5 -.2 .5 .1 .7 .2 .5 .1 .5 -.1 .5 -.2 .8 .2 .6 .5 .4 .3 .2 .5 .3 .5 .3 .3 .4 .1 .8 .2 .5 .1 .5 .3 .6 .3 .4 .4 .4 .5 .3 .5 .2 .5 .1 .8 .2 .5 0 .7 .1 .8 .1 .5 .1 .7 .1 .8 .1 .5 .1 .7 .2 .5 .1 .5 .1 .8 .2 .5 .1 .7 .2 .5 0 .8 .1 .7 0 .5-.1 .8-.1 .5-.1 .7-.2 .5-.1 .8-.2 .5-.1 .7-.1 .8 0 .7 0 .5 .2 .7 .2 .5 .3 .4 .2 .4 .4 .5 .4 .3 .3 .4 .4 .3 .5 .3 .3 .3 .5 .3 .5 .2 .5 .3 .5 .2 .5 .2 .5 .2 .6 .2 .6 .2 .5 .1 .6 .2 .7 .1 .5 .1 .7 .1 .8 .1 .5 .1 .7 0 .8 .1 .7 0 .8 0 .7 -.1 .8 0 .7 -.1 .8 -.1 .5 -.1 .7 -.1 .8 -.1 .5 -.2 .6 -.1 .6 -.2 .5 -.2 .6 -.2 .7 -.2 .5 -.2 .5 -.3 .5 -.2 .5 -.3 .5 -.3 .4 -.3 .4 -.3 .4 -.4 .5 -.3 .3 -.5 .4 -.4 .3 -.4 .3 -.5 .2 -.7 .3 -.5 .1 -.7 .1 -.8-.1 -.7-.1 -.5-.1 -.6-.2 -.7-.2 -.5-.1 -.5-.2 -.7-.2 -.5-.1 -.8 0 -.7 0 -.8 0 -.6 .1 -.6 .1 -.8 .1 -.5 .1 -.7 .1 -.5 .1 -.8 .1 -.7 0 -.8 0 -.7 0 -.8 0 -.7-.1 -.5-.1 -.8-.1 -.5-.1 -.7-.1 -.8-.1 -.5 0 -.7-.1 -.8 0 -.7 0 -.8 0 -.7 0 -.7 .1 -.6 0 -.7 0 -.8 .1 -.7 0 -.8 0 -.7 .1 -.8-.1 -.7 0 -.8 0 -.7-.1 -.6 0 -.7-.1 -.7 0 -.8-.1 -.7 0 -.8-.1 -.7 0 -.8 .1 -.7 0 -.8 0 -.7 .1 -.8 0 -.7-.1 -.8 0 -.7 0 -.8 0 -.7 0 -.8 0 -.7 .1 -.8 0 -.7 0 -.8 0 -.7 0 -.8 0 -.7-.1 -.8 0 -.7 0 -.8 0 -.6-.1 -.6 0 -.8 0 -.7-.1 -.8 0 -.7-.1 -.5 0 -.8-.1 -.7-.1 -.8 0 -.7 0 -.8-.1 -.6 0 -.6 0 -.8-.1 -.7 0 -.5-.1 -.8-.2 -.5-.2 -.5-.1 -.6-.3 -.6-.2 -.5-.3 -.5-.2 -.5-.3 -.5-.2 -.4-.3 -.5-.2 -.4-.3 -.5-.3 -.4-.4 -.2-.5 -.1-.8 -.2-.5 -.2-.5 -.3-.5 -.2-.5 -.1-.5 -.3-.5 -.3-.5 -.3-.5 -.3-.5 -.1-.4 M412.8 81.6l.2-.6 0-.8 0-.7 .2-.5 0-.8 -.2-.5 -.2-.6 M412.8 33.9l.7 .1 .5 .2 .4 .3 .4 .5 .3 .4 .2 .3 .5 .5 .3 .4 .4 .4 .3 .2 .5 .3 .5 .5 .3 .2 .5 .3 .5 .4 .5 .1 .5 .3 .5 .2 .5 .3 .5 .3 .5 .2 .5 .2 .5 .3 .5 .3 .5 .2 .6 .2 .5 .2 .5 .3 .5 .2 .5 .3 .4 .2 .5 .3 .5 .2 .5 .3 .5 .2 .5 .3 .5 .2 .5 .3 .5 .2 .6 .3 .5 .2 .6 .3 .4 .2 .4 .3 .5 .3 .6 .2 .6 0 .5 .2 .5 0 .5 .2 .5 .1 .7 .2 .6 0 .7 .3 .5 0 .5 .3 .8 0 .7 .2 .5 0 .8 0 .7 0 .5 .3 .8 0 .7 0 .8 0 .7 0 .8 0 .7 0 .8 0 .7 0 .8 .1 .7 0 .5-.2 .8 0 .7-.1 .8 0 .5-.3 .7 0 .8 0 .7 0 .8 .1 .7 0 .8 0 .6 .1 .6 .1 .8 0 .5 .3 .6 .1 .4 .2 .5 .3 .5 .4 .5 .3 .3 .3 .3 .5 .2 .5 .3 .5 .1 .6 .2 .6 .2 .5 0 .8 .1 .6 .2 .6 -.1 .8 .2 .5 0 .6 -.5 .3 -.3 .4 0 .7 .2 .5 .1 .5 .1 .7 0 .8 .1 .5 .3 .5 .3 .5 0 .7 .1 .8 0 .7 0 .8 0 .7 0 .8 .1 .7 0 .8 0 .5 .1 .7 .1 .8 .2 .5 .2 .5 .2 .5 .3 .5 .4 .3 .5 .3 .5 .1 .7 .2 .8 .1 .5 0 .7 .1 .8 0 .7 .1 .5 .1 .8 .1 .5 .1 .7 .2 .5 .1 .8 .1 .5 .1 .7 .1 .8 0 .7 0 .8-.1 .5-.1 .7-.1 .5-.2 .8-.1 .5-.1 .7-.2 .5 0 .8 0 .7 0 .5 .1 .6 .2 .6 .2 .5 .3 .4 .2 .4 .3 .5 .4 .4 .3 .4 .4 .3 .4 .4 .5 .3 .4 .2 .3 .3 .5 .3 .5 .3 .5 .2 .5 .2 .5 .2 .5 .3 .7 .2 .6 .1 .5 .2 .5 .2 .7 .1 .5 .1 .8 .1 .5 .1 .7 .1 .8 .1 .5 0 .7 .1 .8 0 .7 0 .8 -.1 .7 0 .8 -.1 .7 0 .5 -.1 .8 -.1 .6 -.1 .6 -.2 .7 -.1 .6 -.1 .5 -.3 .7 -.1 .5 -.2 .5 -.2 .5 -.2 .6 -.3 .6 -.2 .5 -.3 .5 -.2 .4 -.3 .4 -.3 .5 -.4 .5 -.3 .3 -.4 .5 -.3 .3 -.5 .4 -.3 .3 -.5 .3 -.5 .3 -.5 .2 -.5 .2 -.7 .1 -.8 .1 -.5 0 -.5 0 -.7-.1 -.6-.1 -.7-.2 -.5-.2 -.6-.1 -.6-.2 -.5-.1 -.8-.1 -.7-.1 -.8 0 -.7 0 -.8 .1 -.7 .1 -.5 .1 -.8 .1 -.7 0 -.6 .1 -.7 0 -.7 0 -.5 0 -.8-.1 -.7-.1 -.6-.1 -.7-.1 -.7-.1 -.5-.1 -.8-.1 -.7-.1 -.5 0 -.8-.1 -.7 0 -.8 0 -.7 0 -.8 0 -.7 0 -.8 .1 -.7 0 -.8 0 -.7 0 -.8-.1 -.7 0 -.8 0 -.7-.1 -.5 0 -.8-.1 -.7-.1 -.8-.1 -.5 0 -.7-.1 -.8 0 -.7 0 -.8-.1 -.7 0 -.8 0 -.5 0 -.7-.1 -.8 0 -.7 0 -.8-.1 -.7 0 -.8 0 -.7 0 -.8 0 -.7 0 -.8 0 -.7 0 -.8 0 -.7 0 -.8 0 -.7-.1 -.5 0 -.8 0 -.7 0 -.8-.1 -.7 0 -.8 0 -.7-.1 -.5 0 -.8-.1 -.7 0 -.8-.1 -.7-.1 -.5 0 -.8 0 -.7 0 -.8-.1 -.7 0 -.8-.1 -.5-.1 -.7-.1 -.5-.1 -.8-.2 -.5-.2 -.5-.2 -.5-.2 -.5-.2 -.6-.2 -.6-.3 -.5-.2 -.5-.3 -.5-.2 -.4-.3 -.4-.2 -.5-.4 -.3-.4 -.3-.5 -.1-.6 -.2-.6 -.3-.5 -.3-.4 -.2-.4 -.3-.6 M444.6 81.8l-.8 .1 -.7 0 -.8 0 -.6-.2 -.6-.2 0-.3 .5-.2 .7-.2 .5-.1 .8-.1 .7 0 .8 0 .5 .2 0 .5 -.5 .3 -.5 .2z M487.8 97.7l-.7 .2 -.8-.1 -.5-.2 -.5-.4 -.2-.2 -.4-.5 -.4-.5 -.2-.5 -.3-.5 -.2-.5 -.1-.5 -.2-.5 -.1-.8 -.1-.5 -.1-.7 -.1-.8 0-.7 0-.8 .1-.7 .1-.8 .1-.5 .1-.7 .2-.5 .1-.5 .2-.5 .3-.5 .2-.5 .4-.5 .4-.5 .3-.3 .4-.3 .5-.2 .8-.1 .6 .1 .5 .3 .4 .2 .5 .5 .2 .4 .3 .4 .3 .5 .2 .5 .2 .5 .2 .7 .2 .5 .1 .8 .1 .5 .1 .7 0 .8 0 .7 0 .8 -.1 .7 -.1 .8 -.1 .5 -.1 .7 -.2 .5 -.2 .5 -.2 .5 -.2 .5 -.3 .5 -.4 .5 -.3 .3 -.5 .5 -.5 .2z M460.8 95.5l-.7 0 -.8 0 -.7 0 -.5-.1 -.8-.2 -.5-.1 -.5-.2 -.5-.2 -.5-.4 -.5-.3 -.5-.3 -.5-.2 -.5-.1 -.5-.2 -.7-.1 -.8 .1 -.5 .2 -.5 .2 -.5 .2 -.7 .1 -.6 .1 -.7 0 -.7 0 -.5-.1 -.3-.3 .5-.4 .5-.1 .5-.2 .8-.1 .7-.1 .5-.1 .1-.6 .2-.5 .5-.3 .5-.4 .3-.3 -.1-.5 -.5-.4 -.5-.2 -.7 0 -.8 0 -.7 0 -.8 0 -.7-.1 -.5-.1 -.5-.5 .5-.3 .5-.2 .7-.1 .8 0 .7 0 .8 0 .7 0 .6-.1 .4-.3 .4-.5 -.2-.5 -.4-.2 -.5-.3 -.5-.2 -.5-.3 -.5-.2 -.5-.3 -.7-.2 -.6-.2 -.5-.2 -.5-.2 -.5-.2 -.5-.2 -.5-.4 .1-.4 .7-.2 .5-.1 .7-.1 .8 0 .7 0 .8 0 .7 .1 .5 .1 .6 .2 .6 .3 .6 .2 .5 .1 .7 .1 .8-.1 .5-.1 .5-.2 .5-.3 .6-.2 .6-.3 .5-.1 .7-.1 .6-.1 .7 0 .8 .1 .5 0 .7 .1 .8 .1 .5 .1 .5 .2 .6 .2 .6 .3 .4 .2 .4 .3 .5 .3 .4 .4 .3 .3 .4 .5 .4 .5 .2 .4 .3 .6 .1 .5 .2 .5 0 .7 0 .8 -.1 .7 -.1 .5 -.2 .5 -.3 .5 -.3 .5 -.3 .5 -.3 .3 -.5 .5 -.3 .2 -.4 .4 -.5 .3 -.5 .2 -.5 .2 -.5 .2 -.7 .2 -.6 .1 -.7 .2 -.3 0z M430.8 90.0l-.7 .1 -.8 .1 -.7 0 -.8-.1 -.6-.1 -.6-.2 -.5-.2 -.3-.4 -.2-.7 -.3-.4 -.3-.4 .1-.5 .5-.4 .2-.3 .3-.5 .3-.5 .4-.3 .8-.2 .5-.1 .7 0 .5 .1 .8 .1 .5 .2 .7 .1 .8 0 .7-.1 .8-.1 .7 0 .8 .1 .7 0 .8 .1 .5 .1 .7 .1 .5 .2 .8 .2 .5 .1 .5 .2 .5 .2 -.3 .5 -.5 .1 -.7 0 -.8 0 -.7 0 -.8 0 -.7 0 -.8 0 -.7 0 -.8-.1 -.5-.1 -.7-.2 -.4 0 -.2 .5 .3 .4 .5 .3 .3 .3 0 .5 -.5 .5 -.3 .3 -.6 .2 -.6 .2 -.3 .1z M446.6 91.7l-.8 .1 -.7 0 -.8 0 -.5-.1 -.7-.1 -.8-.1 -.5-.1 -.7 0 -.8 0 -.5-.2 -.2-.4 .5-.3 .5-.1 .7-.1 .5-.1 .8 0 .5 .1 .7 .1 .5 .1 .5 .2 .6 .3 .7 .2 .5 .3 0 .2z M433.1 96.2l-.8 .1 -.7 0 -.5-.2 -.4-.4 -.4-.5 0-.3 .4-.4 .6-.3 .5-.1 .5-.2 .8-.1 .5-.1 .7-.2 .5-.1 .5-.3 .5-.2 .5-.3 .5-.2 .5-.2 .8-.2 .5-.1 .7-.1 .8-.1 .7 .1 .7 .2 .6 .2 .3 .3 -.1 .6 -.5 .4 -.5 .2 -.5 .2 -.5 .2 -.5 .1 -.7 .2 -.5 .1 -.8 .2 -.5 .2 -.5 .1 -.5 .3 -.5 .2 -.6 .2 -.6 .2 -.5 .1 -.8 .2 -.2 0z M424.3 94.7l-.5-.1 0-.5 .5-.2 .8 0 .5 .2 -.1 .4 -.7 .2 -.5 0z M446.1 98.7l-.8 0 -.5 0 -.7-.1 -.8-.1 -.5-.1 -.6-.2 -.2-.5 .2-.5 .4-.3 .5-.3 .5-.2 .7-.2 .5 0 .8-.1 .7 .1 .5 .1 .7 .2 .4 .2 .4 .5 -.1 .8 -.4 .3 -.5 .2 -.7 .2 -.5 0z M445.3 79.0l-.7 0 -.5-.1 -.8-.1 -.5-.1 -.6-.2 -.5-.3 .3-.5 .6-.2 .5-.1 .7-.1 .5-.1 .8-.1 .7-.1 .5 0 .8-.1 .7 .1 .5 0 .8 .1 .5 .3 -.1 .3 -.5 .3 -.7 .2 -.5 .2 -.5 .2 -.6 .1 -.6 .2 -.7 .1 -.1 0z M447.3 99.0l-.7 .1 -.8 0 -.7 0 -.8-.1 -.7 0 -.5-.1 -.8 0 -.7-.1 -.8 0 -.7-.1 -.5 0 -.8-.2 -.5-.1 -.6-.2 -.6-.1 -.7-.1 -.6-.1 -.7-.1 -.8 0 -.5-.1 -.7 0 -.8-.1 -.6-.1 -.6-.2 -.5-.1 -.7-.2 -.5-.3 -.3-.3 -.3-.4 -.5-.5 -.5-.2 -.7-.1 -.8 .1 -.7 .1 -.7 .1 -.6 0 -.7 0 -.7 0 -.6-.2 -.5-.3 0-.5 .3-.5 .2-.5 .3-.5 .2-.3 .5-.2 .8-.1 .7 .1 .5 .1 .5 .2 .5 .3 .5 .2 .5 .2 .5 .2 .8 .3 .5 0 .5 0 .7-.2 .6-.1 .7-.1 .5-.1 .7-.2 .5-.1 .5-.2 .5-.3 .5-.5 .2-.5 .2-.5 .4-.2 .6-.3 .6-.2 .5-.2 .5-.2 .5-.2 .5-.2 .5-.5 -.5-.3 -.7-.2 -.5 0 -.8-.1 -.7 .1 -.5 .1 -.6 .2 -.5 .2 -.4 .4 -.5 .4 -.3 .3 -.5 .3 -.7 .1 -.5 0 -.8 0 -.5 0 -.7 0 -.8 0 -.7 0 -.8-.1 -.5-.1 -.7-.1 -.8-.1 -.7 0 -.7-.1 -.6-.1 -.5-.2 -.5-.2 -.5-.2 -.5-.4 -.2-.6 .2-.7 .4-.3 .5-.3 .6-.2 .5-.1 .6-.2 .6-.2 .3-.4 .3-.6 .2-.3 .5-.3 .6-.2 .7-.2 .5-.1 .7-.1 .8 0 .7 0 .8 0 .6-.1 .1-.3 -.2-.4 -.3-.5 -.5-.5 -.2-.4 .1-.4 .6-.2 .5-.1 .8 0 .7 0 .8 0 .7 .1 .5 .1 .8 .1 0 .5 .5 .3 .6 0 .1-.3 -.5-.3 -.4-.4 .3-.5 .3-.5 .2-.5 -.4-.4 -.4-.4 -.3-.3 0-.5 .5-.2 .7-.1 .8 0 .6 .1 .6 .3 .3 .4 -.1 .3 .3 .5 .5 .2 .5 .1 .8 0 .7 0 .7 0 .6-.1 .7-.1 .8 0 .7 0 .8 0 .5 .2 .7 .2 .5 .2 .5 .3 .3 .5 .2 .4 .5 .2 .8 .1 .7 0 .8-.1 .5-.2 .5-.2 .5-.3 .5-.1 .7-.2 .8-.1 .7 0 .8 0 .7 .1 .8 .1 .7 .1 .5 .1 .8 .1 .5 .1 .7 .2 .5 .1 .6 .1 .7 .2 .5 .2 .5 .1 .5 .3 .5 .2 .5 .3 .5 .3 .5 .4 .2 .3 .5 .5 .3 .3 .3 .4 .3 .5 .3 .5 .2 .5 .2 .5 .2 .8 0 .5 0 .7 0 .8 -.1 .5 -.2 .5 -.2 .7 -.3 .5 -.2 .4 -.3 .4 -.4 .5 -.3 .3 -.5 .4 -.3 .3 -.5 .3 -.5 .3 -.5 .3 -.5 .2 -.5 .2 -.5 .2 -.7 .2 -.5 .1 -.8 .1 -.7 .1 -.5 0 -.8 0 -.5-.1 -.7 0 -.8-.1 -.5-.1 -.7-.1 -.5-.1 -.8-.2 -.5-.2 -.5-.2 -.5-.2 -.5-.3 -.5-.2 -.7-.2 -.8 0 -.7 .1 -.8 0 -.7 .1 -.5 .1 -.8 .2 -.5 .2 .3 .2 .5 .2 .5 .1 .6 .3 .6 .2 .3 .3 0 .7 -.2 .5 -.3 .5 -.3 .3 -.5 .2 -.7 .3 -.3 0z M425.8 80.2l-.7 .1 -.8 0 -.5-.1 -.3-.5 .6-.1 .7 0 .8 .1 .5 .2 -.2 .3 -.1 0z M487.8 98.8l-.7 .1 -.8-.1 -.5-.2 -.5-.3 -.4-.3 -.3-.4 -.3-.4 -.3-.5 -.3-.5 -.2-.5 -.3-.5 -.1-.5 -.2-.7 -.2-.5 -.1-.8 -.1-.5 -.1-.7 0-.8 0-.7 0-.8 0-.7 .1-.8 .1-.5 .1-.7 .2-.5 .2-.7 .2-.6 .2-.5 .2-.5 .3-.5 .3-.5 .3-.3 .4-.4 .3-.3 .5-.3 .5-.2 .8-.1 .7 .1 .5 .3 .4 .2 .4 .4 .3 .4 .4 .5 .3 .4 .2 .5 .3 .6 .2 .5 .1 .5 .2 .5 .1 .7 .1 .5 .1 .8 .1 .7 .1 .8 0 .7 -.1 .8 0 .7 -.1 .8 -.1 .5 -.2 .7 -.1 .5 -.2 .6 -.2 .7 -.2 .5 -.3 .5 -.3 .5 -.2 .4 -.3 .3 -.5 .5 -.4 .3 -.5 .2 -.1 .1z M443.1 85.5l.5-.1 .5-.3 -.3-.3 -.5-.2 -.5-.1 -.7-.1 -.8-.1 -.5-.1 -.7 0 -.8 0 -.7 0 -.5 0 -.6 .3 .4 .2 .6 .3 .6 .1 .5 .2 .7 .1 .5 .1 .8 .1 .7-.1 .8 0z M440.1 97.0l.5-.3 .5-.2 .5-.3 .7-.2 .5-.2 .5-.1 .8-.2 .5-.1 .6-.2 -.4-.3 -.5-.2 -.6-.2 -.6-.1 -.8 0 -.5 .1 -.7 .2 -.5 .2 -.5 .2 -.5 .2 -.5 .3 -.5 .2 -.5 .3 -.2 .6 .4 .3 .8 .2 .7-.1 .3-.1z M446.8 99.5l-.5 0 -.7-.1 -.8 0 -.7-.1 -.8 0 -.7 0 -.8 0 -.7 0 -.8 0 -.7 0 -.8-.1 -.5 0 -.7-.2 -.5-.1 -.8-.2 -.5-.1 -.7-.1 -.6 0 -.7-.1 -.7 0 -.8-.1 -.5-.1 -.7-.1 -.5-.2 -.7-.2 -.6-.1 -.5-.2 -.7-.2 -.5-.2 -.5-.2 -.5-.2 -.5-.2 -.8-.1 -.7 0 -.5-.1 -.8-.1 -.7-.1 -.5-.2 -.5-.2 -.5-.2 -.4-.4 0-.8 .2-.5 .1-.7 .3-.5 .3-.3 .5-.4 .4-.3 .1-.5 -.3-.3 -.5-.2 -.5-.3 -.5-.3 -.5-.4 -.3-.3 -.1-.7 .2-.5 .4-.5 .3-.3 .5-.3 .5-.2 .5-.3 .5-.3 .3-.4 .4-.5 .3-.2 .5-.3 .5-.3 .5-.2 .5-.2 .7-.3 .6-.2 .3-.3 -.1-.5 -.5-.4 -.5-.3 -.2-.3 -.5-.3 -.5-.2 -.8-.2 -.5-.1 -.7-.1 -.5-.1 -.8-.2 -.3-.3 .1-.5 .5-.3 .6-.2 .6-.1 .8-.1 .7 0 .8 0 .7 .1 .8 .1 .5 .1 .5 .2 .5 .3 .5 .4 .5 .3 .5 .1 .7 0 .8 0 .7 0 .8-.1 .5 0 .6-.3 .2-.5 -.3-.3 -.5-.4 -.5-.2 -.5-.2 -.5-.2 -.5-.2 -.5-.3 -.5-.3 -.5-.3 -.5-.2 -.5-.3 -.5-.2 -.5-.4 -.2-.5 .6-.2 .6-.1 .7 0 .6 .1 .7 .1 .5 .1 .7 .2 .5 .2 .5 .2 .6 .2 .7 .2 .5 .1 .7 .2 .5 0 .8 .1 .7 .1 .6 0 .7 .1 .7-.1 .5 0 .8-.1 .7-.1 .5 0 .8-.2 .7-.1 .5-.1 .8-.1 .5-.1 .7-.1 .8 0 .7 0 .8 .1 .7 0 .5 .1 .8 .1 .7 0 .8 .1 .7 0 .5 0 .8 .2 .5 .1 .2 .4 -.4 .3 -.6 .3 -.5 .1 -.5 .2 -.5 .2 -.5 .4 -.3 .3 .6 .2 .5 .1 .7 0 .8 0 .6 0 .6-.1 .8 0 .7 0 .8 0 .5 .1 .7 .2 .5 .1 .5 .2 .7 .2 .6 .2 .5 .1 .6 .2 .6 .2 .5 .1 .6 .2 .6 .3 .6 .2 .5 .3 .4 .2 .4 .3 .4 .3 .5 .4 .4 .3 .4 .4 .3 .3 .4 .5 .3 .5 .2 .4 .3 .5 .2 .6 .2 .5 .1 .5 .1 .8 0 .7 0 .8 -.1 .5 -.2 .7 -.2 .5 -.3 .5 -.2 .5 -.4 .5 -.2 .4 -.4 .4 -.4 .4 -.3 .3 -.4 .4 -.5 .3 -.5 .3 -.5 .3 -.5 .2 -.5 .3 -.5 .2 -.5 .1 -.6 .2 -.7 .1 -.6 .1 -.6 .1 -.8 0 -.7 .1 -.8-.1 -.7 0 -.8 0 -.7-.1 -.8 0 -.7 0 -.8 .1 -.7 0 -.8 0 -.7 0 -.6 .2 -.5 .2 -.4 .3 -.5 .4 -.4 .3 -.5 .3 -.6 .2 -.5 .2 -.8 .1 -.5 0z M487.8 99.6l-.7 .1 -.8-.1 -.5-.2 -.5-.2 -.5-.5 -.2-.2 -.5-.5 -.3-.5 -.2-.4 -.3-.5 -.2-.5 -.3-.6 -.1-.5 -.2-.5 -.2-.8 -.1-.5 -.1-.7 0-.5 -.1-.8 0-.7 -.1-.8 .1-.7 0-.8 .1-.5 .1-.7 .1-.6 .2-.7 .1-.5 .2-.6 .3-.6 .2-.5 .2-.5 .3-.5 .3-.4 .3-.4 .4-.5 .3-.2 .5-.3 .5-.2 .7-.2 .8 .1 .5 .1 .5 .3 .5 .4 .3 .3 .4 .5 .3 .4 .2 .4 .3 .5 .2 .5 .3 .7 .1 .5 .2 .5 .2 .7 .1 .5 .1 .8 0 .5 .1 .7 .1 .8 0 .7 -.1 .8 0 .7 -.1 .5 -.1 .8 -.1 .7 -.1 .5 -.2 .5 -.2 .8 -.2 .5 -.2 .5 -.3 .5 -.2 .5 -.4 .5 -.2 .3 -.4 .4 -.4 .3 -.5 .3 -.5 .3z M431.4 92.7l-.6-.2 -.7 .1 -.3 .1 .8 .2 .7-.2 .1 0z" fill="none" stroke="#111" stroke-width="0.5" clip-path="url(#cb2)"/>
<text x="1" y="14.5" font-size="17.2" text-anchor="start" font-weight="bold" >A</text>
<line x1="17" y1="61" x2="86.6" y2="61" stroke="#f0a0a0" stroke-width="0.9"/>
<path d="M17 61 L17 60.95 L17.5 60.74 L18 60.74 L18.5 60.68 L19 60.86 L19.5 60.53 L20 60.93 L20.5 60.66 L21 60.76 L21.5 60.69 L22 60.86 L22.5 60.45 L23 60.63 L23.5 60.61 L24 60.77 L24.5 60.48 L25 60.58 L25.5 60.47 L26 60.57 L26.5 60.62 L27 60.37 L27.5 60.67 L28 60.61 L28.5 60.53 L29 60.56 L29.5 60.28 L30 60.34 L30.5 60.17 L31 60.24 L31.5 60.34 L32 60.07 L32.5 60.07 L33 59.94 L33.5 59.82 L34 59.75 L34.5 59.78 L35 59.4 L35.5 59.59 L36 59.83 L36.5 59.46 L37 59.05 L37.5 58.7 L38 58.57 L38.5 59.16 L39 58.45 L39.5 58 L40 58.05 L40.5 58.52 L41 57.55 L41.5 57.45 L42 56.97 L42.5 56.33 L43 55.67 L43.5 55.86 L44 55.93 L44.5 56.43 L45 56.77 L45.5 57.09 L46 57.12 L46.5 57.85 L47 57.81 L47.5 58.58 L48 57.87 L48.5 56.76 L49 56.22 L49.5 54.99 L50 54.47 L50.5 53.39 L51 52.38 L51.5 48.37 L52 46.44 L52.5 44.59 L53 39.42 L53.5 35.95 L54 34.05 L54.5 30.66 L55 31.66 L55.5 31.95 L56 30.35 L56.5 30.07 L57 28.08 L57.5 27.4 L58 27.17 L58.5 26.5 L59 24.31 L59.5 22.15 L60 19.7 L60.5 21.45 L61 26.38 L61.5 31.33 L62 33.81 L62.5 32.34 L63 31.08 L63.5 30.96 L64 33.02 L64.5 37.02 L65 41.83 L65.5 48.47 L66 52.12 L66.5 54.82 L67 55.66 L67.5 57.5 L68 58.15 L68.5 59.04 L69 59.23 L69.5 60.07 L70 60.61 L70.5 60.68 L71 60.78 L71.5 60.8 L72 60.67 L72.5 60.83 L73 60.88 L73.5 60.72 L74 60.83 L74.5 60.68 L75 60.8 L75.5 60.65 L76 60.9 L76.5 60.84 L77 60.8 L77.5 60.73 L78 60.92 L78.5 60.98 L79 60.63 L79.5 60.91 L80 60.95 L80.5 60.83 L81 60.69 L81.5 60.88 L82 60.78 L82.5 60.74 L83 60.69 L83.5 60.85 L84 60.87 L84.5 60.74 L85 60.85 L85.5 60.7 L86 60.87 L86.5 60.8 L86.5 61 Z" fill="#f6b8b6" stroke="none"/>
<path d="M26.5 60.62 L27 60.37 L27.5 60.67 L28 60.61 L28.5 60.53 L29 60.56 L29.5 60.28 L30 60.34 L30.5 60.17 L31 60.24 L31.5 60.34 L32 60.07 L32.5 60.07 L33 59.94 L33.5 59.82 L34 59.75 L34.5 59.78 L35 59.4 L35.5 59.59 L36 59.83 L36.5 59.46 L37 59.05 L37.5 58.7 L38 58.57 L38.5 59.16 L39 58.45 L39.5 58 L40 58.05 L40.5 58.52 L41 57.55 L41.5 57.45 L42 56.97 L42.5 56.33 L43 55.67 L43.5 55.86 L44 55.93 L44.5 56.43 L45 56.77 L45.5 57.09 L46 57.12 L46.5 57.85 L47 57.81 L47.5 58.58 L48 57.87 L48.5 56.76 L49 56.22 L49.5 54.99 L50 54.47 L50.5 53.39 L51 52.38 L51.5 48.37 L52 46.44 L52.5 44.59 L53 39.42 L53.5 35.95 L54 34.05 L54.5 30.66 L55 31.66 L55.5 31.95 L56 30.35 L56.5 30.07 L57 28.08 L57.5 27.4 L58 27.17 L58.5 26.5 L59 24.31 L59.5 22.15 L60 19.7 L60.5 21.45 L61 26.38 L61.5 31.33 L62 33.81 L62.5 32.34 L63 31.08 L63.5 30.96 L64 33.02 L64.5 37.02 L65 41.83 L65.5 48.47 L66 52.12 L66.5 54.82 L67 55.66 L67.5 57.5 L68 58.15 L68.5 59.04 L69 59.23 L69.5 60.07 L70 60.61" fill="none" stroke="#e07070" stroke-width="0.8" stroke-linejoin="round"/>
<line x1="17" y1="103.3" x2="86.6" y2="103.3" stroke="#8c8ce8" stroke-width="0.9"/>
<path d="M17.6 103.3 L17.6 97.34 L18.1 97.59 L18.6 98.74 L19.1 102.85 L19.6 102.81 L20.1 102.93 L20.6 103.04 L21.1 102.89 L21.6 102.91 L22.1 102.92 L22.6 103.05 L23.1 103.2 L23.6 103 L24.1 102.9 L24.6 103.05 L25.1 102.95 L25.6 103 L26.1 103.1 L26.6 102.94 L27.1 103 L27.6 102.92 L28.1 102.99 L28.6 103.02 L29.1 102.91 L29.6 102.97 L30.1 102.98 L30.6 102.94 L31.1 102.9 L31.6 102.88 L32.1 102.99 L32.6 102.98 L33.1 103.19 L33.6 102.79 L34.1 103.01 L34.6 103.03 L35.1 103.12 L35.6 103.04 L36.1 102.93 L36.6 103 L37.1 103.05 L37.6 102.97 L38.1 103.07 L38.6 102.84 L39.1 103.15 L39.6 103.13 L40.1 102.97 L40.6 103.05 L41.1 102.99 L41.6 102.89 L42.1 102.95 L42.6 103.02 L43.1 102.85 L43.6 102.81 L44.1 102.79 L44.6 102.81 L45.1 102.86 L45.6 102.57 L46.1 102.65 L46.6 102.51 L47.1 102.04 L47.6 102.08 L48.1 101.94 L48.6 101.75 L49.1 101.6 L49.6 100.83 L50.1 101.03 L50.6 100.56 L51.1 100.06 L51.6 100.31 L52.1 100.1 L52.6 99.39 L53.1 99.49 L53.6 98.64 L54.1 98.22 L54.6 96.67 L55.1 95.95 L55.6 91.48 L56.1 90.08 L56.6 87.77 L57.1 83.16 L57.6 81.12 L58.1 78 L58.6 76.24 L59.1 74.41 L59.6 71.54 L60.1 70.04 L60.6 72.16 L61.1 71.68 L61.6 69.55 L62.1 68.49 L62.6 65.88 L63.1 64.07 L63.6 66.59 L64.1 69.99 L64.6 69.55 L65.1 76.06 L65.6 80.31 L66.1 85.96 L66.6 91.16 L67.1 91.7 L67.6 95.25 L68.1 96.48 L68.6 97.39 L69.1 99.21 L69.6 100.04 L70.1 101.76 L70.6 102.38 L71.1 102.71 L71.6 102.76 L72.1 102.85 L72.6 102.94 L73.1 102.97 L73.6 102.99 L74.1 103.04 L74.6 103.08 L75.1 103.06 L75.6 103.05 L76.1 103.03 L76.6 103.28 L77.1 103 L77.6 103.03 L78.1 103.13 L78.6 103.08 L79.1 103.13 L79.6 103.16 L80.1 103.19 L80.6 103.15 L81.1 103.03 L81.6 103.18 L82.1 102.97 L82.6 103.09 L83.1 103.06 L83.6 103.02 L84.1 103.14 L84.6 103.09 L85.1 103.17 L85.6 102.99 L86.1 103.16 L86.6 103.14 L86.6 103.3 Z" fill="#a0a0f4" stroke="none"/>
<path d="M17.6 97.34 L18.1 97.59 L18.6 98.74 L19.1 102.85 L19.6 102.81 L20.1 102.93 L20.6 103.04 L21.1 102.89 L21.6 102.91 L22.1 102.92 L22.6 103.05 L23.1 103.2 L23.6 103 L24.1 102.9 L24.6 103.05 L25.1 102.95 L25.6 103 L26.1 103.1 L26.6 102.94 L27.1 103 L27.6 102.92 L28.1 102.99 L28.6 103.02 L29.1 102.91 L29.6 102.97 L30.1 102.98 L30.6 102.94 L31.1 102.9 L31.6 102.88 L32.1 102.99 L32.6 102.98 L33.1 103.19 L33.6 102.79 L34.1 103.01 L34.6 103.03 L35.1 103.12 L35.6 103.04 L36.1 102.93 L36.6 103 L37.1 103.05 L37.6 102.97 L38.1 103.07 L38.6 102.84 L39.1 103.15 L39.6 103.13 L40.1 102.97 L40.6 103.05 L41.1 102.99 L41.6 102.89 L42.1 102.95 L42.6 103.02 L43.1 102.85 L43.6 102.81 L44.1 102.79 L44.6 102.81 L45.1 102.86 L45.6 102.57 L46.1 102.65 L46.6 102.51 L47.1 102.04 L47.6 102.08 L48.1 101.94 L48.6 101.75 L49.1 101.6 L49.6 100.83 L50.1 101.03 L50.6 100.56 L51.1 100.06 L51.6 100.31 L52.1 100.1 L52.6 99.39 L53.1 99.49 L53.6 98.64 L54.1 98.22 L54.6 96.67 L55.1 95.95 L55.6 91.48 L56.1 90.08 L56.6 87.77 L57.1 83.16 L57.6 81.12 L58.1 78 L58.6 76.24 L59.1 74.41 L59.6 71.54 L60.1 70.04 L60.6 72.16 L61.1 71.68 L61.6 69.55 L62.1 68.49 L62.6 65.88 L63.1 64.07 L63.6 66.59 L64.1 69.99 L64.6 69.55 L65.1 76.06 L65.6 80.31 L66.1 85.96 L66.6 91.16 L67.1 91.7 L67.6 95.25 L68.1 96.48 L68.6 97.39 L69.1 99.21 L69.6 100.04 L70.1 101.76 L70.6 102.38 L71.1 102.71" fill="none" stroke="#5858e0" stroke-width="0.8" stroke-linejoin="round"/>
<line x1="17" y1="145" x2="86.6" y2="145" stroke="#b8eca0" stroke-width="0.9"/>
<path d="M17 145 L17 144.95 L17.5 144.91 L18 144.9 L18.5 144.84 L19 144.89 L19.5 144.89 L20 144.9 L20.5 144.88 L21 144.9 L21.5 144.88 L22 144.86 L22.5 144.93 L23 144.93 L23.5 144.95 L24 144.9 L24.5 144.88 L25 144.88 L25.5 144.85 L26 144.93 L26.5 144.86 L27 144.86 L27.5 144.89 L28 144.94 L28.5 144.9 L29 144.86 L29.5 144.87 L30 144.91 L30.5 144.88 L31 144.86 L31.5 144.88 L32 144.91 L32.5 144.95 L33 144.84 L33.5 144.86 L34 144.85 L34.5 144.8 L35 144.84 L35.5 144.84 L36 144.91 L36.5 144.86 L37 144.81 L37.5 144.89 L38 144.85 L38.5 144.8 L39 144.84 L39.5 144.83 L40 144.82 L40.5 144.85 L41 144.76 L41.5 144.84 L42 144.88 L42.5 144.87 L43 144.88 L43.5 144.88 L44 144.89 L44.5 144.78 L45 144.86 L45.5 144.74 L46 144.79 L46.5 144.73 L47 144.85 L47.5 144.86 L48 144.79 L48.5 144.86 L49 144.71 L49.5 144.68 L50 144.59 L50.5 144.4 L51 144.37 L51.5 144.35 L52 143.9 L52.5 143.72 L53 142.91 L53.5 142.33 L54 141.12 L54.5 140.14 L55 139.1 L55.5 137.84 L56 136.09 L56.5 135.49 L57 133.1 L57.5 131.98 L58 130.18 L58.5 127.35 L59 125.36 L59.5 123.52 L60 120.78 L60.5 118.17 L61 115.12 L61.5 114.22 L62 112.59 L62.5 110.95 L63 109.21 L63.5 108.73 L64 106.93 L64.5 106.13 L65 105.97 L65.5 105.57 L66 108.63 L66.5 113.18 L67 115.38 L67.5 117.47 L68 121.47 L68.5 125.57 L69 129.8 L69.5 133.05 L70 136.17 L70.5 139.09 L71 141.65 L71.5 143.61 L72 144.47 L72.5 144.52 L73 144.54 L73.5 144.65 L74 144.59 L74.5 144.69 L75 144.73 L75.5 144.73 L76 144.69 L76.5 144.82 L77 144.74 L77.5 144.81 L78 144.77 L78.5 144.75 L79 144.84 L79.5 144.85 L80 144.85 L80.5 144.87 L81 144.85 L81.5 144.85 L82 144.87 L82.5 144.95 L83 144.92 L83.5 144.88 L84 144.91 L84.5 144.88 L85 144.88 L85.5 144.93 L86 144.88 L86.5 144.85 L86.5 145 Z" fill="#cdf5b8" stroke="none"/>
<path d="M50 144.59 L50.5 144.4 L51 144.37 L51.5 144.35 L52 143.9 L52.5 143.72 L53 142.91 L53.5 142.33 L54 141.12 L54.5 140.14 L55 139.1 L55.5 137.84 L56 136.09 L56.5 135.49 L57 133.1 L57.5 131.98 L58 130.18 L58.5 127.35 L59 125.36 L59.5 123.52 L60 120.78 L60.5 118.17 L61 115.12 L61.5 114.22 L62 112.59 L62.5 110.95 L63 109.21 L63.5 108.73 L64 106.93 L64.5 106.13 L65 105.97 L65.5 105.57 L66 108.63 L66.5 113.18 L67 115.38 L67.5 117.47 L68 121.47 L68.5 125.57 L69 129.8 L69.5 133.05 L70 136.17 L70.5 139.09 L71 141.65 L71.5 143.61 L72 144.47" fill="none" stroke="#a8e090" stroke-width="0.8" stroke-linejoin="round"/>
<line x1="17" y1="186.6" x2="86.6" y2="186.6" stroke="#f4c098" stroke-width="0.9"/>
<path d="M17.6 186.6 L17.6 180.52 L18.1 180.81 L18.6 182.22 L19.1 186.13 L19.6 186.34 L20.1 186.28 L20.6 186.35 L21.1 186.44 L21.6 186.42 L22.1 186.32 L22.6 186.45 L23.1 186.39 L23.6 186.43 L24.1 186.42 L24.6 186.32 L25.1 186.43 L25.6 186.36 L26.1 186.51 L26.6 186.45 L27.1 186.4 L27.6 186.33 L28.1 186.4 L28.6 186.41 L29.1 186.31 L29.6 186.56 L30.1 186.43 L30.6 186.52 L31.1 186.32 L31.6 186.52 L32.1 186.3 L32.6 186.35 L33.1 186.44 L33.6 186.4 L34.1 186.23 L34.6 186.32 L35.1 186.46 L35.6 186.55 L36.1 186.47 L36.6 186.38 L37.1 186.46 L37.6 186.32 L38.1 186.44 L38.6 186.3 L39.1 186.4 L39.6 186.39 L40.1 186.46 L40.6 186.38 L41.1 186.49 L41.6 186.39 L42.1 186.46 L42.6 186.46 L43.1 186.27 L43.6 186.4 L44.1 186.4 L44.6 186.34 L45.1 186.41 L45.6 186.22 L46.1 186.28 L46.6 186.11 L47.1 185.89 L47.6 185.94 L48.1 185.04 L48.6 184.28 L49.1 183.32 L49.6 182.97 L50.1 181.85 L50.6 181.95 L51.1 180.69 L51.6 180.72 L52.1 181.28 L52.6 180.81 L53.1 180.26 L53.6 180.59 L54.1 179.82 L54.6 179.91 L55.1 178.17 L55.6 173.22 L56.1 169.84 L56.6 165.98 L57.1 160.89 L57.6 156.09 L58.1 153.06 L58.6 148.48 L59.1 148.36 L59.6 148.91 L60.1 154.5 L60.6 154.04 L61.1 154.77 L61.6 157.93 L62.1 158.1 L62.6 159.6 L63.1 161.55 L63.6 165.75 L64.1 171.21 L64.6 176.39 L65.1 179.29 L65.6 181.43 L66.1 183.2 L66.6 184.24 L67.1 185.51 L67.6 186.2 L68.1 186.36 L68.6 186.37 L69.1 186.32 L69.6 186.47 L70.1 186.34 L70.6 186.37 L71.1 186.35 L71.6 186.39 L72.1 186.38 L72.6 186.55 L73.1 186.44 L73.6 186.31 L74.1 186.4 L74.6 186.34 L75.1 186.5 L75.6 186.54 L76.1 186.43 L76.6 186.5 L77.1 186.45 L77.6 186.49 L78.1 186.57 L78.6 186.46 L79.1 186.41 L79.6 186.52 L80.1 186.52 L80.6 186.53 L81.1 186.55 L81.6 186.46 L82.1 186.39 L82.6 186.55 L83.1 186.48 L83.6 186.43 L84.1 186.44 L84.6 186.56 L85.1 186.51 L85.6 186.52 L86.1 186.54 L86.6 186.47 L86.6 186.6 Z" fill="#fad4ae" stroke="none"/>
<path d="M17.6 180.52 L18.1 180.81 L18.6 182.22 L19.1 186.13 L19.6 186.34 L20.1 186.28 L20.6 186.35 L21.1 186.44 L21.6 186.42 L22.1 186.32 L22.6 186.45 L23.1 186.39 L23.6 186.43 L24.1 186.42 L24.6 186.32 L25.1 186.43 L25.6 186.36 L26.1 186.51 L26.6 186.45 L27.1 186.4 L27.6 186.33 L28.1 186.4 L28.6 186.41 L29.1 186.31 L29.6 186.56 L30.1 186.43 L30.6 186.52 L31.1 186.32 L31.6 186.52 L32.1 186.3 L32.6 186.35 L33.1 186.44 L33.6 186.4 L34.1 186.23 L34.6 186.32 L35.1 186.46 L35.6 186.55 L36.1 186.47 L36.6 186.38 L37.1 186.46 L37.6 186.32 L38.1 186.44 L38.6 186.3 L39.1 186.4 L39.6 186.39 L40.1 186.46 L40.6 186.38 L41.1 186.49 L41.6 186.39 L42.1 186.46 L42.6 186.46 L43.1 186.27 L43.6 186.4 L44.1 186.4 L44.6 186.34 L45.1 186.41 L45.6 186.22 L46.1 186.28 L46.6 186.11 L47.1 185.89 L47.6 185.94 L48.1 185.04 L48.6 184.28 L49.1 183.32 L49.6 182.97 L50.1 181.85 L50.6 181.95 L51.1 180.69 L51.6 180.72 L52.1 181.28 L52.6 180.81 L53.1 180.26 L53.6 180.59 L54.1 179.82 L54.6 179.91 L55.1 178.17 L55.6 173.22 L56.1 169.84 L56.6 165.98 L57.1 160.89 L57.6 156.09 L58.1 153.06 L58.6 148.48 L59.1 148.36 L59.6 148.91 L60.1 154.5 L60.6 154.04 L61.1 154.77 L61.6 157.93 L62.1 158.1 L62.6 159.6 L63.1 161.55 L63.6 165.75 L64.1 171.21 L64.6 176.39 L65.1 179.29 L65.6 181.43 L66.1 183.2 L66.6 184.24 L67.1 185.51 L67.6 186.2" fill="none" stroke="#f0b080" stroke-width="0.8" stroke-linejoin="round"/>
<line x1="17" y1="228.6" x2="86.6" y2="228.6" stroke="#666" stroke-width="0.9"/>
<path d="M17 228.6 L17 225.8 L17.5 225.79 L18 225.78 L18.5 225.76 L19 225.74 L19.5 225.72 L20 225.69 L20.5 225.66 L21 225.63 L21.5 225.59 L22 225.56 L22.5 225.52 L23 225.48 L23.5 225.44 L24 225.4 L24.5 225.36 L25 225.31 L25.5 225.27 L26 225.22 L26.5 225.16 L27 225.1 L27.5 225.03 L28 224.96 L28.5 224.88 L29 224.79 L29.5 224.69 L30 224.58 L30.5 224.43 L31 224.24 L31.5 224 L32 223.74 L32.5 223.44 L33 223.13 L33.5 222.8 L34 222.44 L34.5 222.01 L35 221.54 L35.5 221.02 L36 220.47 L36.5 219.87 L37 219.24 L37.5 218.56 L38 217.8 L38.5 216.98 L39 216.09 L39.5 215.12 L40 214.06 L40.5 212.82 L41 211.42 L41.5 209.93 L42 208.4 L42.5 206.9 L43 205.34 L43.5 203.74 L44 202.13 L44.5 200.57 L45 199.04 L45.5 197.48 L46 195.79 L46.5 193.82 L47 192.03 L47.5 190.8 L48 189.76 L48.5 189.3 L49 189.76 L49.5 190.81 L50 191.99 L50.5 193.52 L51 195.34 L51.5 197.31 L52 199.59 L52.5 202.06 L53 204.5 L53.5 206.96 L54 209.48 L54.5 211.8 L55 213.72 L55.5 215.42 L56 216.94 L56.5 218.29 L57 219.45 L57.5 220.5 L58 221.45 L58.5 222.26 L59 222.92 L59.5 223.48 L60 223.98 L60.5 224.43 L61 224.83 L61.5 225.19 L62 225.5 L62.5 225.79 L63 226.06 L63.5 226.31 L64 226.54 L64.5 226.75 L65 226.93 L65.5 227.09 L66 227.22 L66.5 227.35 L67 227.46 L67.5 227.58 L68 227.68 L68.5 227.78 L69 227.87 L69.5 227.96 L70 228.03 L70.5 228.09 L71 228.14 L71.5 228.18 L72 228.2 L72.5 228.21 L73 228.23 L73.5 228.24 L74 228.25 L74.5 228.26 L75 228.28 L75.5 228.29 L76 228.3 L76.5 228.31 L77 228.32 L77.5 228.32 L78 228.33 L78.5 228.34 L79 228.35 L79.5 228.35 L80 228.36 L80.5 228.37 L81 228.37 L81.5 228.38 L82 228.38 L82.5 228.39 L83 228.39 L83.5 228.39 L84 228.39 L84.5 228.4 L85 228.4 L85.5 228.4 L86 228.4 L86.5 228.4 L86.5 228.6 Z" fill="#b4b4b4" stroke="none"/>
<path d="M17 225.8 L17.5 225.79 L18 225.78 L18.5 225.76 L19 225.74 L19.5 225.72 L20 225.69 L20.5 225.66 L21 225.63 L21.5 225.59 L22 225.56 L22.5 225.52 L23 225.48 L23.5 225.44 L24 225.4 L24.5 225.36 L25 225.31 L25.5 225.27 L26 225.22 L26.5 225.16 L27 225.1 L27.5 225.03 L28 224.96 L28.5 224.88 L29 224.79 L29.5 224.69 L30 224.58 L30.5 224.43 L31 224.24 L31.5 224 L32 223.74 L32.5 223.44 L33 223.13 L33.5 222.8 L34 222.44 L34.5 222.01 L35 221.54 L35.5 221.02 L36 220.47 L36.5 219.87 L37 219.24 L37.5 218.56 L38 217.8 L38.5 216.98 L39 216.09 L39.5 215.12 L40 214.06 L40.5 212.82 L41 211.42 L41.5 209.93 L42 208.4 L42.5 206.9 L43 205.34 L43.5 203.74 L44 202.13 L44.5 200.57 L45 199.04 L45.5 197.48 L46 195.79 L46.5 193.82 L47 192.03 L47.5 190.8 L48 189.76 L48.5 189.3 L49 189.76 L49.5 190.81 L50 191.99 L50.5 193.52 L51 195.34 L51.5 197.31 L52 199.59 L52.5 202.06 L53 204.5 L53.5 206.96 L54 209.48 L54.5 211.8 L55 213.72 L55.5 215.42 L56 216.94 L56.5 218.29 L57 219.45 L57.5 220.5 L58 221.45 L58.5 222.26 L59 222.92 L59.5 223.48 L60 223.98 L60.5 224.43 L61 224.83 L61.5 225.19 L62 225.5 L62.5 225.79 L63 226.06 L63.5 226.31 L64 226.54 L64.5 226.75 L65 226.93 L65.5 227.09 L66 227.22 L66.5 227.35 L67 227.46 L67.5 227.58 L68 227.68 L68.5 227.78 L69 227.87 L69.5 227.96 L70 228.03" fill="none" stroke="#3a3a3a" stroke-width="0.8" stroke-linejoin="round"/>
<line x1="55.5" y1="19.4" x2="55.5" y2="229.2" stroke="#222" stroke-width="0.9" stroke-dasharray="0.9 2.95"/>
<line x1="60.3" y1="19.4" x2="60.3" y2="229.2" stroke="#222" stroke-width="0.9" stroke-dasharray="0.9 2.95"/>
<line x1="65.4" y1="19.4" x2="65.4" y2="229.2" stroke="#222" stroke-width="0.9" stroke-dasharray="0.9 2.95"/>
<line x1="70.7" y1="19.4" x2="70.7" y2="229.2" stroke="#222" stroke-width="0.9" stroke-dasharray="0.9 2.95"/>
<rect x="17" y="17.9" width="69.6" height="211.3" fill="none" stroke="#111" stroke-width="1.5"/>
<line x1="18.39" y1="230" x2="18.39" y2="236" stroke="#555" stroke-width="0.7"/>
<line x1="23.96" y1="230" x2="23.96" y2="236" stroke="#555" stroke-width="0.7"/>
<line x1="37.88" y1="230" x2="37.88" y2="236" stroke="#555" stroke-width="0.7"/>
<line x1="53.19" y1="230" x2="53.19" y2="236" stroke="#555" stroke-width="0.7"/>
<line x1="68.5" y1="230" x2="68.5" y2="236" stroke="#555" stroke-width="0.7"/>
<line x1="83.82" y1="230" x2="83.82" y2="236" stroke="#555" stroke-width="0.7"/>
<line x1="42.49" y1="230" x2="42.49" y2="233.5" stroke="#777" stroke-width="0.5"/>
<line x1="45.19" y1="230" x2="45.19" y2="233.5" stroke="#777" stroke-width="0.5"/>
<line x1="47.1" y1="230" x2="47.1" y2="233.5" stroke="#777" stroke-width="0.5"/>
<line x1="48.58" y1="230" x2="48.58" y2="233.5" stroke="#777" stroke-width="0.5"/>
<line x1="49.8" y1="230" x2="49.8" y2="233.5" stroke="#777" stroke-width="0.5"/>
<line x1="50.82" y1="230" x2="50.82" y2="233.5" stroke="#777" stroke-width="0.5"/>
<line x1="51.71" y1="230" x2="51.71" y2="233.5" stroke="#777" stroke-width="0.5"/>
<line x1="52.49" y1="230" x2="52.49" y2="233.5" stroke="#777" stroke-width="0.5"/>
<line x1="57.8" y1="230" x2="57.8" y2="233.5" stroke="#777" stroke-width="0.5"/>
<line x1="60.5" y1="230" x2="60.5" y2="233.5" stroke="#777" stroke-width="0.5"/>
<line x1="62.41" y1="230" x2="62.41" y2="233.5" stroke="#777" stroke-width="0.5"/>
<line x1="63.89" y1="230" x2="63.89" y2="233.5" stroke="#777" stroke-width="0.5"/>
<line x1="65.11" y1="230" x2="65.11" y2="233.5" stroke="#777" stroke-width="0.5"/>
<line x1="66.13" y1="230" x2="66.13" y2="233.5" stroke="#777" stroke-width="0.5"/>
<line x1="67.02" y1="230" x2="67.02" y2="233.5" stroke="#777" stroke-width="0.5"/>
<line x1="67.8" y1="230" x2="67.8" y2="233.5" stroke="#777" stroke-width="0.5"/>
<line x1="73.11" y1="230" x2="73.11" y2="233.5" stroke="#777" stroke-width="0.5"/>
<line x1="75.81" y1="230" x2="75.81" y2="233.5" stroke="#777" stroke-width="0.5"/>
<line x1="77.72" y1="230" x2="77.72" y2="233.5" stroke="#777" stroke-width="0.5"/>
<line x1="79.21" y1="230" x2="79.21" y2="233.5" stroke="#777" stroke-width="0.5"/>
<line x1="80.42" y1="230" x2="80.42" y2="233.5" stroke="#777" stroke-width="0.5"/>
<line x1="81.44" y1="230" x2="81.44" y2="233.5" stroke="#777" stroke-width="0.5"/>
<line x1="82.33" y1="230" x2="82.33" y2="233.5" stroke="#777" stroke-width="0.5"/>
<line x1="83.12" y1="230" x2="83.12" y2="233.5" stroke="#777" stroke-width="0.5"/>
<line x1="33.69" y1="230" x2="33.69" y2="233.5" stroke="#777" stroke-width="0.5"/>
<line x1="31.24" y1="230" x2="31.24" y2="233.5" stroke="#777" stroke-width="0.5"/>
<line x1="29.5" y1="230" x2="29.5" y2="233.5" stroke="#777" stroke-width="0.5"/>
<line x1="28.15" y1="230" x2="28.15" y2="233.5" stroke="#777" stroke-width="0.5"/>
<line x1="27.05" y1="230" x2="27.05" y2="233.5" stroke="#777" stroke-width="0.5"/>
<line x1="26.12" y1="230" x2="26.12" y2="233.5" stroke="#777" stroke-width="0.5"/>
<line x1="25.31" y1="230" x2="25.31" y2="233.5" stroke="#777" stroke-width="0.5"/>
<line x1="24.6" y1="230" x2="24.6" y2="233.5" stroke="#777" stroke-width="0.5"/>
<line x1="20.48" y1="230" x2="20.48" y2="233.5" stroke="#777" stroke-width="0.5"/>
<line x1="21.87" y1="230" x2="21.87" y2="233.5" stroke="#777" stroke-width="0.5"/>
<line x1="26.05" y1="230" x2="26.05" y2="233.5" stroke="#777" stroke-width="0.5"/>
<line x1="28.14" y1="230" x2="28.14" y2="233.5" stroke="#777" stroke-width="0.5"/>
<text x="51" y="245.3" font-size="8.6" text-anchor="middle" font-weight="normal" >CD86</text>
<rect x="94.2" y="25" width="7.5" height="7.5" fill="#e6a8a4" stroke="#c88888" stroke-width="0.8"/>
<text x="103.5" y="32.2" font-size="8.6" text-anchor="start" font-weight="normal" >HSC</text>
<rect x="94.2" y="36.65" width="7.5" height="7.5" fill="#6c6cf4" stroke="#5050d8" stroke-width="0.8"/>
<text x="103.5" y="43.85" font-size="8.6" text-anchor="start" font-weight="normal" >LMPP</text>
<rect x="94.2" y="48.3" width="7.5" height="7.5" fill="#d8f8cc" stroke="#c4ecb4" stroke-width="0.8"/>
<text x="103.5" y="55.5" font-size="8.6" text-anchor="start" font-weight="normal" >ELP</text>
<rect x="94.2" y="59.95" width="7.5" height="7.5" fill="#fde4c8" stroke="#f0d0b0" stroke-width="0.8"/>
<text x="103.5" y="67.15" font-size="8.6" text-anchor="start" font-weight="normal" >CLP</text>
<rect x="94.2" y="71.6" width="7.5" height="7.5" fill="#d4d4d4" stroke="#8c8c8c" stroke-width="0.8"/>
<text x="103.5" y="78.8" font-size="8.6" text-anchor="start" font-weight="normal" >Whole BM</text>
<line x1="151.9" y1="54.5" x2="222.6" y2="54.5" stroke="#f0c090" stroke-width="0.9"/>
<path d="M152 54.5 L152 54.47 L152.5 54.44 L153 54.31 L153.5 54.4 L154 54.43 L154.5 54.36 L155 54.41 L155.5 54.4 L156 54.4 L156.5 54.39 L157 54.42 L157.5 54.46 L158 54.34 L158.5 54.45 L159 54.41 L159.5 54.42 L160 54.33 L160.5 54.4 L161 54.48 L161.5 54.33 L162 54.27 L162.5 54.28 L163 54.4 L163.5 54.5 L164 54.45 L164.5 54.48 L165 54.38 L165.5 54.46 L166 54.36 L166.5 54.41 L167 54.35 L167.5 54.33 L168 54.37 L168.5 54.33 L169 54.44 L169.5 54.37 L170 54.38 L170.5 54.32 L171 54.43 L171.5 54.29 L172 54.38 L172.5 54.31 L173 54.26 L173.5 54.29 L174 54.26 L174.5 54.3 L175 54.28 L175.5 54.33 L176 54.34 L176.5 54.27 L177 54.26 L177.5 54.24 L178 54.11 L178.5 54.18 L179 54.13 L179.5 53.97 L180 54.16 L180.5 53.79 L181 53.41 L181.5 53.15 L182 52.95 L182.5 52.65 L183 52.78 L183.5 52.04 L184 51.91 L184.5 51.48 L185 51.68 L185.5 50.63 L186 50.71 L186.5 50.53 L187 50.4 L187.5 50.2 L188 49.65 L188.5 49.71 L189 48.66 L189.5 48.05 L190 43.97 L190.5 43.14 L191 39.8 L191.5 37.66 L192 37.73 L192.5 35.81 L193 31.18 L193.5 30.74 L194 29.1 L194.5 25.56 L195 25.96 L195.5 24.98 L196 23.71 L196.5 20.61 L197 23.13 L197.5 22.75 L198 24.04 L198.5 25.29 L199 28.73 L199.5 31.32 L200 32.56 L200.5 35.51 L201 38.7 L201.5 39.8 L202 43.74 L202.5 44.82 L203 47.33 L203.5 49.89 L204 51.65 L204.5 52.75 L205 53.42 L205.5 54.07 L206 54.31 L206.5 54.24 L207 54.33 L207.5 54.28 L208 54.5 L208.5 54.28 L209 54.32 L209.5 54.32 L210 54.32 L210.5 54.36 L211 54.38 L211.5 54.26 L212 54.33 L212.5 54.29 L213 54.45 L213.5 54.5 L214 54.46 L214.5 54.4 L215 54.45 L215.5 54.4 L216 54.49 L216.5 54.43 L217 54.38 L217.5 54.33 L218 54.36 L218.5 54.41 L219 54.33 L219.5 54.39 L220 54.47 L220.5 54.4 L221 54.5 L221.5 54.48 L222 54.38 L222.5 54.32 L222.5 54.5 Z" fill="#f9cc96" stroke="none"/>
<path d="M180 54.16 L180.5 53.79 L181 53.41 L181.5 53.15 L182 52.95 L182.5 52.65 L183 52.78 L183.5 52.04 L184 51.91 L184.5 51.48 L185 51.68 L185.5 50.63 L186 50.71 L186.5 50.53 L187 50.4 L187.5 50.2 L188 49.65 L188.5 49.71 L189 48.66 L189.5 48.05 L190 43.97 L190.5 43.14 L191 39.8 L191.5 37.66 L192 37.73 L192.5 35.81 L193 31.18 L193.5 30.74 L194 29.1 L194.5 25.56 L195 25.96 L195.5 24.98 L196 23.71 L196.5 20.61 L197 23.13 L197.5 22.75 L198 24.04 L198.5 25.29 L199 28.73 L199.5 31.32 L200 32.56 L200.5 35.51 L201 38.7 L201.5 39.8 L202 43.74 L202.5 44.82 L203 47.33 L203.5 49.89 L204 51.65 L204.5 52.75 L205 53.42 L205.5 54.07" fill="none" stroke="#e8a464" stroke-width="0.8" stroke-linejoin="round"/>
<line x1="151.9" y1="89.5" x2="222.6" y2="89.5" stroke="#b0c8e8" stroke-width="0.9"/>
<path d="M152 89.5 L152 89.5 L152.5 89.38 L153 89.37 L153.5 89.24 L154 89.39 L154.5 89.36 L155 89.33 L155.5 89.38 L156 89.37 L156.5 89.26 L157 89.25 L157.5 89.26 L158 89.34 L158.5 89.31 L159 89.13 L159.5 89.12 L160 89.27 L160.5 89.33 L161 89.12 L161.5 88.99 L162 89.14 L162.5 88.89 L163 88.95 L163.5 89 L164 88.79 L164.5 88.63 L165 88.66 L165.5 88.34 L166 88.33 L166.5 88.17 L167 88.14 L167.5 87.99 L168 87.96 L168.5 87.83 L169 87.83 L169.5 87.73 L170 87.69 L170.5 87.87 L171 87.06 L171.5 87.69 L172 87.22 L172.5 86.9 L173 87.11 L173.5 87.13 L174 87.34 L174.5 86.7 L175 87 L175.5 86.91 L176 86.32 L176.5 86.38 L177 86.83 L177.5 86.78 L178 86.82 L178.5 86.56 L179 86.42 L179.5 86.22 L180 86.43 L180.5 85.6 L181 85.59 L181.5 85.37 L182 84.12 L182.5 84.72 L183 83.36 L183.5 83.11 L184 83.58 L184.5 81.72 L185 81.45 L185.5 82.07 L186 80.25 L186.5 79.91 L187 79.51 L187.5 78.02 L188 75.16 L188.5 72.27 L189 71.04 L189.5 69.79 L190 70.3 L190.5 70.82 L191 71.33 L191.5 68.86 L192 68.3 L192.5 64.14 L193 64.95 L193.5 64.47 L194 60.43 L194.5 59.11 L195 57.74 L195.5 57.92 L196 55.35 L196.5 55.67 L197 56.91 L197.5 59.81 L198 64.34 L198.5 66.19 L199 71.5 L199.5 75.79 L200 80.04 L200.5 82.2 L201 85.94 L201.5 87.89 L202 88.92 L202.5 89.16 L203 89.17 L203.5 89.26 L204 89.37 L204.5 89.32 L205 89.32 L205.5 89.46 L206 89.49 L206.5 89.34 L207 89.48 L207.5 89.22 L208 89.22 L208.5 89.42 L209 89.35 L209.5 89.4 L210 89.4 L210.5 89.37 L211 89.42 L211.5 89.39 L212 89.29 L212.5 89.4 L213 89.4 L213.5 89.49 L214 89.32 L214.5 89.39 L215 89.37 L215.5 89.39 L216 89.49 L216.5 89.42 L217 89.37 L217.5 89.41 L218 89.44 L218.5 89.34 L219 89.38 L219.5 89.48 L220 89.45 L220.5 89.4 L221 89.37 L221.5 89.39 L222 89.32 L222.5 89.45 L222.5 89.5 Z" fill="#cfe4f8" stroke="none"/>
<path d="M162 89.14 L162.5 88.89 L163 88.95 L163.5 89 L164 88.79 L164.5 88.63 L165 88.66 L165.5 88.34 L166 88.33 L166.5 88.17 L167 88.14 L167.5 87.99 L168 87.96 L168.5 87.83 L169 87.83 L169.5 87.73 L170 87.69 L170.5 87.87 L171 87.06 L171.5 87.69 L172 87.22 L172.5 86.9 L173 87.11 L173.5 87.13 L174 87.34 L174.5 86.7 L175 87 L175.5 86.91 L176 86.32 L176.5 86.38 L177 86.83 L177.5 86.78 L178 86.82 L178.5 86.56 L179 86.42 L179.5 86.22 L180 86.43 L180.5 85.6 L181 85.59 L181.5 85.37 L182 84.12 L182.5 84.72 L183 83.36 L183.5 83.11 L184 83.58 L184.5 81.72 L185 81.45 L185.5 82.07 L186 80.25 L186.5 79.91 L187 79.51 L187.5 78.02 L188 75.16 L188.5 72.27 L189 71.04 L189.5 69.79 L190 70.3 L190.5 70.82 L191 71.33 L191.5 68.86 L192 68.3 L192.5 64.14 L193 64.95 L193.5 64.47 L194 60.43 L194.5 59.11 L195 57.74 L195.5 57.92 L196 55.35 L196.5 55.67 L197 56.91 L197.5 59.81 L198 64.34 L198.5 66.19 L199 71.5 L199.5 75.79 L200 80.04 L200.5 82.2 L201 85.94 L201.5 87.89 L202 88.92" fill="none" stroke="#88acdc" stroke-width="0.8" stroke-linejoin="round"/>
<line x1="151.9" y1="124.6" x2="222.6" y2="124.6" stroke="#dcb4e4" stroke-width="0.9"/>
<path d="M152 124.6 L152 124.52 L152.5 124.47 L153 124.51 L153.5 124.41 L154 124.53 L154.5 124.41 L155 124.49 L155.5 124.48 L156 124.43 L156.5 124.6 L157 124.43 L157.5 124.49 L158 124.52 L158.5 124.37 L159 124.52 L159.5 124.42 L160 124.48 L160.5 124.34 L161 124.32 L161.5 124.47 L162 124.4 L162.5 124.36 L163 124.39 L163.5 124.36 L164 124.2 L164.5 124.07 L165 124.06 L165.5 123.97 L166 123.82 L166.5 123.91 L167 123.82 L167.5 123.79 L168 123.73 L168.5 123.52 L169 123.41 L169.5 123.32 L170 122.97 L170.5 122.86 L171 122.84 L171.5 122.52 L172 122.35 L172.5 122.25 L173 122.37 L173.5 121.82 L174 121.23 L174.5 120.62 L175 120.17 L175.5 120.41 L176 117.88 L176.5 118.72 L177 118 L177.5 117.58 L178 115.77 L178.5 116.02 L179 113.96 L179.5 111.85 L180 110.31 L180.5 108.08 L181 107.02 L181.5 105.44 L182 104.77 L182.5 102.85 L183 100.94 L183.5 100.02 L184 98.49 L184.5 96.83 L185 94.2 L185.5 95.4 L186 92.63 L186.5 92.41 L187 93.85 L187.5 95.32 L188 95.56 L188.5 91.33 L189 93.5 L189.5 93.91 L190 93.63 L190.5 95.67 L191 97.27 L191.5 99.32 L192 100.78 L192.5 102.58 L193 105.67 L193.5 107.99 L194 110.9 L194.5 111.13 L195 112.4 L195.5 115.27 L196 116.49 L196.5 118.08 L197 118.85 L197.5 119.53 L198 120.59 L198.5 121.76 L199 122.32 L199.5 122.67 L200 123.46 L200.5 123.36 L201 123.78 L201.5 124.09 L202 124.09 L202.5 124.19 L203 124.31 L203.5 124.32 L204 124.31 L204.5 124.3 L205 124.27 L205.5 124.31 L206 124.6 L206.5 124.34 L207 124.5 L207.5 124.36 L208 124.5 L208.5 124.5 L209 124.45 L209.5 124.39 L210 124.35 L210.5 124.5 L211 124.37 L211.5 124.38 L212 124.55 L212.5 124.55 L213 124.47 L213.5 124.46 L214 124.44 L214.5 124.5 L215 124.46 L215.5 124.4 L216 124.45 L216.5 124.5 L217 124.41 L217.5 124.44 L218 124.5 L218.5 124.58 L219 124.51 L219.5 124.5 L220 124.6 L220.5 124.45 L221 124.46 L221.5 124.54 L222 124.55 L222.5 124.52 L222.5 124.6 Z" fill="#f2b4f2" stroke="none"/>
<path d="M165 124.06 L165.5 123.97 L166 123.82 L166.5 123.91 L167 123.82 L167.5 123.79 L168 123.73 L168.5 123.52 L169 123.41 L169.5 123.32 L170 122.97 L170.5 122.86 L171 122.84 L171.5 122.52 L172 122.35 L172.5 122.25 L173 122.37 L173.5 121.82 L174 121.23 L174.5 120.62 L175 120.17 L175.5 120.41 L176 117.88 L176.5 118.72 L177 118 L177.5 117.58 L178 115.77 L178.5 116.02 L179 113.96 L179.5 111.85 L180 110.31 L180.5 108.08 L181 107.02 L181.5 105.44 L182 104.77 L182.5 102.85 L183 100.94 L183.5 100.02 L184 98.49 L184.5 96.83 L185 94.2 L185.5 95.4 L186 92.63 L186.5 92.41 L187 93.85 L187.5 95.32 L188 95.56 L188.5 91.33 L189 93.5 L189.5 93.91 L190 93.63 L190.5 95.67 L191 97.27 L191.5 99.32 L192 100.78 L192.5 102.58 L193 105.67 L193.5 107.99 L194 110.9 L194.5 111.13 L195 112.4 L195.5 115.27 L196 116.49 L196.5 118.08 L197 118.85 L197.5 119.53 L198 120.59 L198.5 121.76 L199 122.32 L199.5 122.67 L200 123.46 L200.5 123.36 L201 123.78 L201.5 124.09" fill="none" stroke="#a838b8" stroke-width="0.8" stroke-linejoin="round"/>
<line x1="151.9" y1="158.7" x2="222.6" y2="158.7" stroke="#b4c8ac" stroke-width="0.9"/>
<path d="M152 158.7 L152 158.5 L152.5 158.46 L153 158.42 L153.5 158.38 L154 158.34 L154.5 158.29 L155 158.24 L155.5 158.19 L156 158.14 L156.5 158.09 L157 158.04 L157.5 157.98 L158 157.92 L158.5 157.85 L159 157.77 L159.5 157.69 L160 157.6 L160.5 157.5 L161 157.37 L161.5 157.23 L162 157.07 L162.5 156.89 L163 156.69 L163.5 156.48 L164 156.24 L164.5 156 L165 155.73 L165.5 155.45 L166 155.16 L166.5 154.83 L167 154.43 L167.5 153.97 L168 153.46 L168.5 152.89 L169 152.29 L169.5 151.66 L170 151 L170.5 150.28 L171 149.48 L171.5 148.6 L172 147.67 L172.5 146.7 L173 145.7 L173.5 144.7 L174 143.64 L174.5 142.53 L175 141.38 L175.5 140.21 L176 139.03 L176.5 137.82 L177 136.59 L177.5 135.35 L178 134.09 L178.5 132.73 L179 131.35 L179.5 130.07 L180 129 L180.5 128.03 L181 127.07 L181.5 126.28 L182 125.84 L182.5 125.92 L183 126.58 L183.5 127.62 L184 128.81 L184.5 129.97 L185 131.33 L185.5 132.87 L186 134.5 L186.5 136.1 L187 137.67 L187.5 139.26 L188 140.87 L188.5 142.51 L189 144.18 L189.5 146.01 L190 147.87 L190.5 149.57 L191 150.95 L191.5 152.1 L192 153.13 L192.5 154.03 L193 154.8 L193.5 155.49 L194 156.13 L194.5 156.68 L195 157.11 L195.5 157.4 L196 157.64 L196.5 157.86 L197 158.03 L197.5 158.15 L198 158.2 L198.5 158.22 L199 158.23 L199.5 158.24 L200 158.26 L200.5 158.27 L201 158.28 L201.5 158.3 L202 158.31 L202.5 158.32 L203 158.33 L203.5 158.34 L204 158.35 L204.5 158.36 L205 158.37 L205.5 158.38 L206 158.39 L206.5 158.4 L207 158.4 L207.5 158.41 L208 158.42 L208.5 158.43 L209 158.43 L209.5 158.44 L210 158.44 L210.5 158.45 L211 158.45 L211.5 158.46 L212 158.46 L212.5 158.47 L213 158.47 L213.5 158.47 L214 158.48 L214.5 158.48 L215 158.48 L215.5 158.49 L216 158.49 L216.5 158.49 L217 158.49 L217.5 158.49 L218 158.49 L218.5 158.5 L219 158.5 L219.5 158.5 L220 158.5 L220.5 158.5 L221 158.5 L221.5 158.5 L222 158.5 L222.5 158.5 L222.5 158.7 Z" fill="#c2dcb2" stroke="none"/>
<path d="M156 158.14 L156.5 158.09 L157 158.04 L157.5 157.98 L158 157.92 L158.5 157.85 L159 157.77 L159.5 157.69 L160 157.6 L160.5 157.5 L161 157.37 L161.5 157.23 L162 157.07 L162.5 156.89 L163 156.69 L163.5 156.48 L164 156.24 L164.5 156 L165 155.73 L165.5 155.45 L166 155.16 L166.5 154.83 L167 154.43 L167.5 153.97 L168 153.46 L168.5 152.89 L169 152.29 L169.5 151.66 L170 151 L170.5 150.28 L171 149.48 L171.5 148.6 L172 147.67 L172.5 146.7 L173 145.7 L173.5 144.7 L174 143.64 L174.5 142.53 L175 141.38 L175.5 140.21 L176 139.03 L176.5 137.82 L177 136.59 L177.5 135.35 L178 134.09 L178.5 132.73 L179 131.35 L179.5 130.07 L180 129 L180.5 128.03 L181 127.07 L181.5 126.28 L182 125.84 L182.5 125.92 L183 126.58 L183.5 127.62 L184 128.81 L184.5 129.97 L185 131.33 L185.5 132.87 L186 134.5 L186.5 136.1 L187 137.67 L187.5 139.26 L188 140.87 L188.5 142.51 L189 144.18 L189.5 146.01 L190 147.87 L190.5 149.57 L191 150.95 L191.5 152.1 L192 153.13 L192.5 154.03 L193 154.8 L193.5 155.49 L194 156.13 L194.5 156.68 L195 157.11 L195.5 157.4 L196 157.64 L196.5 157.86 L197 158.03 L197.5 158.15" fill="none" stroke="#4e6e44" stroke-width="0.8" stroke-linejoin="round"/>
<line x1="151.9" y1="193.7" x2="222.6" y2="193.7" stroke="#b4b4e4" stroke-width="0.9"/>
<path d="M152 193.7 L152 193.5 L152.5 193.5 L153 193.5 L153.5 193.49 L154 193.49 L154.5 193.48 L155 193.48 L155.5 193.47 L156 193.46 L156.5 193.45 L157 193.43 L157.5 193.42 L158 193.41 L158.5 193.39 L159 193.37 L159.5 193.35 L160 193.34 L160.5 193.31 L161 193.29 L161.5 193.27 L162 193.24 L162.5 193.22 L163 193.19 L163.5 193.16 L164 193.14 L164.5 193.11 L165 193.07 L165.5 193.01 L166 192.94 L166.5 192.86 L167 192.76 L167.5 192.65 L168 192.53 L168.5 192.4 L169 192.25 L169.5 192.08 L170 191.87 L170.5 191.64 L171 191.37 L171.5 191.07 L172 190.73 L172.5 190.29 L173 189.74 L173.5 189.1 L174 188.39 L174.5 187.65 L175 186.86 L175.5 185.96 L176 184.97 L176.5 183.91 L177 182.8 L177.5 181.63 L178 180.37 L178.5 178.99 L179 177.5 L179.5 175.76 L180 173.8 L180.5 171.84 L181 170.01 L181.5 168.19 L182 166.47 L182.5 165 L183 163.6 L183.5 162.31 L184 161.62 L184.5 161.93 L185 163.01 L185.5 164.44 L186 165.94 L186.5 167.86 L187 169.93 L187.5 171.84 L188 173.68 L188.5 175.47 L189 177.17 L189.5 178.79 L190 180.34 L190.5 181.78 L191 183.03 L191.5 184.16 L192 185.21 L192.5 186.17 L193 187.03 L193.5 187.8 L194 188.5 L194.5 189.16 L195 189.78 L195.5 190.34 L196 190.84 L196.5 191.28 L197 191.64 L197.5 191.97 L198 192.27 L198.5 192.53 L199 192.74 L199.5 192.9 L200 193.02 L200.5 193.13 L201 193.23 L201.5 193.31 L202 193.37 L202.5 193.4 L203 193.4 L203.5 193.41 L204 193.42 L204.5 193.42 L205 193.43 L205.5 193.43 L206 193.44 L206.5 193.44 L207 193.45 L207.5 193.45 L208 193.45 L208.5 193.46 L209 193.46 L209.5 193.46 L210 193.47 L210.5 193.47 L211 193.47 L211.5 193.48 L212 193.48 L212.5 193.48 L213 193.48 L213.5 193.49 L214 193.49 L214.5 193.49 L215 193.49 L215.5 193.49 L216 193.49 L216.5 193.49 L217 193.5 L217.5 193.5 L218 193.5 L218.5 193.5 L219 193.5 L219.5 193.5 L220 193.5 L220.5 193.5 L221 193.5 L221.5 193.5 L222 193.5 L222.5 193.5 L222.5 193.7 Z" fill="#b4b4ec" stroke="none"/>
<path d="M164.5 193.11 L165 193.07 L165.5 193.01 L166 192.94 L166.5 192.86 L167 192.76 L167.5 192.65 L168 192.53 L168.5 192.4 L169 192.25 L169.5 192.08 L170 191.87 L170.5 191.64 L171 191.37 L171.5 191.07 L172 190.73 L172.5 190.29 L173 189.74 L173.5 189.1 L174 188.39 L174.5 187.65 L175 186.86 L175.5 185.96 L176 184.97 L176.5 183.91 L177 182.8 L177.5 181.63 L178 180.37 L178.5 178.99 L179 177.5 L179.5 175.76 L180 173.8 L180.5 171.84 L181 170.01 L181.5 168.19 L182 166.47 L182.5 165 L183 163.6 L183.5 162.31 L184 161.62 L184.5 161.93 L185 163.01 L185.5 164.44 L186 165.94 L186.5 167.86 L187 169.93 L187.5 171.84 L188 173.68 L188.5 175.47 L189 177.17 L189.5 178.79 L190 180.34 L190.5 181.78 L191 183.03 L191.5 184.16 L192 185.21 L192.5 186.17 L193 187.03 L193.5 187.8 L194 188.5 L194.5 189.16 L195 189.78 L195.5 190.34 L196 190.84 L196.5 191.28 L197 191.64 L197.5 191.97 L198 192.27 L198.5 192.53 L199 192.74 L199.5 192.9 L200 193.02 L200.5 193.13" fill="none" stroke="#3a3aa8" stroke-width="0.8" stroke-linejoin="round"/>
<line x1="151.9" y1="228.7" x2="222.6" y2="228.7" stroke="#888" stroke-width="0.9"/>
<path d="M152 228.7 L152 228.5 L152.5 228.49 L153 228.48 L153.5 228.47 L154 228.45 L154.5 228.43 L155 228.4 L155.5 228.37 L156 228.34 L156.5 228.3 L157 228.26 L157.5 228.22 L158 228.18 L158.5 228.14 L159 228.09 L159.5 228.05 L160 228 L160.5 227.95 L161 227.9 L161.5 227.84 L162 227.77 L162.5 227.7 L163 227.62 L163.5 227.53 L164 227.43 L164.5 227.32 L165 227.2 L165.5 227.04 L166 226.85 L166.5 226.64 L167 226.4 L167.5 226.15 L168 225.88 L168.5 225.6 L169 225.3 L169.5 224.98 L170 224.62 L170.5 224.22 L171 223.79 L171.5 223.31 L172 222.79 L172.5 222.16 L173 221.41 L173.5 220.59 L174 219.7 L174.5 218.78 L175 217.84 L175.5 216.84 L176 215.76 L176.5 214.62 L177 213.4 L177.5 212.05 L178 210.57 L178.5 209.02 L179 207.5 L179.5 205.97 L180 204.43 L180.5 202.95 L181 201.58 L181.5 200.23 L182 199.05 L182.5 198.17 L183 197.37 L183.5 196.78 L184 196.61 L184.5 196.92 L185 197.56 L185.5 198.34 L186 199.3 L186.5 200.67 L187 202.24 L187.5 203.84 L188 205.56 L188.5 207.42 L189 209.45 L189.5 211.83 L190 214.13 L190.5 215.92 L191 217.47 L191.5 218.83 L192 220.03 L192.5 221.13 L193 222.13 L193.5 223 L194 223.73 L194.5 224.37 L195 224.94 L195.5 225.46 L196 225.91 L196.5 226.3 L197 226.66 L197.5 227 L198 227.3 L198.5 227.54 L199 227.7 L199.5 227.8 L200 227.89 L200.5 227.98 L201 228.05 L201.5 228.12 L202 228.17 L202.5 228.22 L203 228.26 L203.5 228.28 L204 228.3 L204.5 228.31 L205 228.32 L205.5 228.33 L206 228.34 L206.5 228.35 L207 228.36 L207.5 228.37 L208 228.38 L208.5 228.39 L209 228.4 L209.5 228.41 L210 228.41 L210.5 228.42 L211 228.43 L211.5 228.43 L212 228.44 L212.5 228.45 L213 228.45 L213.5 228.46 L214 228.46 L214.5 228.47 L215 228.47 L215.5 228.47 L216 228.48 L216.5 228.48 L217 228.48 L217.5 228.49 L218 228.49 L218.5 228.49 L219 228.49 L219.5 228.5 L220 228.5 L220.5 228.5 L221 228.5 L221.5 228.5 L222 228.5 L222.5 228.5 L222.5 228.7 Z" fill="#bcbcbc" stroke="none"/>
<path d="M158.5 228.14 L159 228.09 L159.5 228.05 L160 228 L160.5 227.95 L161 227.9 L161.5 227.84 L162 227.77 L162.5 227.7 L163 227.62 L163.5 227.53 L164 227.43 L164.5 227.32 L165 227.2 L165.5 227.04 L166 226.85 L166.5 226.64 L167 226.4 L167.5 226.15 L168 225.88 L168.5 225.6 L169 225.3 L169.5 224.98 L170 224.62 L170.5 224.22 L171 223.79 L171.5 223.31 L172 222.79 L172.5 222.16 L173 221.41 L173.5 220.59 L174 219.7 L174.5 218.78 L175 217.84 L175.5 216.84 L176 215.76 L176.5 214.62 L177 213.4 L177.5 212.05 L178 210.57 L178.5 209.02 L179 207.5 L179.5 205.97 L180 204.43 L180.5 202.95 L181 201.58 L181.5 200.23 L182 199.05 L182.5 198.17 L183 197.37 L183.5 196.78 L184 196.61 L184.5 196.92 L185 197.56 L185.5 198.34 L186 199.3 L186.5 200.67 L187 202.24 L187.5 203.84 L188 205.56 L188.5 207.42 L189 209.45 L189.5 211.83 L190 214.13 L190.5 215.92 L191 217.47 L191.5 218.83 L192 220.03 L192.5 221.13 L193 222.13 L193.5 223 L194 223.73 L194.5 224.37 L195 224.94 L195.5 225.46 L196 225.91 L196.5 226.3 L197 226.66 L197.5 227 L198 227.3 L198.5 227.54 L199 227.7 L199.5 227.8 L200 227.89 L200.5 227.98 L201 228.05 L201.5 228.12" fill="none" stroke="#1e1e1e" stroke-width="0.8" stroke-linejoin="round"/>
<line x1="171.6" y1="19.4" x2="171.6" y2="229.2" stroke="#222" stroke-width="0.9" stroke-dasharray="0.9 2.95"/>
<line x1="177" y1="19.4" x2="177" y2="229.2" stroke="#222" stroke-width="0.9" stroke-dasharray="0.9 2.95"/>
<line x1="181.9" y1="19.4" x2="181.9" y2="229.2" stroke="#222" stroke-width="0.9" stroke-dasharray="0.9 2.95"/>
<line x1="191.7" y1="19.4" x2="191.7" y2="229.2" stroke="#222" stroke-width="0.9" stroke-dasharray="0.9 2.95"/>
<line x1="197.1" y1="19.4" x2="197.1" y2="229.2" stroke="#222" stroke-width="0.9" stroke-dasharray="0.9 2.95"/>
<line x1="202.2" y1="19.4" x2="202.2" y2="229.2" stroke="#222" stroke-width="0.9" stroke-dasharray="0.9 2.95"/>
<line x1="207.3" y1="19.4" x2="207.3" y2="229.2" stroke="#222" stroke-width="0.9" stroke-dasharray="0.9 2.95"/>
<rect x="151.9" y="17.9" width="70.7" height="211.3" fill="none" stroke="#111" stroke-width="1.5"/>
<line x1="153.31" y1="230" x2="153.31" y2="236" stroke="#555" stroke-width="0.7"/>
<line x1="158.97" y1="230" x2="158.97" y2="236" stroke="#555" stroke-width="0.7"/>
<line x1="173.11" y1="230" x2="173.11" y2="236" stroke="#555" stroke-width="0.7"/>
<line x1="188.66" y1="230" x2="188.66" y2="236" stroke="#555" stroke-width="0.7"/>
<line x1="204.22" y1="230" x2="204.22" y2="236" stroke="#555" stroke-width="0.7"/>
<line x1="219.77" y1="230" x2="219.77" y2="236" stroke="#555" stroke-width="0.7"/>
<line x1="177.79" y1="230" x2="177.79" y2="233.5" stroke="#777" stroke-width="0.5"/>
<line x1="180.53" y1="230" x2="180.53" y2="233.5" stroke="#777" stroke-width="0.5"/>
<line x1="182.47" y1="230" x2="182.47" y2="233.5" stroke="#777" stroke-width="0.5"/>
<line x1="183.98" y1="230" x2="183.98" y2="233.5" stroke="#777" stroke-width="0.5"/>
<line x1="185.21" y1="230" x2="185.21" y2="233.5" stroke="#777" stroke-width="0.5"/>
<line x1="186.25" y1="230" x2="186.25" y2="233.5" stroke="#777" stroke-width="0.5"/>
<line x1="187.16" y1="230" x2="187.16" y2="233.5" stroke="#777" stroke-width="0.5"/>
<line x1="187.95" y1="230" x2="187.95" y2="233.5" stroke="#777" stroke-width="0.5"/>
<line x1="193.35" y1="230" x2="193.35" y2="233.5" stroke="#777" stroke-width="0.5"/>
<line x1="196.09" y1="230" x2="196.09" y2="233.5" stroke="#777" stroke-width="0.5"/>
<line x1="198.03" y1="230" x2="198.03" y2="233.5" stroke="#777" stroke-width="0.5"/>
<line x1="199.54" y1="230" x2="199.54" y2="233.5" stroke="#777" stroke-width="0.5"/>
<line x1="200.77" y1="230" x2="200.77" y2="233.5" stroke="#777" stroke-width="0.5"/>
<line x1="201.81" y1="230" x2="201.81" y2="233.5" stroke="#777" stroke-width="0.5"/>
<line x1="202.71" y1="230" x2="202.71" y2="233.5" stroke="#777" stroke-width="0.5"/>
<line x1="203.51" y1="230" x2="203.51" y2="233.5" stroke="#777" stroke-width="0.5"/>
<line x1="208.9" y1="230" x2="208.9" y2="233.5" stroke="#777" stroke-width="0.5"/>
<line x1="211.64" y1="230" x2="211.64" y2="233.5" stroke="#777" stroke-width="0.5"/>
<line x1="213.58" y1="230" x2="213.58" y2="233.5" stroke="#777" stroke-width="0.5"/>
<line x1="215.09" y1="230" x2="215.09" y2="233.5" stroke="#777" stroke-width="0.5"/>
<line x1="216.32" y1="230" x2="216.32" y2="233.5" stroke="#777" stroke-width="0.5"/>
<line x1="217.36" y1="230" x2="217.36" y2="233.5" stroke="#777" stroke-width="0.5"/>
<line x1="218.26" y1="230" x2="218.26" y2="233.5" stroke="#777" stroke-width="0.5"/>
<line x1="219.06" y1="230" x2="219.06" y2="233.5" stroke="#777" stroke-width="0.5"/>
<line x1="168.85" y1="230" x2="168.85" y2="233.5" stroke="#777" stroke-width="0.5"/>
<line x1="166.36" y1="230" x2="166.36" y2="233.5" stroke="#777" stroke-width="0.5"/>
<line x1="164.6" y1="230" x2="164.6" y2="233.5" stroke="#777" stroke-width="0.5"/>
<line x1="163.23" y1="230" x2="163.23" y2="233.5" stroke="#777" stroke-width="0.5"/>
<line x1="162.11" y1="230" x2="162.11" y2="233.5" stroke="#777" stroke-width="0.5"/>
<line x1="161.16" y1="230" x2="161.16" y2="233.5" stroke="#777" stroke-width="0.5"/>
<line x1="160.34" y1="230" x2="160.34" y2="233.5" stroke="#777" stroke-width="0.5"/>
<line x1="159.62" y1="230" x2="159.62" y2="233.5" stroke="#777" stroke-width="0.5"/>
<line x1="155.44" y1="230" x2="155.44" y2="233.5" stroke="#777" stroke-width="0.5"/>
<line x1="156.85" y1="230" x2="156.85" y2="233.5" stroke="#777" stroke-width="0.5"/>
<line x1="161.09" y1="230" x2="161.09" y2="233.5" stroke="#777" stroke-width="0.5"/>
<line x1="163.21" y1="230" x2="163.21" y2="233.5" stroke="#777" stroke-width="0.5"/>
<text x="190.2" y="245.2" font-size="8.6" text-anchor="middle" font-weight="normal" >CD86</text>
<rect x="228.6" y="19" width="7.5" height="7.5" fill="#f8cc9c" stroke="#ecc090" stroke-width="0.8"/>
<text x="237.9" y="26.2" font-size="8.6" text-anchor="start" font-weight="normal" >CLP</text>
<rect x="228.6" y="30.6" width="7.5" height="7.5" fill="#cce0f4" stroke="#a4c0e0" stroke-width="0.8"/>
<text x="237.9" y="37.8" font-size="8.6" text-anchor="start" font-weight="normal" >CLP2</text>
<rect x="228.6" y="42.2" width="7.5" height="7.5" fill="#ec94f0" stroke="#d880e0" stroke-width="0.8"/>
<text x="237.9" y="49.4" font-size="8.6" text-anchor="start" font-weight="normal" >ProB</text>
<rect x="228.6" y="53.8" width="7.5" height="7.5" fill="#d4ecc4" stroke="#a8c898" stroke-width="0.8"/>
<text x="237.9" y="61" font-size="8.6" text-anchor="start" font-weight="normal" >PreB</text>
<rect x="228.6" y="65.4" width="7.5" height="7.5" fill="#a8b4ec" stroke="#7888d0" stroke-width="0.8"/>
<text x="237.9" y="72.6" font-size="8.6" text-anchor="start" font-weight="normal" >Immature B</text>
<rect x="228.6" y="77" width="7.5" height="7.5" fill="#d0d0d0" stroke="#8c8c8c" stroke-width="0.8"/>
<text x="237.9" y="84.2" font-size="8.6" text-anchor="start" font-weight="normal" >Whole BM</text>
<text x="279.4" y="18" font-size="17.2" text-anchor="start" font-weight="bold" >B</text>
<text x="351.6" y="21.6" font-size="8.4" text-anchor="middle" font-weight="bold" >CD86<tspan font-size="5.2" dy="-3">lo</tspan><tspan dy="3"> Flt3</tspan><tspan font-size="5.2" dy="-3">+</tspan><tspan dy="3"> LSK</tspan></text>
<text x="453.8" y="21.8" font-size="8.4" text-anchor="middle" font-weight="bold" >CD86<tspan font-size="5.2" dy="-3">hi</tspan><tspan dy="3"> Flt3</tspan><tspan font-size="5.2" dy="-3">+</tspan><tspan dy="3"> LSK</tspan></text>
<rect x="312.2" y="29.4" width="92.6" height="92.4" fill="none" stroke="#111" stroke-width="1.3"/>
<rect x="412" y="29.4" width="92.6" height="92.4" fill="none" stroke="#111" stroke-width="1.3"/>
<path d="M313.4 33.2 H372.9 V121.6 M313 72.3 H404.8" fill="none" stroke="#777" stroke-width="0.6"/>
<path d="M413.2 33.2 H472.2 V121.6 M412.8 72.3 H504.6" fill="none" stroke="#777" stroke-width="0.6"/>
<path d="M313.5 124.3 H404.5 M413.3 124.3 H504.5" stroke="#777" stroke-width="1.6" stroke-dasharray="0.8 1.1"/>
<path d="M309.8 33 V121.5" stroke="#999" stroke-width="1.0" stroke-dasharray="0.6 2.2"/>
<path d="M306 126.6 V33" stroke="#111" stroke-width="1.3" fill="none"/>
<path d="M306 29.2 L303.3 35.2 L308.7 35.2 Z" fill="#111"/>
<path d="M305.4 126.6 H512" stroke="#111" stroke-width="1.3" fill="none"/>
<path d="M517.5 126.6 L511.3 123.9 L511.3 129.3 Z" fill="#111"/>
<text x="416.6" y="137.4" font-size="8.4" text-anchor="middle" font-weight="normal" >CD19</text>
<text x="0" y="0" font-size="8.4" text-anchor="middle" transform="translate(302.1 78.4) rotate(-90)">Mac-1</text>
<text x="346.6" y="40.8" font-size="8.5" text-anchor="middle" font-weight="normal" >39.1±1.9</text>
<text x="382.8" y="118.8" font-size="8.5" text-anchor="middle" font-weight="normal" >24.7±4.4</text>
<text x="448.3" y="40.3" font-size="8.5" text-anchor="middle" font-weight="normal" >18.6±0.7</text>
<text x="481.7" y="117.7" font-size="8.5" text-anchor="middle" font-weight="normal" >20.5±0.8</text>
<path d="M315 165.2 V296 H499.5" fill="none" stroke="#111" stroke-width="1.4"/>
<line x1="311" y1="296" x2="315" y2="296" stroke="#111" stroke-width="1.2"/>
<text x="310.2" y="299.1" font-size="8.6" text-anchor="end" font-weight="bold" >0</text>
<line x1="311" y1="269.95" x2="315" y2="269.95" stroke="#111" stroke-width="1.2"/>
<text x="310.2" y="273.05" font-size="8.6" text-anchor="end" font-weight="bold" >10</text>
<line x1="311" y1="243.9" x2="315" y2="243.9" stroke="#111" stroke-width="1.2"/>
<text x="310.2" y="247" font-size="8.6" text-anchor="end" font-weight="bold" >20</text>
<line x1="311" y1="217.85" x2="315" y2="217.85" stroke="#111" stroke-width="1.2"/>
<text x="310.2" y="220.95" font-size="8.6" text-anchor="end" font-weight="bold" >30</text>
<line x1="311" y1="191.8" x2="315" y2="191.8" stroke="#111" stroke-width="1.2"/>
<text x="310.2" y="194.9" font-size="8.6" text-anchor="end" font-weight="bold" >40</text>
<line x1="311" y1="165.75" x2="315" y2="165.75" stroke="#111" stroke-width="1.2"/>
<text x="310.2" y="168.85" font-size="8.6" text-anchor="end" font-weight="bold" >50</text>
<text x="0" y="0" font-size="11.2" text-anchor="middle" transform="translate(292.1 231.7) rotate(-90)">Yield / input</text>
<path d="M326.8 258.3 V256.2 M323.8 256.2 H329.8" stroke="#111" stroke-width="1.5" fill="none"/>
<rect x="322.15" y="259.05" width="9.3" height="36.95" fill="#fff" stroke="#111" stroke-width="1.5"/>
<path d="M340.45 267.2 V265.4 M337.45 265.4 H343.45" stroke="#111" stroke-width="1.5" fill="none"/>
<rect x="334.9" y="267.2" width="11.1" height="28.8" fill="#111"/>
<path d="M363.35 270.5 V269 M360.35 269 H366.35" stroke="#111" stroke-width="1.5" fill="none"/>
<rect x="358.95" y="271.25" width="8.8" height="24.75" fill="#fff" stroke="#111" stroke-width="1.5"/>
<path d="M377.5 247.7 V243.7 M374.5 243.7 H380.5" stroke="#111" stroke-width="1.5" fill="none"/>
<rect x="372" y="247.7" width="11" height="48.3" fill="#111"/>
<path d="M400.7 210.8 V190 M397.7 190 H403.7" stroke="#111" stroke-width="1.5" fill="none"/>
<rect x="396.05" y="211.55" width="9.3" height="84.45" fill="#fff" stroke="#111" stroke-width="1.5"/>
<path d="M414.45 217.8 V215 M411.45 215 H417.45" stroke="#111" stroke-width="1.5" fill="none"/>
<rect x="408.9" y="217.8" width="11.1" height="78.2" fill="#111"/>
<path d="M437.2 206.3 V200 M434.2 200 H440.2" stroke="#111" stroke-width="1.5" fill="none"/>
<rect x="432.75" y="207.05" width="8.9" height="88.95" fill="#fff" stroke="#111" stroke-width="1.5"/>
<path d="M450.95 266.9 V265.4 M447.95 265.4 H453.95" stroke="#111" stroke-width="1.5" fill="none"/>
<rect x="445.5" y="266.9" width="10.9" height="29.1" fill="#111"/>
<path d="M473.9 285.1 V284.2 M470.9 284.2 H476.9" stroke="#111" stroke-width="1.5" fill="none"/>
<rect x="469.55" y="285.85" width="8.7" height="10.15" fill="#fff" stroke="#111" stroke-width="1.5"/>
<path d="M487.85 274.1 V273.6 M484.85 273.6 H490.85" stroke="#111" stroke-width="1.5" fill="none"/>
<rect x="482.4" y="274.1" width="10.9" height="21.9" fill="#111"/>
<line x1="333.75" y1="296" x2="333.75" y2="300" stroke="#111" stroke-width="1.2"/>
<text x="0" y="0" font-size="9.7" font-weight="bold" text-anchor="end" transform="translate(335.95 307) rotate(-45)">cDC</text>
<line x1="370" y1="296" x2="370" y2="300" stroke="#111" stroke-width="1.2"/>
<text x="0" y="0" font-size="9.7" font-weight="bold" text-anchor="end" transform="translate(372.2 307) rotate(-45)">pDC</text>
<line x1="407" y1="296" x2="407" y2="300" stroke="#111" stroke-width="1.2"/>
<text x="0" y="0" font-size="9.7" font-weight="bold" text-anchor="end" transform="translate(409.2 307) rotate(-45)">B lineage</text>
<line x1="443.75" y1="296" x2="443.75" y2="300" stroke="#111" stroke-width="1.2"/>
<text x="0" y="0" font-size="9.7" font-weight="bold" text-anchor="end" transform="translate(445.95 307) rotate(-45)">Myeloid</text>
<line x1="480.75" y1="296" x2="480.75" y2="300" stroke="#111" stroke-width="1.2"/>
<text x="0" y="0" font-size="9.7" font-weight="bold" text-anchor="end" transform="translate(482.95 307) rotate(-45)">NK</text>
<path d="M368.8 230.4 V228.4 H378.4 V230.4" fill="none" stroke="#111" stroke-width="1.1"/>
<path d="M370 221.6L370 225.8M368.18 222.65L371.82 224.75M371.82 222.65L368.18 224.75" stroke="#111" stroke-width="1.1" fill="none"/>
<path d="M376.1 221.6L376.1 225.8M374.28 222.65L377.92 224.75M377.92 222.65L374.28 224.75" stroke="#111" stroke-width="1.1" fill="none"/>
<path d="M439.7 197.5 V195.4 H449.7 V197.5" fill="none" stroke="#111" stroke-width="1.1"/>
<path d="M441.4 188.3L441.4 192.5M439.58 189.35L443.22 191.45M443.22 189.35L439.58 191.45" stroke="#111" stroke-width="1.1" fill="none"/>
<path d="M447.8 188.3L447.8 192.5M445.98 189.35L449.62 191.45M449.62 189.35L445.98 191.45" stroke="#111" stroke-width="1.1" fill="none"/>
<path d="M472.3 253.5 V251.4 H482.5 V253.5" fill="none" stroke="#111" stroke-width="1.1"/>
<path d="M474.5 244.3L474.5 248.5M472.68 245.35L476.32 247.45M476.32 245.35L472.68 247.45" stroke="#111" stroke-width="1.1" fill="none"/>
<path d="M480.6 244.3L480.6 248.5M478.78 245.35L482.42 247.45M482.42 245.35L478.78 247.45" stroke="#111" stroke-width="1.1" fill="none"/>
<rect x="410.2" y="152" width="13.4" height="10.4" fill="#fff" stroke="#111" stroke-width="1.5"/>
<rect x="409.5" y="175.1" width="14.8" height="11.7" fill="#111"/>
<text x="431.3" y="161.8" font-size="9" text-anchor="start" font-weight="normal" >CD86<tspan font-size="5.6" dy="-3.4">-</tspan><tspan dy="3.4"> Flt3</tspan><tspan font-size="5.6" dy="-3.4">+</tspan><tspan dy="3.4"> LSK</tspan></text>
<text x="431.3" y="185.6" font-size="9" text-anchor="start" font-weight="normal" >CD86<tspan font-size="5.6" dy="-3.4">+</tspan><tspan dy="3.4"> Flt3</tspan><tspan font-size="5.6" dy="-3.4">+</tspan><tspan dy="3.4"> LSK</tspan></text>
<text x="3.9" y="277.6" font-size="17.2" text-anchor="start" font-weight="bold" >C</text>
<path d="M60.3 286.3 V404.3 H237.5" fill="none" stroke="#111" stroke-width="1.5"/>
<line x1="56.1" y1="404.3" x2="60.3" y2="404.3" stroke="#111" stroke-width="1.1"/>
<line x1="58.1" y1="397.21" x2="60.3" y2="397.21" stroke="#111" stroke-width="0.8"/>
<line x1="58.1" y1="393.06" x2="60.3" y2="393.06" stroke="#111" stroke-width="0.8"/>
<line x1="58.1" y1="390.12" x2="60.3" y2="390.12" stroke="#111" stroke-width="0.8"/>
<line x1="58.1" y1="387.84" x2="60.3" y2="387.84" stroke="#111" stroke-width="0.8"/>
<line x1="58.1" y1="385.97" x2="60.3" y2="385.97" stroke="#111" stroke-width="0.8"/>
<line x1="58.1" y1="384.4" x2="60.3" y2="384.4" stroke="#111" stroke-width="0.8"/>
<line x1="58.1" y1="383.03" x2="60.3" y2="383.03" stroke="#111" stroke-width="0.8"/>
<line x1="58.1" y1="381.83" x2="60.3" y2="381.83" stroke="#111" stroke-width="0.8"/>
<line x1="57.3" y1="380.75" x2="60.3" y2="380.75" stroke="#111" stroke-width="1.1"/>
<line x1="58.1" y1="373.66" x2="60.3" y2="373.66" stroke="#111" stroke-width="0.8"/>
<line x1="58.1" y1="369.51" x2="60.3" y2="369.51" stroke="#111" stroke-width="0.8"/>
<line x1="58.1" y1="366.57" x2="60.3" y2="366.57" stroke="#111" stroke-width="0.8"/>
<line x1="58.1" y1="364.29" x2="60.3" y2="364.29" stroke="#111" stroke-width="0.8"/>
<line x1="58.1" y1="362.42" x2="60.3" y2="362.42" stroke="#111" stroke-width="0.8"/>
<line x1="58.1" y1="360.85" x2="60.3" y2="360.85" stroke="#111" stroke-width="0.8"/>
<line x1="58.1" y1="359.48" x2="60.3" y2="359.48" stroke="#111" stroke-width="0.8"/>
<line x1="58.1" y1="358.28" x2="60.3" y2="358.28" stroke="#111" stroke-width="0.8"/>
<line x1="56.1" y1="357.2" x2="60.3" y2="357.2" stroke="#111" stroke-width="1.1"/>
<line x1="58.1" y1="350.11" x2="60.3" y2="350.11" stroke="#111" stroke-width="0.8"/>
<line x1="58.1" y1="345.96" x2="60.3" y2="345.96" stroke="#111" stroke-width="0.8"/>
<line x1="58.1" y1="343.02" x2="60.3" y2="343.02" stroke="#111" stroke-width="0.8"/>
<line x1="58.1" y1="340.74" x2="60.3" y2="340.74" stroke="#111" stroke-width="0.8"/>
<line x1="58.1" y1="338.87" x2="60.3" y2="338.87" stroke="#111" stroke-width="0.8"/>
<line x1="58.1" y1="337.3" x2="60.3" y2="337.3" stroke="#111" stroke-width="0.8"/>
<line x1="58.1" y1="335.93" x2="60.3" y2="335.93" stroke="#111" stroke-width="0.8"/>
<line x1="58.1" y1="334.73" x2="60.3" y2="334.73" stroke="#111" stroke-width="0.8"/>
<line x1="57.3" y1="333.65" x2="60.3" y2="333.65" stroke="#111" stroke-width="1.1"/>
<line x1="58.1" y1="326.56" x2="60.3" y2="326.56" stroke="#111" stroke-width="0.8"/>
<line x1="58.1" y1="322.41" x2="60.3" y2="322.41" stroke="#111" stroke-width="0.8"/>
<line x1="58.1" y1="319.47" x2="60.3" y2="319.47" stroke="#111" stroke-width="0.8"/>
<line x1="58.1" y1="317.19" x2="60.3" y2="317.19" stroke="#111" stroke-width="0.8"/>
<line x1="58.1" y1="315.32" x2="60.3" y2="315.32" stroke="#111" stroke-width="0.8"/>
<line x1="58.1" y1="313.75" x2="60.3" y2="313.75" stroke="#111" stroke-width="0.8"/>
<line x1="58.1" y1="312.38" x2="60.3" y2="312.38" stroke="#111" stroke-width="0.8"/>
<line x1="58.1" y1="311.18" x2="60.3" y2="311.18" stroke="#111" stroke-width="0.8"/>
<line x1="56.1" y1="310.1" x2="60.3" y2="310.1" stroke="#111" stroke-width="1.1"/>
<line x1="58.1" y1="303.01" x2="60.3" y2="303.01" stroke="#111" stroke-width="0.8"/>
<line x1="58.1" y1="298.86" x2="60.3" y2="298.86" stroke="#111" stroke-width="0.8"/>
<line x1="58.1" y1="295.92" x2="60.3" y2="295.92" stroke="#111" stroke-width="0.8"/>
<line x1="58.1" y1="293.64" x2="60.3" y2="293.64" stroke="#111" stroke-width="0.8"/>
<line x1="58.1" y1="291.77" x2="60.3" y2="291.77" stroke="#111" stroke-width="0.8"/>
<line x1="58.1" y1="290.2" x2="60.3" y2="290.2" stroke="#111" stroke-width="0.8"/>
<line x1="58.1" y1="288.83" x2="60.3" y2="288.83" stroke="#111" stroke-width="0.8"/>
<line x1="58.1" y1="287.63" x2="60.3" y2="287.63" stroke="#111" stroke-width="0.8"/>
<line x1="56.8" y1="286.6" x2="60.3" y2="286.6" stroke="#111" stroke-width="1.1"/>
<text x="55.2" y="313.2" font-size="8.5" text-anchor="end" font-weight="normal" >100</text>
<text x="55.2" y="360.2" font-size="8.5" text-anchor="end" font-weight="normal" >1</text>
<text x="55.2" y="407.6" font-size="8.5" text-anchor="end" font-weight="normal" >0.01</text>
<text x="0" y="0" font-size="11.2" text-anchor="middle" transform="translate(34.2 348.5) rotate(-90)">CD19<tspan font-size="7" dy="-4">+</tspan><tspan dy="4"> cell yield / input</tspan></text>
<path d="M104.6 393 V388.3 M89.6 388.3 H119.7" stroke="#111" stroke-width="1.3" fill="none"/>
<rect x="75.7" y="393.6" width="58" height="10.7" fill="#fff" stroke="#111" stroke-width="1.5"/>
<path d="M193.2 301.3 V298.1 M178.3 298.1 H208.3" stroke="#555" stroke-width="1.5" fill="none"/>
<rect x="163.3" y="301.3" width="59.8" height="103" fill="#000"/>
<line x1="104.3" y1="404.3" x2="104.3" y2="408.5" stroke="#111" stroke-width="1.3"/>
<line x1="192.8" y1="404.3" x2="192.8" y2="408.5" stroke="#111" stroke-width="1.3"/>
<text x="105.8" y="425" font-size="10.6" text-anchor="middle" font-weight="normal" >CD86<tspan font-size="6.5" dy="-4">-</tspan></text>
<text x="195.5" y="425" font-size="10.6" text-anchor="middle" font-weight="normal" >CD86<tspan font-size="6.5" dy="-4">+</tspan></text>
<path d="M126.5 293.3 V282.2 H180.5 V293.3" fill="none" stroke="#111" stroke-width="0.9"/>
<path d="M149.3 271.2L149.3 277M146.79 272.65L151.81 275.55M151.81 272.65L146.79 275.55" stroke="#111" stroke-width="1.5" fill="none"/>
<path d="M157.2 271.2L157.2 277M154.69 272.65L159.71 275.55M159.71 272.65L154.69 275.55" stroke="#111" stroke-width="1.5" fill="none"/>
</svg>
</body></html>
